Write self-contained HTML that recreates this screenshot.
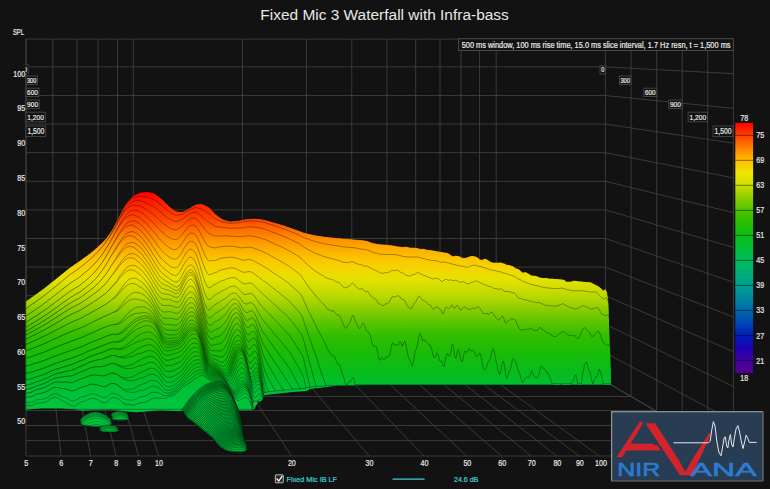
<!DOCTYPE html><html><head><meta charset="utf-8"><title>Fixed Mic 3 Waterfall with Infra-bass</title><style>html,body{margin:0;padding:0;background:#121212;overflow:hidden}body{width:770px;height:489px;position:relative}</style></head><body><svg width="770" height="489" viewBox="0 0 770 489" style="position:absolute;left:0;top:0;font-family:'Liberation Sans',sans-serif">
<defs><linearGradient id="wg" gradientUnits="userSpaceOnUse" x1="0" y1="192" x2="0" y2="460"><stop offset="0.0000" stop-color="#ff0000"/><stop offset="0.0261" stop-color="#ff1600"/><stop offset="0.0709" stop-color="#ff3200"/><stop offset="0.1142" stop-color="#ff5200"/><stop offset="0.1493" stop-color="#ff7600"/><stop offset="0.1843" stop-color="#ff9600"/><stop offset="0.2201" stop-color="#fdb200"/><stop offset="0.2549" stop-color="#fac800"/><stop offset="0.2910" stop-color="#f2d700"/><stop offset="0.3246" stop-color="#e6e100"/><stop offset="0.3582" stop-color="#d0dd00"/><stop offset="0.3951" stop-color="#b4d700"/><stop offset="0.4291" stop-color="#92cf00"/><stop offset="0.4653" stop-color="#6ec800"/><stop offset="0.5000" stop-color="#4ec300"/><stop offset="0.5354" stop-color="#32be00"/><stop offset="0.5896" stop-color="#1cbc05"/><stop offset="0.6754" stop-color="#06bc1c"/><stop offset="0.7164" stop-color="#00bf2e"/><stop offset="0.7799" stop-color="#00c43c"/><stop offset="1.0000" stop-color="#00c43e"/></linearGradient><linearGradient id="cb" gradientUnits="userSpaceOnUse" x1="0" y1="122.8" x2="0" y2="373"><stop offset="0.000" stop-color="#ff0000"/><stop offset="0.050" stop-color="#ff4000"/><stop offset="0.100" stop-color="#ff8000"/><stop offset="0.150" stop-color="#ffbe00"/><stop offset="0.200" stop-color="#f0e400"/><stop offset="0.250" stop-color="#cdde00"/><stop offset="0.300" stop-color="#8ccd00"/><stop offset="0.350" stop-color="#50c300"/><stop offset="0.400" stop-color="#28be00"/><stop offset="0.450" stop-color="#0abe14"/><stop offset="0.500" stop-color="#00be37"/><stop offset="0.550" stop-color="#00bc5a"/><stop offset="0.600" stop-color="#00af78"/><stop offset="0.650" stop-color="#00a091"/><stop offset="0.700" stop-color="#0087a0"/><stop offset="0.750" stop-color="#0069aa"/><stop offset="0.800" stop-color="#0046b4"/><stop offset="0.850" stop-color="#001eb9"/><stop offset="0.900" stop-color="#1e00af"/><stop offset="0.950" stop-color="#4100a0"/><stop offset="1.000" stop-color="#55008c"/></linearGradient></defs>
<rect width="770" height="489" fill="#121212"/>
<g id="grid" shape-rendering="auto">
<line x1="26.0" y1="39.1" x2="26.0" y2="381.5" stroke="#474747" stroke-width="0.75" />
<line x1="52.8" y1="39.1" x2="52.8" y2="381.5" stroke="#474747" stroke-width="0.75" />
<line x1="77.1" y1="39.1" x2="77.1" y2="381.5" stroke="#474747" stroke-width="0.75" />
<line x1="98.1" y1="39.1" x2="98.1" y2="381.5" stroke="#474747" stroke-width="0.75" />
<line x1="117.5" y1="39.1" x2="117.5" y2="381.5" stroke="#474747" stroke-width="0.75" />
<line x1="133.3" y1="39.1" x2="133.3" y2="381.5" stroke="#474747" stroke-width="0.75" />
<line x1="242.5" y1="39.1" x2="242.5" y2="381.5" stroke="#474747" stroke-width="0.75" />
<line x1="306.4" y1="39.1" x2="306.4" y2="381.5" stroke="#474747" stroke-width="0.75" />
<line x1="351.8" y1="39.1" x2="351.8" y2="381.5" stroke="#474747" stroke-width="0.75" />
<line x1="386.9" y1="39.1" x2="386.9" y2="381.5" stroke="#474747" stroke-width="0.75" />
<line x1="415.7" y1="39.1" x2="415.7" y2="381.5" stroke="#474747" stroke-width="0.75" />
<line x1="440.0" y1="39.1" x2="440.0" y2="381.5" stroke="#474747" stroke-width="0.75" />
<line x1="461.0" y1="39.1" x2="461.0" y2="381.5" stroke="#474747" stroke-width="0.75" />
<line x1="479.6" y1="39.1" x2="479.6" y2="381.5" stroke="#474747" stroke-width="0.75" />
<line x1="496.2" y1="39.1" x2="496.2" y2="381.5" stroke="#474747" stroke-width="0.75" />
<line x1="605.4" y1="39.1" x2="605.4" y2="381.5" stroke="#474747" stroke-width="0.75" />
<line x1="26.0" y1="39.1" x2="605.5" y2="39.1" stroke="#474747" stroke-width="0.75" />
<line x1="605.5" y1="39.1" x2="733.4" y2="39.3" stroke="#474747" stroke-width="0.75" />
<line x1="26.0" y1="66.9" x2="605.5" y2="66.9" stroke="#474747" stroke-width="0.75" />
<line x1="605.5" y1="66.9" x2="733.4" y2="73.7" stroke="#474747" stroke-width="0.75" />
<line x1="26.0" y1="95.5" x2="605.5" y2="95.5" stroke="#474747" stroke-width="0.75" />
<line x1="605.5" y1="95.5" x2="733.4" y2="108.4" stroke="#474747" stroke-width="0.75" />
<line x1="26.0" y1="124.1" x2="605.5" y2="124.1" stroke="#474747" stroke-width="0.75" />
<line x1="605.5" y1="124.1" x2="733.4" y2="143.2" stroke="#474747" stroke-width="0.75" />
<line x1="26.0" y1="152.7" x2="605.5" y2="152.7" stroke="#474747" stroke-width="0.75" />
<line x1="605.5" y1="152.7" x2="733.4" y2="177.9" stroke="#474747" stroke-width="0.75" />
<line x1="26.0" y1="181.3" x2="605.5" y2="181.3" stroke="#474747" stroke-width="0.75" />
<line x1="605.5" y1="181.3" x2="733.4" y2="212.7" stroke="#474747" stroke-width="0.75" />
<line x1="26.0" y1="209.9" x2="605.5" y2="209.9" stroke="#474747" stroke-width="0.75" />
<line x1="605.5" y1="209.9" x2="733.4" y2="247.5" stroke="#474747" stroke-width="0.75" />
<line x1="26.0" y1="238.5" x2="605.5" y2="238.5" stroke="#474747" stroke-width="0.75" />
<line x1="605.5" y1="238.5" x2="733.4" y2="282.2" stroke="#474747" stroke-width="0.75" />
<line x1="26.0" y1="267.1" x2="605.5" y2="267.1" stroke="#474747" stroke-width="0.75" />
<line x1="605.5" y1="267.1" x2="733.4" y2="317.0" stroke="#474747" stroke-width="0.75" />
<line x1="26.0" y1="295.7" x2="605.5" y2="295.7" stroke="#474747" stroke-width="0.75" />
<line x1="605.5" y1="295.7" x2="733.4" y2="351.7" stroke="#474747" stroke-width="0.75" />
<line x1="26.0" y1="324.3" x2="605.5" y2="324.3" stroke="#474747" stroke-width="0.75" />
<line x1="605.5" y1="324.3" x2="733.4" y2="386.5" stroke="#474747" stroke-width="0.75" />
<line x1="26.0" y1="352.9" x2="605.5" y2="352.9" stroke="#474747" stroke-width="0.75" />
<line x1="605.5" y1="352.9" x2="733.4" y2="421.2" stroke="#474747" stroke-width="0.75" />
<line x1="26.0" y1="381.5" x2="605.5" y2="381.5" stroke="#474747" stroke-width="0.75" />
<line x1="605.5" y1="381.5" x2="733.4" y2="456.0" stroke="#474747" stroke-width="0.75" />
<line x1="631.1" y1="39.1" x2="631.1" y2="396.4" stroke="#474747" stroke-width="0.75" />
<line x1="656.7" y1="39.2" x2="656.7" y2="411.3" stroke="#474747" stroke-width="0.75" />
<line x1="682.2" y1="39.2" x2="682.2" y2="426.2" stroke="#474747" stroke-width="0.75" />
<line x1="707.8" y1="39.3" x2="707.8" y2="441.1" stroke="#474747" stroke-width="0.75" />
<line x1="733.4" y1="39.3" x2="733.4" y2="456.0" stroke="#474747" stroke-width="0.75" />
<line x1="26.0" y1="396.4" x2="631.1" y2="396.4" stroke="#474747" stroke-width="0.75" />
<line x1="26.0" y1="410.5" x2="656.7" y2="410.5" stroke="#474747" stroke-width="0.75" />
<line x1="26.0" y1="425.5" x2="682.2" y2="425.5" stroke="#474747" stroke-width="0.75" />
<line x1="26.0" y1="440.6" x2="707.8" y2="440.6" stroke="#474747" stroke-width="0.75" />
<line x1="26.0" y1="456.0" x2="733.4" y2="456.0" stroke="#474747" stroke-width="0.75" />
<line x1="52.8" y1="381.5" x2="61.1" y2="456.0" stroke="#474747" stroke-width="0.75" />
<line x1="77.1" y1="381.5" x2="90.6" y2="456.0" stroke="#474747" stroke-width="0.75" />
<line x1="98.1" y1="381.5" x2="116.1" y2="456.0" stroke="#474747" stroke-width="0.75" />
<line x1="117.5" y1="381.5" x2="138.7" y2="456.0" stroke="#474747" stroke-width="0.75" />
<line x1="133.3" y1="381.5" x2="158.8" y2="456.0" stroke="#474747" stroke-width="0.75" />
<line x1="242.5" y1="381.5" x2="291.5" y2="456.0" stroke="#474747" stroke-width="0.75" />
<line x1="306.4" y1="381.5" x2="369.1" y2="456.0" stroke="#474747" stroke-width="0.75" />
<line x1="351.8" y1="381.5" x2="424.1" y2="456.0" stroke="#474747" stroke-width="0.75" />
<line x1="386.9" y1="381.5" x2="466.8" y2="456.0" stroke="#474747" stroke-width="0.75" />
<line x1="415.7" y1="381.5" x2="501.7" y2="456.0" stroke="#474747" stroke-width="0.75" />
<line x1="440.0" y1="381.5" x2="531.2" y2="456.0" stroke="#474747" stroke-width="0.75" />
<line x1="461.0" y1="381.5" x2="556.7" y2="456.0" stroke="#474747" stroke-width="0.75" />
<line x1="479.6" y1="381.5" x2="579.3" y2="456.0" stroke="#474747" stroke-width="0.75" />
<line x1="496.2" y1="381.5" x2="599.4" y2="456.0" stroke="#474747" stroke-width="0.75" />
<line x1="605.4" y1="381.5" x2="732.1" y2="456.0" stroke="#474747" stroke-width="0.75" />
<line x1="26.0" y1="39.1" x2="26.0" y2="456.0" stroke="#474747" stroke-width="0.75" />
</g>
<clipPath id="sil"><polygon points="25.6,301.5 27.4,300.3 44.5,288.0 56.8,278.2 69.1,268.3 81.3,259.8 93.6,250.5 105.9,238.6 112.0,229.8 118.2,217.9 125.5,204.5 132.9,196.0 140.2,192.5 147.0,191.8 153.0,192.8 159.6,197.0 165.0,202.0 170.0,206.8 176.8,211.2 181.7,211.7 189.0,208.2 196.4,204.2 201.3,203.8 208.7,207.0 216.0,214.4 223.4,219.3 230.8,221.2 238.2,220.5 248.0,218.8 255.3,218.5 262.7,219.3 272.5,222.0 282.3,224.8 292.3,228.2 304.5,232.6 316.8,235.4 329.0,237.0 341.3,238.2 353.6,239.2 365.9,240.4 372.0,242.6 378.2,243.8 390.4,245.0 402.7,246.4 415.0,247.4 427.2,249.4 438.4,251.4 447.3,252.9 453.5,255.3 460.0,256.6 466.0,257.4 472.2,255.8 478.0,256.9 493.7,260.5 512.1,266.0 530.5,274.5 548.9,278.2 567.3,280.0 585.7,281.9 595.0,282.6 600.0,287.6 603.4,290.0 605.3,288.0 607.2,292.5 608.4,300.0 609.4,340.0 611.0,384.0 611.0,385.0 530.0,385.0 400.0,385.0 373.0,385.0 337.8,385.4 325.3,387.2 309.7,388.9 306.6,391.0 293.0,392.0 276.4,393.7 263.9,395.3 261.8,400.5 257.7,402.6 254.5,408.8 251.4,410.3 243.0,410.2 176.6,410.9 160.0,410.2 148.8,411.2 136.4,412.2 124.0,411.2 111.4,409.4 92.7,410.0 82.3,410.8 74.0,409.2 61.6,408.3 40.8,408.3 25.6,409.8"/></clipPath>
<polygon points="609.4,340.0 611.0,384.0 611.0,385.0 530.0,385.0 400.0,385.0 373.0,385.0 337.8,385.4 325.3,387.2 309.7,388.9 306.6,391.0 293.0,392.0 276.4,393.7 263.9,395.3 261.8,400.5 257.7,402.6 254.5,408.8 251.4,410.3 243.0,410.2 176.6,410.9 160.0,410.2 148.8,411.2 136.4,412.2 124.0,411.2 111.4,409.4 92.7,410.0 82.3,410.8 74.0,409.2 61.6,408.3 40.8,408.3 25.6,409.8 25.6,399.8 40.8,398.3 61.6,398.3 74.0,399.2 82.3,400.8 92.7,400.0 111.4,399.4 124.0,401.2 136.4,402.2 148.8,401.2 160.0,400.2 176.6,400.9 243.0,400.2 251.4,400.3 254.5,398.8 257.7,392.6 261.8,390.5 263.9,385.3 276.4,383.7 293.0,382.0 306.6,381.0 309.7,378.9 325.3,377.2 337.8,375.4 373.0,375.0 400.0,375.0 530.0,375.0 611.0,375.0 611.0,374.0 609.4,330.0" fill="#00c23c"/>
<g clip-path="url(#sil)"><g fill="url(#wg)" stroke="#000" stroke-opacity="0.62" stroke-width="0.55" stroke-linejoin="round">
<path d="M25.8,381.7 25.8,301.5 27.1,300.5 28.3,299.6 29.6,298.7 30.9,297.8 32.1,296.9 33.4,296.0 34.7,295.1 36.0,294.2 37.2,293.3 38.5,292.4 39.8,291.5 41.0,290.6 42.3,289.6 43.6,288.7 44.8,287.7 46.1,286.8 47.4,285.8 48.6,284.8 49.9,283.8 51.2,282.7 52.5,281.7 53.7,280.7 55.0,279.7 56.3,278.6 57.5,277.6 58.8,276.6 60.1,275.5 61.3,274.5 62.6,273.4 63.9,272.4 65.1,271.4 66.4,270.4 67.7,269.4 69.0,268.4 70.2,267.5 71.5,266.6 72.8,265.7 74.0,264.8 75.3,263.9 76.6,263.1 77.8,262.2 79.1,261.4 80.4,260.5 81.6,259.5 82.9,258.6 84.2,257.7 85.5,256.8 86.7,255.9 88.0,254.9 89.3,254.0 90.5,253.0 91.8,252.0 93.1,250.9 94.3,249.9 95.6,248.8 96.9,247.7 98.1,246.5 99.4,245.4 100.7,244.2 102.0,242.9 103.2,241.6 104.5,240.2 105.8,238.8 107.0,237.2 108.3,235.5 109.6,233.6 110.8,231.7 112.1,229.6 113.4,227.4 114.6,224.9 115.9,222.4 117.2,219.9 118.5,217.4 119.7,215.0 121.0,212.4 122.3,210.0 123.5,207.6 124.8,205.5 126.1,203.7 127.3,201.9 128.6,200.3 129.9,198.8 131.2,197.4 132.4,196.3 133.7,195.5 135.0,194.7 136.2,194.0 137.5,193.3 138.8,192.9 140.0,192.5 141.3,192.3 142.6,192.1 143.8,192.0 145.1,191.9 146.4,191.8 147.7,191.8 148.9,191.9 150.2,192.1 151.5,192.4 152.7,192.7 154.0,193.1 155.3,193.8 156.5,194.7 157.8,195.6 159.1,196.6 160.3,197.6 161.6,198.7 162.9,199.9 164.2,201.2 165.4,202.4 166.7,203.7 168.0,205.0 169.2,206.2 170.5,207.2 171.8,208.2 173.0,209.2 174.3,210.1 175.6,210.8 176.8,211.2 178.1,211.4 179.4,211.6 180.7,211.7 181.9,211.7 183.2,211.4 184.5,210.9 185.7,210.2 187.0,209.4 188.3,208.6 189.5,207.9 190.8,207.1 192.1,206.3 193.3,205.4 194.6,204.8 195.9,204.3 197.2,204.1 198.4,204.0 199.7,203.9 201.0,203.8 202.2,203.9 203.5,204.2 204.8,204.7 206.0,205.4 207.3,206.1 208.6,206.9 209.8,207.9 211.1,209.1 212.4,210.6 213.7,212.0 214.9,213.4 216.2,214.6 217.5,215.6 218.7,216.5 220.0,217.5 221.3,218.3 222.5,218.9 223.8,219.5 225.1,219.9 226.3,220.4 227.6,220.7 228.9,221.0 230.2,221.2 231.4,221.2 232.7,221.1 234.0,221.0 235.2,220.9 236.5,220.7 237.8,220.6 239.0,220.4 240.3,220.2 241.6,219.9 242.8,219.6 244.1,219.4 245.4,219.1 246.7,218.9 247.9,218.8 249.2,218.7 250.5,218.7 251.7,218.6 253.0,218.5 254.3,218.5 255.5,218.5 256.8,218.5 258.1,218.7 259.3,218.8 260.6,219.0 261.9,219.2 263.2,219.4 264.4,219.6 265.7,219.9 267.0,220.3 268.2,220.7 269.5,221.1 270.8,221.5 272.0,221.9 273.3,222.2 274.6,222.6 275.8,222.9 277.1,223.3 278.4,223.6 279.7,224.0 280.9,224.4 282.2,224.8 283.5,225.2 284.7,225.6 286.0,226.0 287.3,226.4 288.5,226.9 289.8,227.3 291.1,227.8 292.3,228.2 293.6,228.7 294.9,229.2 296.2,229.6 297.4,230.1 298.7,230.6 300.0,231.1 301.2,231.6 302.5,232.0 303.8,232.4 305.0,232.8 306.3,233.1 307.6,233.4 308.8,233.7 310.1,234.1 311.4,234.3 312.7,234.6 313.9,234.9 315.2,235.1 316.5,235.3 317.7,235.6 319.0,235.7 320.3,235.9 321.5,236.1 322.8,236.3 324.1,236.4 325.4,236.6 326.6,236.7 327.9,236.9 329.2,237.0 330.4,237.2 331.7,237.3 333.0,237.4 334.2,237.5 335.5,237.7 336.8,237.8 338.0,237.9 339.3,238.0 340.6,238.1 341.9,238.2 343.1,238.4 344.4,238.5 345.7,238.6 346.9,238.7 348.2,238.8 349.5,238.9 350.7,239.0 352.0,239.1 353.3,239.2 354.5,239.3 355.8,239.4 357.1,239.5 358.4,239.6 359.6,239.7 360.9,239.8 362.2,239.9 363.4,240.1 364.7,240.2 366.0,240.4 367.2,240.7 368.5,241.2 369.8,241.8 371.0,242.3 372.3,242.7 373.6,243.0 374.9,243.2 376.1,243.5 377.4,243.7 378.7,243.9 379.9,244.0 381.2,244.2 382.5,244.3 383.7,244.3 385.0,244.3 386.3,244.3 387.5,244.5 388.8,244.7 390.1,245.0 391.4,245.1 392.6,245.3 393.9,245.4 395.2,245.7 396.4,246.0 397.7,246.2 399.0,246.4 400.2,246.5 401.5,246.7 402.8,246.7 404.0,246.6 405.3,246.3 406.6,246.4 407.9,246.7 409.1,247.3 410.4,247.6 411.7,247.6 412.9,247.5 414.2,247.4 415.5,247.4 416.7,247.7 418.0,248.1 419.3,248.6 420.5,248.7 421.8,248.5 423.1,248.2 424.4,248.3 425.6,248.9 426.9,249.4 428.2,249.6 429.4,249.6 430.7,249.4 432.0,249.5 433.2,249.6 434.5,249.7 435.8,249.8 437.0,250.0 438.3,250.5 439.6,251.2 440.9,251.7 442.1,251.6 443.4,251.0 444.7,250.5 445.9,250.7 447.2,251.8 448.5,253.1 449.7,254.1 451.0,255.1 452.3,255.9 453.5,256.1 454.8,255.7 456.1,254.8 457.4,254.4 458.6,254.8 459.9,255.9 461.2,257.2 462.4,257.8 463.7,257.8 465.0,257.7 466.2,257.6 467.5,257.1 468.8,256.3 470.0,255.5 471.3,255.2 472.6,255.6 473.9,255.8 475.1,256.0 476.4,256.6 477.7,257.4 478.9,258.5 480.2,259.4 481.5,259.8 482.7,259.4 484.0,258.8 485.3,258.5 486.5,258.9 487.8,259.9 489.1,260.7 490.4,261.4 491.6,262.1 492.9,262.4 494.2,262.4 495.4,262.5 496.7,262.5 498.0,262.5 499.2,262.4 500.5,262.1 501.8,262.0 503.0,262.2 504.3,262.9 505.6,264.1 506.9,264.7 508.1,264.5 509.4,264.0 510.7,263.9 511.9,264.8 513.2,266.1 514.5,267.3 515.7,268.1 517.0,268.4 518.3,268.8 519.6,269.7 520.8,271.1 522.1,272.1 523.4,272.4 524.6,272.0 525.9,271.7 527.2,272.0 528.4,273.1 529.7,274.2 531.0,275.0 532.2,275.4 533.5,275.5 534.8,275.5 536.1,275.8 537.3,276.2 538.6,276.8 539.9,277.4 541.1,277.6 542.4,277.7 543.7,277.9 544.9,277.7 546.2,277.8 547.5,278.1 548.7,278.3 550.0,278.4 551.3,278.2 552.6,278.1 553.8,278.4 555.1,278.7 556.4,278.5 557.6,278.2 558.9,278.0 560.2,278.2 561.4,278.5 562.7,278.9 564.0,279.6 565.2,280.6 566.5,281.4 567.8,281.6 569.1,281.5 570.3,281.6 571.6,281.3 572.9,280.7 574.1,279.9 575.4,279.4 576.7,280.0 577.9,280.8 579.2,281.0 580.5,280.6 581.7,280.2 583.0,280.4 584.3,281.2 585.6,281.6 586.8,281.4 588.1,281.3 589.4,281.5 590.6,282.1 591.9,282.8 593.2,283.5 594.4,284.1 595.7,284.8 597.0,285.4 598.2,286.0 599.5,286.6 600.8,287.7 602.1,289.3 603.3,290.6 604.6,289.4 605.9,289.0 607.1,292.1 608.4,299.0 608.4,381.7Z"/>
<path d="M25.8,382.4 25.8,301.4 27.1,300.4 28.3,299.5 29.6,298.6 30.9,297.7 32.2,296.8 33.4,295.9 34.7,295.0 36.0,294.1 37.2,293.2 38.5,292.3 39.8,291.3 41.1,290.4 42.3,289.5 43.6,288.6 44.9,287.6 46.2,286.6 47.4,285.6 48.7,284.6 50.0,283.6 51.2,282.6 52.5,281.5 53.8,280.5 55.1,279.5 56.3,278.5 57.6,277.4 58.9,276.4 60.1,275.4 61.4,274.3 62.7,273.3 64.0,272.2 65.2,271.2 66.5,270.2 67.8,269.2 69.0,268.2 70.3,267.3 71.6,266.4 72.9,265.5 74.1,264.6 75.4,263.8 76.7,262.9 78.0,262.0 79.2,261.2 80.5,260.3 81.8,259.3 83.0,258.4 84.3,257.5 85.6,256.6 86.9,255.7 88.1,254.7 89.4,253.8 90.7,252.8 91.9,251.8 93.2,250.7 94.5,249.6 95.8,248.6 97.0,247.4 98.3,246.3 99.6,245.1 100.8,243.9 102.1,242.7 103.4,241.4 104.7,240.0 105.9,238.5 107.2,236.9 108.5,235.2 109.8,233.4 111.0,231.5 112.3,229.4 113.6,227.2 114.8,224.8 116.1,222.3 117.4,219.8 118.7,217.4 119.9,215.0 121.2,212.5 122.5,210.2 123.7,207.9 125.0,206.0 126.3,204.3 127.6,202.7 128.8,201.3 130.1,200.0 131.4,198.9 132.6,198.1 133.9,197.6 135.2,197.2 136.5,196.8 137.7,196.4 139.0,196.3 140.3,196.2 141.6,196.4 142.8,196.5 144.1,196.7 145.4,196.9 146.6,197.1 147.9,197.4 149.2,197.8 150.5,198.2 151.7,198.7 153.0,199.2 154.3,199.7 155.5,200.5 156.8,201.5 158.1,202.5 159.4,203.5 160.6,204.5 161.9,205.6 163.2,206.7 164.4,207.9 165.7,208.9 167.0,210.0 168.3,211.1 169.5,212.0 170.8,212.8 172.1,213.5 173.4,214.2 174.6,214.8 175.9,215.2 177.2,215.2 178.4,215.0 179.7,214.8 181.0,214.6 182.3,214.3 183.5,213.8 184.8,213.0 186.1,212.1 187.3,211.2 188.6,210.4 189.9,209.8 191.2,209.1 192.4,208.5 193.7,208.0 195.0,207.6 196.2,207.6 197.5,207.9 198.8,208.3 200.1,208.7 201.3,209.1 202.6,209.6 203.9,210.4 205.2,211.2 206.4,212.1 207.7,213.0 209.0,213.7 210.2,214.6 211.5,215.7 212.8,216.9 214.1,218.0 215.3,219.0 216.6,219.7 217.9,220.2 219.1,220.7 220.4,221.2 221.7,221.6 223.0,222.0 224.2,222.2 225.5,222.4 226.8,222.7 228.0,222.9 229.3,223.1 230.6,223.2 231.9,223.2 233.1,223.1 234.4,223.0 235.7,222.9 237.0,222.8 238.2,222.7 239.5,222.6 240.8,222.4 242.0,222.1 243.3,221.9 244.6,221.6 245.9,221.4 247.1,221.2 248.4,221.2 249.7,221.1 250.9,221.1 252.2,221.1 253.5,221.1 254.8,221.1 256.0,221.1 257.3,221.2 258.6,221.4 259.8,221.6 261.1,221.8 262.4,222.1 263.7,222.3 264.9,222.6 266.2,223.0 267.5,223.4 268.8,223.9 270.0,224.3 271.3,224.8 272.6,225.2 273.8,225.6 275.1,226.0 276.4,226.4 277.7,226.8 278.9,227.2 280.2,227.7 281.5,228.1 282.7,228.5 284.0,229.0 285.3,229.4 286.6,229.9 287.8,230.4 289.1,230.9 290.4,231.5 291.7,232.0 292.9,232.5 294.2,233.0 295.5,233.6 296.7,234.1 298.0,234.7 299.3,235.3 300.6,235.9 301.8,236.5 303.1,237.1 304.4,237.7 305.6,238.2 306.9,238.7 308.2,239.2 309.5,239.7 310.7,240.1 312.0,240.5 313.3,240.9 314.5,241.3 315.8,241.6 317.1,242.0 318.4,242.3 319.6,242.6 320.9,242.9 322.2,243.2 323.5,243.5 324.7,243.7 326.0,244.0 327.3,244.2 328.5,244.4 329.8,244.7 331.1,244.9 332.4,245.1 333.6,245.3 334.9,245.5 336.2,245.7 337.4,245.9 338.7,246.0 340.0,246.3 341.3,246.5 342.5,246.7 343.8,246.9 345.1,247.0 346.3,247.2 347.6,247.3 348.9,247.3 350.2,247.4 351.4,247.4 352.7,247.5 354.0,247.8 355.3,248.0 356.5,248.2 357.8,248.4 359.1,248.7 360.3,248.8 361.6,249.1 362.9,249.4 364.2,249.5 365.4,249.5 366.7,249.7 368.0,250.2 369.2,250.8 370.5,251.2 371.8,251.8 373.1,252.4 374.3,252.7 375.6,252.9 376.9,253.2 378.1,253.6 379.4,254.0 380.7,254.3 382.0,254.4 383.2,254.3 384.5,254.4 385.8,254.5 387.1,254.5 388.3,254.5 389.6,254.5 390.9,254.3 392.1,254.4 393.4,254.6 394.7,254.6 396.0,254.6 397.2,254.9 398.5,255.2 399.8,255.6 401.0,255.9 402.3,256.2 403.6,256.5 404.9,256.7 406.1,256.9 407.4,257.0 408.7,257.1 409.9,257.1 411.2,256.9 412.5,257.0 413.8,257.1 415.0,257.0 416.3,256.9 417.6,257.0 418.9,257.4 420.1,257.7 421.4,258.0 422.7,258.4 423.9,258.6 425.2,258.9 426.5,259.4 427.8,259.6 429.0,259.8 430.3,260.1 431.6,260.4 432.8,260.5 434.1,260.6 435.4,260.7 436.7,260.8 437.9,261.0 439.2,261.6 440.5,262.1 441.7,262.2 443.0,262.1 444.3,262.1 445.6,262.2 446.8,262.5 448.1,262.9 449.4,263.2 450.7,263.5 451.9,264.0 453.2,264.3 454.5,264.6 455.7,264.9 457.0,265.3 458.3,265.6 459.6,265.8 460.8,265.9 462.1,266.1 463.4,266.4 464.6,266.8 465.9,267.1 467.2,267.2 468.5,267.0 469.7,266.4 471.0,265.9 472.3,265.5 473.5,265.3 474.8,265.2 476.1,265.4 477.4,265.9 478.6,266.2 479.9,266.4 481.2,266.8 482.5,267.2 483.7,267.5 485.0,268.0 486.3,268.4 487.5,268.8 488.8,269.1 490.1,269.5 491.4,270.0 492.6,270.3 493.9,270.4 495.2,270.6 496.4,271.0 497.7,271.3 499.0,271.6 500.3,271.8 501.5,272.2 502.8,272.8 504.1,273.2 505.3,273.4 506.6,273.7 507.9,274.2 509.2,274.7 510.4,275.2 511.7,275.5 513.0,275.9 514.3,276.4 515.5,277.3 516.8,278.2 518.1,278.9 519.3,279.3 520.6,279.8 521.9,280.6 523.2,281.3 524.4,281.7 525.7,282.2 527.0,282.9 528.2,283.4 529.5,283.8 530.8,284.3 532.1,284.6 533.3,284.8 534.6,285.2 535.9,285.6 537.1,285.8 538.4,286.1 539.7,286.5 541.0,286.8 542.2,287.1 543.5,287.4 544.8,287.7 546.1,287.7 547.3,287.8 548.6,288.0 549.9,288.2 551.1,288.3 552.4,288.4 553.7,288.5 555.0,288.5 556.2,288.5 557.5,288.6 558.8,288.6 560.0,288.3 561.3,288.2 562.6,288.4 563.9,288.7 565.1,289.0 566.4,289.5 567.7,289.8 568.9,290.0 570.2,290.3 571.5,290.6 572.8,290.8 574.0,290.8 575.3,290.7 576.6,290.7 577.9,290.8 579.1,290.7 580.4,290.7 581.7,290.8 582.9,290.9 584.2,291.1 585.5,291.3 586.8,291.5 588.0,291.7 589.3,291.8 590.6,292.0 591.8,292.1 593.1,291.9 594.4,291.9 595.7,292.0 596.9,292.4 598.2,293.7 599.5,295.5 600.7,297.0 602.0,297.8 603.3,298.7 604.6,299.2 605.8,298.0 607.1,298.2 608.4,302.1 609.7,309.9 609.7,382.4Z"/>
<path d="M25.8,383.2 25.8,309.0 27.1,308.1 28.3,307.2 29.6,306.2 30.9,305.3 32.2,304.4 33.4,303.5 34.7,302.6 36.0,301.7 37.3,300.8 38.5,299.9 39.8,299.0 41.1,298.0 42.4,297.1 43.6,296.1 44.9,295.2 46.2,294.2 47.5,293.2 48.7,292.1 50.0,291.1 51.3,290.1 52.6,289.1 53.8,288.0 55.1,287.0 56.4,285.9 57.7,284.9 58.9,283.8 60.2,282.8 61.5,281.7 62.8,280.6 64.0,279.6 65.3,278.5 66.6,277.5 67.9,276.5 69.1,275.5 70.4,274.6 71.7,273.7 73.0,272.8 74.2,271.9 75.5,271.0 76.8,270.1 78.1,269.3 79.3,268.3 80.6,267.3 81.9,266.2 83.2,265.2 84.4,264.1 85.7,263.1 87.0,262.0 88.3,261.0 89.5,259.9 90.8,258.7 92.1,257.6 93.4,256.4 94.6,255.1 95.9,253.9 97.2,252.6 98.5,251.2 99.7,249.8 101.0,248.4 102.3,246.9 103.6,245.3 104.8,243.6 106.1,241.9 107.4,240.0 108.7,238.1 109.9,236.0 111.2,233.9 112.5,231.7 113.8,229.3 115.0,226.8 116.3,224.3 117.6,221.8 118.9,219.5 120.1,217.1 121.4,214.8 122.7,212.6 124.0,210.5 125.2,208.6 126.5,207.0 127.8,205.6 129.1,204.3 130.3,203.1 131.6,202.2 132.9,201.5 134.2,201.1 135.4,200.8 136.7,200.6 138.0,200.5 139.3,200.6 140.5,200.9 141.8,201.3 143.1,201.7 144.4,202.2 145.6,202.7 146.9,203.2 148.2,203.8 149.4,204.4 150.7,205.1 152.0,205.8 153.3,206.5 154.5,207.2 155.8,208.2 157.1,209.3 158.4,210.4 159.6,211.5 160.9,212.5 162.2,213.5 163.5,214.6 164.7,215.7 166.0,216.6 167.3,217.6 168.6,218.5 169.8,219.3 171.1,219.9 172.4,220.4 173.7,220.9 174.9,221.3 176.2,221.4 177.5,221.1 178.8,220.6 180.0,220.1 181.3,219.6 182.6,218.9 183.9,218.1 185.1,217.0 186.4,215.9 187.7,214.9 189.0,214.0 190.2,213.4 191.5,212.8 192.8,212.4 194.1,212.2 195.3,212.2 196.6,212.6 197.9,213.4 199.2,214.4 200.4,215.3 201.7,216.3 203.0,217.4 204.3,218.6 205.5,219.8 206.8,221.0 208.1,221.9 209.4,222.6 210.6,223.3 211.9,224.2 213.2,225.1 214.5,225.9 215.7,226.5 217.0,226.7 218.3,226.8 219.6,227.0 220.8,227.2 222.1,227.4 223.4,227.5 224.7,227.6 225.9,227.7 227.2,227.8 228.5,228.0 229.8,228.1 231.0,228.2 232.3,228.2 233.6,228.2 234.9,228.1 236.1,228.1 237.4,228.1 238.7,228.0 240.0,228.0 241.2,227.9 242.5,227.7 243.8,227.5 245.1,227.2 246.3,227.0 247.6,226.9 248.9,226.8 250.2,226.8 251.4,226.9 252.7,227.0 254.0,227.1 255.3,227.2 256.5,227.3 257.8,227.5 259.1,227.7 260.4,228.0 261.6,228.3 262.9,228.6 264.2,229.0 265.5,229.3 266.7,229.8 268.0,230.3 269.3,230.8 270.6,231.3 271.8,231.8 273.1,232.3 274.4,232.8 275.6,233.3 276.9,233.8 278.2,234.2 279.5,234.7 280.7,235.2 282.0,235.7 283.3,236.2 284.6,236.7 285.8,237.3 287.1,237.9 288.4,238.5 289.7,239.1 290.9,239.7 292.2,240.3 293.5,240.9 294.8,241.5 296.0,242.1 297.3,242.8 298.6,243.4 299.9,244.2 301.1,245.1 302.4,246.0 303.7,246.9 305.0,247.7 306.2,248.5 307.5,249.2 308.8,249.9 310.1,250.6 311.3,251.2 312.6,251.9 313.9,252.5 315.2,253.1 316.4,253.6 317.7,254.2 319.0,254.6 320.3,255.1 321.5,255.6 322.8,256.1 324.1,256.6 325.4,257.0 326.6,257.4 327.9,257.6 329.2,258.0 330.5,258.4 331.7,258.6 333.0,258.9 334.3,259.3 335.6,259.7 336.8,260.0 338.1,260.2 339.4,260.6 340.7,261.1 341.9,261.8 343.2,262.2 344.5,262.4 345.8,262.5 347.0,262.6 348.3,262.5 349.6,262.2 350.9,261.8 352.1,261.6 353.4,262.0 354.7,262.7 356.0,263.2 357.2,263.6 358.5,264.2 359.8,264.6 361.1,264.6 362.3,265.2 363.6,266.0 364.9,266.1 366.2,265.9 367.4,266.1 368.7,267.0 370.0,267.9 371.3,268.3 372.5,269.1 373.8,269.9 375.1,270.2 376.4,270.7 377.6,271.5 378.9,272.1 380.2,272.7 381.5,273.3 382.7,273.4 384.0,272.8 385.3,272.7 386.6,272.9 387.8,272.5 389.1,272.0 390.4,271.3 391.7,270.4 392.9,270.4 394.2,270.7 395.5,270.3 396.7,270.0 398.0,270.5 399.3,271.2 400.6,272.2 401.8,272.8 403.1,273.1 404.4,274.0 405.7,275.0 406.9,275.6 408.2,275.8 409.5,276.0 410.8,275.9 412.0,275.0 413.3,274.5 414.6,274.3 415.9,273.7 417.1,272.7 418.4,272.5 419.7,273.3 421.0,274.2 422.2,274.7 423.5,275.2 424.8,275.6 426.1,276.1 427.3,277.1 428.6,277.3 429.9,277.6 431.2,278.5 432.4,279.1 433.7,278.7 435.0,278.3 436.3,278.4 437.5,278.6 438.8,278.8 440.1,280.0 441.4,281.5 442.6,281.3 443.9,280.1 445.2,279.4 446.5,279.5 447.7,280.0 449.0,280.3 450.3,279.9 451.6,280.0 452.8,280.7 454.1,280.7 455.4,280.3 456.7,280.6 457.9,281.4 459.2,282.1 460.5,282.2 461.8,281.9 463.0,281.7 464.3,282.2 465.6,283.0 466.9,283.6 468.1,283.9 469.4,283.6 470.7,282.7 472.0,282.3 473.2,282.1 474.5,281.6 475.8,281.0 477.1,281.1 478.3,281.8 479.6,282.3 480.9,283.0 482.2,283.7 483.4,284.2 484.7,284.7 486.0,285.2 487.3,285.9 488.5,286.4 489.8,286.3 491.1,286.7 492.4,287.7 493.6,288.3 494.9,288.4 496.2,288.6 497.5,289.2 498.7,289.4 500.0,289.0 501.3,288.7 502.6,289.6 503.8,291.2 505.1,291.7 506.4,291.3 507.7,291.4 508.9,291.7 510.2,291.9 511.5,292.4 512.8,292.8 514.0,292.9 515.3,293.9 516.6,295.8 517.8,297.4 519.1,298.2 520.4,298.5 521.7,298.5 522.9,299.3 524.2,299.9 525.5,299.8 526.8,300.0 528.0,300.7 529.3,300.9 530.6,301.2 531.9,301.9 533.1,302.1 534.4,302.0 535.7,302.5 537.0,302.8 538.2,302.4 539.5,302.6 540.8,303.5 542.1,303.9 543.3,304.2 544.6,305.1 545.9,305.6 547.2,305.3 548.4,305.3 549.7,305.7 551.0,306.1 552.3,306.0 553.5,306.1 554.8,306.3 556.1,305.9 557.4,305.6 558.6,305.4 559.9,305.0 561.2,304.2 562.5,303.7 563.7,304.1 565.0,304.8 566.3,305.6 567.6,306.6 568.8,307.0 570.1,307.3 571.4,307.9 572.7,308.4 573.9,308.6 575.2,308.8 576.5,308.7 577.8,308.3 579.0,307.8 580.3,306.8 581.6,306.1 582.9,305.8 584.1,305.9 585.4,306.5 586.7,306.9 588.0,307.5 589.2,308.4 590.5,308.9 591.8,309.1 593.1,308.9 594.3,308.3 595.6,307.8 596.9,307.6 598.2,308.2 599.4,310.1 600.7,312.5 602.0,314.4 603.3,314.8 604.5,315.1 605.8,315.8 607.1,315.0 608.4,315.4 609.6,319.6 610.9,327.7 610.9,383.2Z"/>
<path d="M25.8,383.9 25.8,308.9 27.1,308.0 28.4,307.0 29.6,306.1 30.9,305.2 32.2,304.3 33.5,303.4 34.7,302.5 36.0,301.6 37.3,300.7 38.6,299.8 39.9,298.8 41.1,297.9 42.4,297.0 43.7,296.0 45.0,295.0 46.2,294.0 47.5,293.0 48.8,292.0 50.1,291.0 51.3,289.9 52.6,288.9 53.9,287.9 55.2,286.8 56.5,285.8 57.7,284.7 59.0,283.7 60.3,282.6 61.6,281.5 62.8,280.5 64.1,279.4 65.4,278.4 66.7,277.3 68.0,276.3 69.2,275.3 70.5,274.4 71.8,273.5 73.1,272.6 74.3,271.7 75.6,270.8 76.9,270.0 78.2,269.1 79.5,268.1 80.7,267.1 82.0,266.0 83.3,265.0 84.6,263.9 85.8,262.9 87.1,261.8 88.4,260.7 89.7,259.6 91.0,258.5 92.2,257.4 93.5,256.2 94.8,254.9 96.1,253.6 97.3,252.3 98.6,251.0 99.9,249.6 101.2,248.1 102.4,246.6 103.7,245.0 105.0,243.4 106.3,241.6 107.6,239.8 108.8,237.8 110.1,235.8 111.4,233.8 112.7,231.7 113.9,229.5 115.2,227.1 116.5,224.7 117.8,222.4 119.1,220.1 120.3,218.0 121.6,215.8 122.9,213.8 124.2,211.9 125.4,210.3 126.7,209.0 128.0,207.8 129.3,206.8 130.6,206.0 131.8,205.5 133.1,205.2 134.4,205.2 135.7,205.3 136.9,205.3 138.2,205.5 139.5,205.8 140.8,206.3 142.0,207.0 143.3,207.7 144.6,208.5 145.9,209.2 147.2,210.0 148.4,210.9 149.7,211.8 151.0,212.8 152.3,213.8 153.5,214.7 154.8,215.6 156.1,216.8 157.4,218.1 158.7,219.3 159.9,220.5 161.2,221.5 162.5,222.7 163.8,223.8 165.0,224.8 166.3,225.7 167.6,226.7 168.9,227.5 170.2,228.2 171.4,228.7 172.7,229.1 174.0,229.5 175.3,229.7 176.5,229.6 177.8,229.1 179.1,228.3 180.4,227.4 181.7,226.4 182.9,225.4 184.2,224.2 185.5,222.8 186.8,221.4 188.0,220.2 189.3,219.3 190.6,218.6 191.9,218.2 193.1,218.0 194.4,218.0 195.7,218.5 197.0,219.4 198.3,220.8 199.5,222.3 200.8,224.0 202.1,225.6 203.4,227.3 204.6,229.0 205.9,230.7 207.2,232.1 208.5,233.2 209.8,233.8 211.0,234.3 212.3,234.9 213.6,235.5 214.9,236.0 216.1,236.2 217.4,236.1 218.7,235.9 220.0,235.9 221.3,235.9 222.5,235.9 223.8,235.9 225.1,235.8 226.4,235.8 227.6,235.9 228.9,236.0 230.2,236.1 231.5,236.2 232.8,236.2 234.0,236.3 235.3,236.3 236.6,236.4 237.9,236.5 239.1,236.6 240.4,236.7 241.7,236.6 243.0,236.5 244.2,236.3 245.5,236.1 246.8,235.9 248.1,235.8 249.4,235.8 250.6,235.9 251.9,236.1 253.2,236.3 254.5,236.5 255.7,236.8 257.0,237.0 258.3,237.3 259.6,237.7 260.9,238.1 262.1,238.5 263.4,238.9 264.7,239.3 266.0,239.8 267.2,240.4 268.5,241.0 269.8,241.6 271.1,242.2 272.4,242.8 273.6,243.4 274.9,244.0 276.2,244.5 277.5,245.1 278.7,245.7 280.0,246.3 281.3,246.8 282.6,247.4 283.8,248.0 285.1,248.6 286.4,249.3 287.7,250.0 289.0,250.7 290.2,251.4 291.5,252.2 292.8,252.9 294.1,253.7 295.3,254.4 296.6,255.2 297.9,256.0 299.2,256.7 300.5,257.7 301.7,259.1 303.0,260.4 304.3,261.7 305.6,262.9 306.8,264.1 308.1,265.2 309.4,266.3 310.7,267.4 312.0,268.4 313.2,269.3 314.5,270.3 315.8,271.2 317.1,272.2 318.3,273.0 319.6,273.7 320.9,274.4 322.2,275.2 323.5,276.1 324.7,276.9 326.0,277.8 327.3,278.3 328.6,278.6 329.8,279.1 331.1,279.6 332.4,279.7 333.7,280.2 334.9,281.1 336.2,281.8 337.5,282.1 338.8,282.4 340.1,283.3 341.3,284.7 342.6,286.3 343.9,287.5 345.2,287.8 346.4,287.5 347.7,287.0 349.0,286.3 350.3,284.9 351.6,283.5 352.8,283.0 354.1,284.2 355.4,286.0 356.7,287.1 357.9,288.1 359.2,289.2 360.5,289.2 361.8,288.5 363.1,289.3 364.3,291.0 365.6,291.8 366.9,291.5 368.2,291.8 369.4,293.6 370.7,295.7 372.0,296.8 373.3,297.9 374.5,298.7 375.8,299.1 377.1,301.1 378.4,303.4 379.7,304.1 380.9,304.4 382.2,305.6 383.5,305.6 384.8,304.0 386.0,303.7 387.3,303.9 388.6,302.9 389.9,300.9 391.2,298.3 392.4,296.5 393.7,297.0 395.0,297.2 396.3,296.3 397.5,295.9 398.8,295.8 400.1,296.9 401.4,299.2 402.7,299.6 403.9,299.4 405.2,301.5 406.5,304.5 407.8,306.7 409.0,307.2 410.3,308.2 411.6,308.5 412.9,305.8 414.2,303.2 415.4,302.2 416.7,300.3 418.0,297.0 419.3,295.9 420.5,297.7 421.8,299.8 423.1,300.3 424.4,300.9 425.6,301.6 426.9,302.6 428.2,304.3 429.5,304.6 430.8,305.5 432.0,308.0 433.3,309.4 434.6,308.4 435.9,306.8 437.1,307.0 438.4,308.3 439.7,308.7 441.0,310.5 442.3,313.6 443.5,313.3 444.8,309.4 446.1,307.3 447.4,307.6 448.6,308.5 449.9,307.9 451.2,305.3 452.5,305.3 453.8,308.2 455.0,308.0 456.3,305.7 457.6,305.6 458.9,307.7 460.1,310.0 461.4,309.9 462.7,308.1 464.0,306.7 465.2,307.5 466.5,308.6 467.8,308.9 469.1,309.4 470.4,309.5 471.6,308.2 472.9,308.1 474.2,308.7 475.5,308.4 476.7,307.2 478.0,306.7 479.3,307.6 480.6,309.2 481.9,311.7 483.1,313.3 484.4,313.7 485.7,313.6 487.0,313.5 488.2,314.0 489.5,314.2 490.8,312.3 492.1,312.2 493.4,314.3 494.6,316.2 495.9,317.3 497.2,318.8 498.5,320.2 499.7,319.7 501.0,317.3 502.3,315.8 503.6,318.0 504.9,322.3 506.1,323.3 507.4,321.3 508.7,320.5 510.0,320.1 511.2,318.6 512.5,318.8 513.8,319.4 515.1,319.7 516.3,321.9 517.6,325.4 518.9,328.0 520.2,329.8 521.5,330.3 522.7,329.5 524.0,329.7 525.3,329.9 526.6,329.2 527.8,329.1 529.1,329.2 530.4,328.2 531.7,328.6 533.0,330.2 534.2,330.5 535.5,330.2 536.8,330.5 538.1,329.8 539.3,327.7 540.6,327.6 541.9,329.3 543.2,329.7 544.5,330.5 545.7,332.2 547.0,332.9 548.3,332.7 549.6,333.3 550.8,334.6 552.1,335.8 553.4,336.1 554.7,336.5 556.0,336.7 557.2,335.6 558.5,334.4 559.8,333.4 561.1,332.8 562.3,331.9 563.6,331.4 564.9,332.2 566.2,333.4 567.4,334.5 568.7,335.3 570.0,335.0 571.3,335.2 572.6,335.8 573.8,335.4 575.1,335.8 576.4,337.5 577.7,338.6 578.9,338.0 580.2,335.5 581.5,331.9 582.8,329.3 584.1,327.8 585.3,327.8 586.6,329.7 587.9,330.9 589.2,332.2 590.4,334.9 591.7,336.5 593.0,336.2 594.3,335.0 595.6,334.0 596.8,332.5 598.1,331.0 599.4,332.4 600.7,335.6 601.9,339.5 603.2,343.0 604.5,343.9 605.8,344.3 607.0,345.4 608.3,344.8 609.6,345.1 610.9,349.6 612.2,358.1 612.2,383.9Z"/>
<path d="M25.8,384.7 25.8,316.3 27.1,315.4 28.4,314.5 29.6,313.7 30.9,312.8 32.2,311.9 33.5,311.1 34.8,310.2 36.0,309.3 37.3,308.4 38.6,307.6 39.9,306.7 41.2,305.8 42.4,304.9 43.7,304.0 45.0,303.0 46.3,302.1 47.6,301.1 48.8,300.1 50.1,299.1 51.4,298.2 52.7,297.2 54.0,296.2 55.2,295.1 56.5,294.1 57.8,293.1 59.1,292.1 60.4,291.1 61.6,290.1 62.9,289.0 64.2,288.0 65.5,287.0 66.8,286.0 68.0,285.1 69.3,284.1 70.6,283.2 71.9,282.3 73.2,281.5 74.4,280.6 75.7,279.8 77.0,279.0 78.3,278.1 79.6,277.2 80.8,276.2 82.1,275.1 83.4,274.1 84.7,273.0 86.0,271.9 87.2,270.8 88.5,269.7 89.8,268.6 91.1,267.4 92.4,266.1 93.7,264.8 94.9,263.4 96.2,262.0 97.5,260.6 98.8,259.0 100.1,257.4 101.3,255.7 102.6,254.0 103.9,252.1 105.2,250.2 106.5,248.2 107.7,246.0 109.0,243.8 110.3,241.6 111.6,239.3 112.9,237.0 114.1,234.6 115.4,232.2 116.7,229.7 118.0,227.3 119.3,225.1 120.5,222.9 121.8,220.8 123.1,218.8 124.4,217.0 125.7,215.4 126.9,214.1 128.2,213.0 129.5,212.0 130.8,211.2 132.1,210.7 133.3,210.4 134.6,210.4 135.9,210.5 137.2,210.7 138.5,211.0 139.7,211.6 141.0,212.4 142.3,213.3 143.6,214.2 144.9,215.2 146.1,216.3 147.4,217.4 148.7,218.5 150.0,219.7 151.3,221.0 152.5,222.2 153.8,223.4 155.1,224.6 156.4,226.0 157.7,227.5 158.9,228.9 160.2,230.2 161.5,231.4 162.8,232.6 164.1,233.7 165.3,234.8 166.6,235.8 167.9,236.7 169.2,237.6 170.5,238.3 171.7,238.7 173.0,239.1 174.3,239.4 175.6,239.5 176.9,239.2 178.1,238.4 179.4,237.2 180.7,236.0 182.0,234.6 183.3,233.1 184.5,231.5 185.8,229.8 187.1,228.2 188.4,226.9 189.7,225.9 190.9,225.3 192.2,225.0 193.5,225.1 194.8,225.6 196.1,226.6 197.3,228.1 198.6,230.1 199.9,232.3 201.2,234.7 202.5,237.1 203.7,239.4 205.0,241.7 206.3,243.8 207.6,245.4 208.9,246.5 210.1,247.0 211.4,247.2 212.7,247.5 214.0,247.7 215.3,247.9 216.5,247.8 217.8,247.4 219.1,247.0 220.4,246.7 221.7,246.6 223.0,246.5 224.2,246.4 225.5,246.3 226.8,246.2 228.1,246.2 229.4,246.2 230.6,246.3 231.9,246.4 233.2,246.4 234.5,246.6 235.8,246.8 237.0,247.0 238.3,247.3 239.6,247.5 240.9,247.7 242.2,247.8 243.4,247.8 244.7,247.6 246.0,247.4 247.3,247.2 248.6,247.2 249.8,247.2 251.1,247.5 252.4,247.8 253.7,248.2 255.0,248.6 256.2,249.1 257.5,249.5 258.8,250.0 260.1,250.5 261.4,251.0 262.6,251.6 263.9,252.2 265.2,252.7 266.5,253.4 267.8,254.0 269.0,254.8 270.3,255.5 271.6,256.3 272.9,257.0 274.2,257.7 275.4,258.4 276.7,259.1 278.0,259.8 279.3,260.5 280.6,261.2 281.8,261.9 283.1,262.6 284.4,263.3 285.7,264.1 287.0,264.8 288.2,265.7 289.5,266.6 290.8,267.5 292.1,268.5 293.4,269.4 294.6,270.3 295.9,271.3 297.2,272.2 298.5,273.2 299.8,274.2 301.0,275.4 302.3,277.5 303.6,279.5 304.9,281.5 306.2,283.4 307.4,285.2 308.7,287.0 310.0,288.7 311.3,290.3 312.6,291.9 313.8,293.5 315.1,295.0 316.4,296.6 317.7,298.2 319.0,299.6 320.2,300.7 321.5,301.9 322.8,303.3 324.1,304.8 325.4,306.5 326.6,308.2 327.9,309.1 329.2,309.7 330.5,310.5 331.8,311.0 333.0,310.8 334.3,311.5 335.6,313.5 336.9,314.9 338.2,314.9 339.4,315.7 340.7,318.2 342.0,321.2 343.3,324.3 344.6,327.4 345.9,328.4 347.1,326.6 348.4,324.6 349.7,323.0 351.0,319.6 352.3,315.9 353.5,315.6 354.8,319.4 356.1,323.3 357.4,325.4 358.7,327.7 359.9,328.7 361.2,326.7 362.5,323.6 363.8,323.4 365.1,326.6 366.3,330.3 367.6,331.6 368.9,332.4 370.2,335.6 371.5,340.8 372.7,345.4 374.0,346.7 375.3,346.0 376.6,346.9 377.9,353.9 379.1,360.2 380.4,359.8 381.7,357.5 383.0,359.2 384.3,359.7 385.5,357.3 386.8,356.9 388.1,357.1 389.4,355.9 390.7,350.9 391.9,344.2 393.2,342.8 394.5,345.3 395.8,345.2 397.1,344.8 398.3,344.9 399.6,341.5 400.9,341.9 402.2,346.1 403.5,344.0 404.7,340.9 406.0,344.9 407.3,352.3 408.6,358.1 409.9,360.0 411.1,363.2 412.4,366.0 413.7,360.2 415.0,352.1 416.3,348.9 417.5,344.9 418.8,337.1 420.1,333.4 421.4,337.0 422.7,341.1 423.9,340.3 425.2,340.2 426.5,342.1 427.8,343.3 429.1,345.0 430.3,345.1 431.6,348.3 432.9,354.5 434.2,358.0 435.5,356.4 436.7,353.2 438.0,354.3 439.3,360.3 440.6,361.3 441.9,361.4 443.1,365.9 444.4,366.3 445.7,357.7 447.0,353.4 448.3,355.2 449.5,356.3 450.8,352.2 452.1,344.2 453.4,345.9 454.7,356.7 455.9,358.4 457.2,351.5 458.5,349.7 459.8,355.0 461.1,361.1 462.3,361.2 463.6,355.6 464.9,351.1 466.2,352.4 467.5,351.9 468.7,349.0 470.0,349.3 471.3,351.1 472.6,350.2 473.9,350.9 475.2,354.1 476.4,356.6 477.7,355.8 479.0,353.6 480.3,353.6 481.6,358.4 482.8,366.6 484.1,370.1 485.4,369.0 486.7,366.3 488.0,362.5 489.2,360.8 490.5,358.6 491.8,351.6 493.1,348.9 494.4,352.2 495.6,358.2 496.9,364.4 498.2,371.1 499.5,374.7 500.8,371.6 502.0,364.5 503.3,361.0 504.6,365.9 505.9,376.7 507.2,378.7 508.4,373.3 509.7,370.9 511.0,367.7 512.3,360.2 513.6,358.7 514.8,360.5 516.1,363.0 517.4,368.2 518.7,371.9 520.0,374.6 521.2,379.2 522.5,382.4 523.8,380.8 525.1,378.5 526.4,377.1 527.6,377.2 528.9,377.7 530.2,375.2 531.5,370.8 532.8,372.7 534.0,377.0 535.3,378.1 536.6,378.2 537.9,377.4 539.2,373.4 540.4,367.4 541.7,366.1 543.0,368.4 544.3,368.5 545.6,370.3 546.8,373.0 548.1,373.6 549.4,376.0 550.7,379.7 552.0,383.4 552.4,384.7ZM560.7,384.7 562.0,384.7ZM570.7,384.7 571.2,383.1 572.4,381.9 573.7,380.2 575.0,375.1 576.3,375.5 577.6,383.0 577.9,384.7ZM581.2,384.7 581.4,383.4 582.7,373.5 584.0,367.5 585.2,362.8 586.5,362.1 587.8,367.2 589.1,370.6 590.4,372.7 591.6,379.8 592.9,383.9 594.2,380.7 595.5,376.8 596.8,376.9 598.0,373.7 599.3,369.1 600.6,372.1 601.9,377.9 603.2,384.3 603.2,384.7Z"/>
<path d="M25.8,385.4 25.8,316.2 27.1,315.3 28.4,314.4 29.6,313.6 30.9,312.7 32.2,311.8 33.5,311.0 34.8,310.1 36.1,309.2 37.3,308.3 38.6,307.5 39.9,306.6 41.2,305.7 42.5,304.8 43.8,303.8 45.0,302.9 46.3,302.0 47.6,301.0 48.9,300.0 50.2,299.0 51.5,298.0 52.7,297.0 54.0,296.0 55.3,295.0 56.6,294.0 57.9,293.0 59.2,292.0 60.4,290.9 61.7,289.9 63.0,288.9 64.3,287.9 65.6,286.9 66.9,285.9 68.1,284.9 69.4,283.9 70.7,283.0 72.0,282.2 73.3,281.3 74.6,280.5 75.8,279.6 77.1,278.8 78.4,278.0 79.7,277.1 81.0,276.0 82.2,274.9 83.5,273.9 84.8,272.8 86.1,271.7 87.4,270.6 88.7,269.5 89.9,268.4 91.2,267.2 92.5,265.9 93.8,264.6 95.1,263.2 96.4,261.8 97.6,260.4 98.9,258.8 100.2,257.2 101.5,255.5 102.8,253.7 104.1,251.9 105.3,249.9 106.6,247.9 107.9,245.8 109.2,243.6 110.5,241.3 111.8,239.2 113.0,237.1 114.3,234.9 115.6,232.6 116.9,230.3 118.2,228.1 119.5,226.1 120.7,224.1 122.0,222.3 123.3,220.5 124.6,219.0 125.9,217.7 127.2,216.8 128.4,216.0 129.7,215.4 131.0,215.0 132.3,214.8 133.6,215.0 134.8,215.4 136.1,216.0 137.4,216.4 138.7,217.0 140.0,217.7 141.3,218.7 142.5,219.9 143.8,221.0 145.1,222.3 146.4,223.6 147.7,224.9 149.0,226.3 150.2,227.8 151.5,229.3 152.8,230.8 154.1,232.3 155.4,233.7 156.7,235.4 157.9,237.0 159.2,238.6 160.5,240.1 161.8,241.3 163.1,242.6 164.4,243.8 165.6,244.9 166.9,245.9 168.2,247.0 169.5,247.9 170.8,248.5 172.1,249.0 173.3,249.4 174.6,249.6 175.9,249.5 177.2,249.0 178.5,247.9 179.8,246.4 181.0,244.7 182.3,242.9 183.6,241.1 184.9,239.2 186.2,237.3 187.4,235.6 188.7,234.3 190.0,233.4 191.3,233.0 192.6,233.1 193.9,233.6 195.1,234.6 196.4,236.1 197.7,238.3 199.0,241.0 200.3,244.0 201.6,247.2 202.8,250.3 204.1,253.2 205.4,256.0 206.7,258.3 208.0,260.0 209.3,260.9 210.5,261.0 211.8,260.7 213.1,260.6 214.4,260.5 215.7,260.3 217.0,260.0 218.2,259.4 219.5,258.8 220.8,258.4 222.1,258.2 223.4,258.0 224.7,257.8 225.9,257.6 227.2,257.4 228.5,257.2 229.8,257.2 231.1,257.2 232.4,257.3 233.6,257.4 234.9,257.7 236.2,258.0 237.5,258.5 238.8,258.9 240.0,259.4 241.3,259.8 242.6,260.1 243.9,260.1 245.2,260.0 246.5,259.7 247.7,259.6 249.0,259.5 250.3,259.7 251.6,260.0 252.9,260.6 254.2,261.2 255.4,261.9 256.7,262.6 258.0,263.2 259.3,264.0 260.6,264.7 261.9,265.4 263.1,266.2 264.4,266.9 265.7,267.6 267.0,268.4 268.3,269.2 269.6,270.1 270.8,271.0 272.1,271.9 273.4,272.8 274.7,273.7 276.0,274.5 277.3,275.3 278.5,276.2 279.8,277.0 281.1,277.9 282.4,278.7 283.7,279.6 285.0,280.5 286.2,281.4 287.5,282.3 288.8,283.4 290.1,284.5 291.4,285.7 292.6,286.8 293.9,288.0 295.2,289.2 296.5,290.4 297.8,291.6 299.1,292.8 300.3,294.0 301.6,295.6 302.9,298.6 304.2,301.5 305.5,304.4 306.8,307.2 308.0,310.0 309.3,312.7 310.6,315.3 311.9,317.9 313.2,320.4 314.5,323.0 315.7,325.4 317.0,328.1 318.3,330.7 319.6,333.1 320.9,335.3 322.2,337.7 323.4,339.9 324.7,342.5 326.0,345.7 327.3,348.9 328.6,350.9 329.9,352.8 331.1,354.6 332.4,355.3 333.7,355.6 335.0,357.5 336.3,361.0 337.6,363.5 338.8,363.8 340.1,366.1 341.4,370.8 342.7,374.6 344.0,378.2 345.2,383.0 346.5,385.4ZM346.6,385.4 347.8,383.4 349.1,381.7 350.4,381.5 351.7,379.4 352.9,377.2 354.2,379.7 355.5,385.4Z"/>
<path d="M25.8,386.2 25.8,322.7 27.1,321.8 28.4,321.0 29.7,320.1 30.9,319.3 32.2,318.5 33.5,317.6 34.8,316.8 36.1,316.0 37.4,315.1 38.7,314.3 39.9,313.5 41.2,312.6 42.5,311.7 43.8,310.9 45.1,310.0 46.4,309.1 47.7,308.1 48.9,307.2 50.2,306.3 51.5,305.3 52.8,304.4 54.1,303.4 55.4,302.4 56.7,301.5 57.9,300.5 59.2,299.5 60.5,298.5 61.8,297.6 63.1,296.6 64.4,295.6 65.7,294.7 66.9,293.7 68.2,292.8 69.5,291.9 70.8,291.0 72.1,290.2 73.4,289.4 74.7,288.6 75.9,287.8 77.2,287.0 78.5,286.3 79.8,285.4 81.1,284.4 82.4,283.3 83.7,282.3 84.9,281.2 86.2,280.2 87.5,279.1 88.8,278.0 90.1,276.8 91.4,275.6 92.7,274.3 93.9,273.0 95.2,271.6 96.5,270.1 97.8,268.5 99.1,266.9 100.4,265.1 101.7,263.3 102.9,261.4 104.2,259.4 105.5,257.3 106.8,255.1 108.1,252.9 109.4,250.5 110.7,248.2 111.9,246.0 113.2,243.7 114.5,241.3 115.8,239.0 117.1,236.6 118.4,234.4 119.7,232.4 120.9,230.4 122.2,228.5 123.5,226.8 124.8,225.2 126.1,224.0 127.4,223.0 128.7,222.1 129.9,221.5 131.2,221.0 132.5,220.8 133.8,220.9 135.1,221.2 136.4,221.7 137.7,222.3 138.9,223.1 140.2,224.1 141.5,225.2 142.8,226.6 144.1,228.0 145.4,229.4 146.7,230.9 147.9,232.5 149.2,234.1 150.5,235.8 151.8,237.6 153.1,239.3 154.4,241.0 155.7,242.6 156.9,244.5 158.2,246.3 159.5,248.0 160.8,249.5 162.1,250.8 163.4,252.1 164.7,253.4 165.9,254.5 167.2,255.5 168.5,256.6 169.8,257.5 171.1,258.2 172.4,258.7 173.7,259.0 174.9,259.2 176.2,258.9 177.5,258.2 178.8,256.9 180.1,255.0 181.4,253.0 182.7,250.9 183.9,248.7 185.2,246.7 186.5,244.7 187.8,243.1 189.1,241.9 190.4,241.2 191.7,241.2 192.9,241.6 194.2,242.6 195.5,244.2 196.8,246.4 198.1,249.3 199.4,252.7 200.6,256.5 201.9,260.4 203.2,264.2 204.5,267.6 205.8,270.6 207.1,273.0 208.4,274.4 209.6,274.9 210.9,274.5 212.2,273.7 213.5,273.2 214.8,272.8 216.1,272.4 217.4,271.8 218.6,271.1 219.9,270.4 221.2,269.9 222.5,269.6 223.8,269.4 225.1,269.0 226.4,268.7 227.6,268.3 228.9,268.1 230.2,267.9 231.5,267.9 232.8,267.9 234.1,268.1 235.4,268.5 236.6,269.0 237.9,269.6 239.2,270.4 240.5,271.1 241.8,271.7 243.1,272.2 244.4,272.3 245.6,272.2 246.9,271.9 248.2,271.7 249.5,271.6 250.8,271.9 252.1,272.4 253.4,273.2 254.6,274.2 255.9,275.2 257.2,276.1 258.5,277.1 259.8,278.1 261.1,279.0 262.4,280.0 263.6,280.9 264.9,281.7 266.2,282.6 267.5,283.6 268.8,284.6 270.1,285.7 271.4,286.8 272.6,287.8 273.9,288.8 275.2,289.8 276.5,290.8 277.8,291.8 279.1,292.8 280.4,293.8 281.6,294.8 282.9,295.8 284.2,296.9 285.5,297.9 286.8,299.0 288.1,300.0 289.4,301.3 290.6,302.7 291.9,304.1 293.2,305.6 294.5,307.0 295.8,308.4 297.1,309.8 298.4,311.3 299.6,312.8 300.9,314.3 302.2,316.3 303.5,320.3 304.8,324.2 306.1,328.0 307.4,331.8 308.6,335.6 309.9,339.3 311.2,342.9 312.5,346.6 313.8,350.2 315.1,353.7 316.4,357.2 317.6,361.3 318.9,365.3 320.2,369.1 321.5,373.0 322.8,377.1 324.1,380.4 325.4,384.2 325.9,386.2Z"/>
<path d="M25.8,386.9 25.8,322.6 27.1,321.7 28.4,320.9 29.7,320.0 31.0,319.2 32.2,318.4 33.5,317.5 34.8,316.7 36.1,315.9 37.4,315.0 38.7,314.2 40.0,313.4 41.3,312.5 42.5,311.6 43.8,310.7 45.1,309.9 46.4,308.9 47.7,308.0 49.0,307.1 50.3,306.1 51.6,305.2 52.9,304.2 54.1,303.3 55.4,302.3 56.7,301.3 58.0,300.4 59.3,299.4 60.6,298.4 61.9,297.4 63.2,296.4 64.5,295.5 65.7,294.5 67.0,293.6 68.3,292.6 69.6,291.8 70.9,290.9 72.2,290.1 73.5,289.2 74.8,288.4 76.0,287.7 77.3,286.9 78.6,286.1 79.9,285.2 81.2,284.2 82.5,283.2 83.8,282.1 85.1,281.1 86.4,280.0 87.6,278.9 88.9,277.8 90.2,276.6 91.5,275.4 92.8,274.1 94.1,272.8 95.4,271.4 96.7,269.9 97.9,268.3 99.2,266.7 100.5,264.9 101.8,263.1 103.1,261.2 104.4,259.2 105.7,257.1 107.0,254.9 108.3,252.6 109.5,250.3 110.8,248.0 112.1,245.9 113.4,243.9 114.7,241.7 116.0,239.5 117.3,237.4 118.6,235.4 119.9,233.6 121.1,231.9 122.4,230.3 123.7,228.8 125.0,227.6 126.3,226.6 127.6,225.9 128.9,225.5 130.2,225.2 131.4,225.1 132.7,225.3 134.0,225.8 135.3,226.7 136.6,227.6 137.9,228.4 139.2,229.3 140.5,230.4 141.8,231.7 143.0,233.2 144.3,234.8 145.6,236.4 146.9,238.1 148.2,239.8 149.5,241.7 150.8,243.6 152.1,245.5 153.4,247.4 154.6,249.2 155.9,251.1 157.2,253.1 158.5,255.0 159.8,256.7 161.1,258.3 162.4,259.6 163.7,260.8 164.9,262.0 166.2,263.2 167.5,264.2 168.8,265.2 170.1,266.2 171.4,266.9 172.7,267.4 174.0,267.7 175.3,267.8 176.5,267.5 177.8,266.6 179.1,265.0 180.4,262.9 181.7,260.6 183.0,258.3 184.3,256.0 185.6,253.9 186.8,252.0 188.1,250.5 189.4,249.5 190.7,249.2 192.0,249.5 193.3,250.4 194.6,251.9 195.9,254.0 197.2,256.9 198.4,260.5 199.7,264.7 201.0,269.1 202.3,273.7 203.6,278.0 204.9,281.7 206.2,284.7 207.5,286.8 208.8,287.8 210.0,287.8 211.3,286.8 212.6,285.7 213.9,284.9 215.2,284.3 216.5,283.7 217.8,283.0 219.1,282.2 220.3,281.4 221.6,280.8 222.9,280.5 224.2,280.1 225.5,279.6 226.8,279.1 228.1,278.5 229.4,278.1 230.7,277.8 231.9,277.6 233.2,277.6 234.5,277.9 235.8,278.4 237.1,279.1 238.4,280.0 239.7,281.0 241.0,282.1 242.2,283.0 243.5,283.6 244.8,283.9 246.1,283.8 247.4,283.4 248.7,283.1 250.0,283.1 251.3,283.3 252.6,284.0 253.8,285.1 255.1,286.5 256.4,287.9 257.7,289.2 259.0,290.5 260.3,291.8 261.6,293.0 262.9,294.2 264.2,295.3 265.4,296.4 266.7,297.4 268.0,298.6 269.3,299.7 270.6,301.0 271.9,302.2 273.2,303.5 274.5,304.6 275.7,305.8 277.0,307.0 278.3,308.1 279.6,309.3 280.9,310.4 282.2,311.6 283.5,312.8 284.8,314.0 286.1,315.2 287.3,316.4 288.6,317.7 289.9,319.2 291.2,320.9 292.5,322.5 293.8,324.2 295.1,325.9 296.4,327.6 297.7,329.3 298.9,331.0 300.2,332.8 301.5,334.5 302.8,337.0 304.1,341.9 305.4,346.8 306.7,351.7 308.0,356.5 309.2,361.3 310.5,366.0 311.8,370.7 313.1,375.5 314.4,380.1 315.7,384.7 316.3,386.9Z"/>
<path d="M25.8,387.6 25.8,327.6 27.1,326.8 28.4,326.0 29.7,325.2 31.0,324.4 32.3,323.6 33.5,322.8 34.8,322.0 36.1,321.2 37.4,320.4 38.7,319.6 40.0,318.8 41.3,318.0 42.6,317.2 43.9,316.3 45.2,315.5 46.5,314.6 47.7,313.7 49.0,312.8 50.3,311.9 51.6,311.0 52.9,310.1 54.2,309.2 55.5,308.2 56.8,307.3 58.1,306.4 59.4,305.5 60.7,304.5 62.0,303.6 63.2,302.6 64.5,301.7 65.8,300.8 67.1,299.9 68.4,299.0 69.7,298.2 71.0,297.4 72.3,296.6 73.6,295.8 74.9,295.0 76.2,294.3 77.4,293.6 78.7,292.8 80.0,292.0 81.3,291.0 82.6,290.0 83.9,289.0 85.2,288.0 86.5,287.0 87.8,286.0 89.1,284.9 90.4,283.8 91.6,282.6 92.9,281.4 94.2,280.1 95.5,278.8 96.8,277.4 98.1,275.9 99.4,274.3 100.7,272.6 102.0,270.9 103.3,269.0 104.6,267.1 105.8,265.0 107.1,262.9 108.4,260.7 109.7,258.4 111.0,256.1 112.3,254.0 113.6,251.8 114.9,249.6 116.2,247.3 117.5,245.1 118.8,243.0 120.1,241.1 121.3,239.3 122.6,237.5 123.9,236.0 125.2,234.7 126.5,233.6 127.8,232.8 129.1,232.2 130.4,231.8 131.7,231.6 133.0,231.7 134.3,232.0 135.5,232.7 136.8,233.4 138.1,234.3 139.4,235.4 140.7,236.6 142.0,238.0 143.3,239.7 144.6,241.4 145.9,243.1 147.2,244.9 148.5,246.8 149.7,248.7 151.0,250.8 152.3,252.8 153.6,254.9 154.9,256.8 156.2,258.8 157.5,260.9 158.8,262.8 160.1,264.6 161.4,266.1 162.7,267.3 163.9,268.5 165.2,269.6 166.5,270.6 167.8,271.6 169.1,272.6 170.4,273.6 171.7,274.3 173.0,274.9 174.3,275.3 175.6,275.5 176.9,275.1 178.2,274.2 179.4,272.5 180.7,270.3 182.0,267.9 183.3,265.5 184.6,263.2 185.9,261.1 187.2,259.4 188.5,258.1 189.8,257.3 191.1,257.2 192.4,257.9 193.6,259.2 194.9,261.2 196.2,263.9 197.5,267.4 198.8,271.5 200.1,276.3 201.4,281.4 202.7,286.4 204.0,290.9 205.3,294.6 206.6,297.5 207.8,299.2 209.1,299.7 210.4,299.1 211.7,297.8 213.0,296.4 214.3,295.4 215.6,294.7 216.9,294.0 218.2,293.3 219.5,292.4 220.8,291.6 222.1,290.9 223.3,290.5 224.6,289.9 225.9,289.3 227.2,288.4 228.5,287.7 229.8,287.0 231.1,286.4 232.4,286.1 233.7,286.1 235.0,286.4 236.3,287.0 237.5,287.9 238.8,289.2 240.1,290.6 241.4,292.0 242.7,293.3 244.0,294.2 245.3,294.5 246.6,294.4 247.9,294.0 249.2,293.6 250.5,293.4 251.7,293.8 253.0,294.7 254.3,296.1 255.6,297.9 256.9,299.8 258.2,301.6 259.5,303.3 260.8,305.0 262.1,306.6 263.4,307.9 264.7,309.3 265.9,310.5 267.2,311.8 268.5,313.1 269.8,314.5 271.1,315.9 272.4,317.4 273.7,318.8 275.0,320.1 276.3,321.5 277.6,322.8 278.9,324.1 280.2,325.4 281.4,326.8 282.7,328.1 284.0,329.5 285.3,330.9 286.6,332.3 287.9,333.7 289.2,335.1 290.5,336.9 291.8,338.9 293.1,340.8 294.4,342.7 295.6,344.7 296.9,346.7 298.2,348.7 299.5,350.7 300.8,352.7 302.1,354.8 303.4,357.7 304.7,363.6 306.0,369.5 307.3,375.4 308.6,381.2 309.8,387.0 310.0,387.6Z"/>
<path d="M25.8,388.4 25.8,327.5 27.1,326.7 28.4,325.9 29.7,325.1 31.0,324.3 32.3,323.5 33.6,322.7 34.9,321.9 36.2,321.1 37.4,320.3 38.7,319.5 40.0,318.7 41.3,317.9 42.6,317.1 43.9,316.2 45.2,315.4 46.5,314.5 47.8,313.6 49.1,312.7 50.4,311.8 51.7,310.9 53.0,310.0 54.3,309.0 55.6,308.1 56.9,307.2 58.1,306.3 59.4,305.3 60.7,304.4 62.0,303.4 63.3,302.5 64.6,301.6 65.9,300.7 67.2,299.8 68.5,298.9 69.8,298.0 71.1,297.2 72.4,296.4 73.7,295.6 75.0,294.9 76.3,294.1 77.6,293.4 78.8,292.7 80.1,291.9 81.4,290.9 82.7,289.9 84.0,288.9 85.3,287.9 86.6,286.8 87.9,285.8 89.2,284.7 90.5,283.6 91.8,282.5 93.1,281.3 94.4,280.0 95.7,278.6 97.0,277.2 98.3,275.7 99.5,274.1 100.8,272.4 102.1,270.7 103.4,268.8 104.7,266.9 106.0,264.8 107.3,262.7 108.6,260.5 109.9,258.1 111.2,256.0 112.5,254.0 113.8,252.1 115.1,250.1 116.4,248.1 117.7,246.1 119.0,244.3 120.3,242.6 121.5,241.0 122.8,239.6 124.1,238.3 125.4,237.3 126.7,236.5 128.0,236.1 129.3,235.8 130.6,235.7 131.9,235.9 133.2,236.3 134.5,237.0 135.8,238.0 137.1,239.2 138.4,240.1 139.7,241.2 141.0,242.5 142.2,244.0 143.5,245.7 144.8,247.5 146.1,249.3 147.4,251.1 148.7,253.1 150.0,255.2 151.3,257.3 152.6,259.4 153.9,261.5 155.2,263.6 156.5,265.6 157.8,267.7 159.1,269.6 160.4,271.3 161.7,272.7 162.9,273.8 164.2,274.8 165.5,275.8 166.8,276.7 168.1,277.6 169.4,278.7 170.7,279.6 172.0,280.5 173.3,281.2 174.6,281.7 175.9,282.1 177.2,281.9 178.5,281.1 179.8,279.5 181.1,277.3 182.4,274.9 183.6,272.6 184.9,270.3 186.2,268.3 187.5,266.7 188.8,265.5 190.1,265.0 191.4,265.1 192.7,266.1 194.0,267.7 195.3,270.1 196.6,273.2 197.9,277.1 199.2,281.7 200.5,286.9 201.8,292.3 203.1,297.5 204.4,302.2 205.6,305.8 206.9,308.4 208.2,309.7 209.5,309.8 210.8,308.9 212.1,307.4 213.4,305.9 214.7,304.9 216.0,304.1 217.3,303.5 218.6,302.7 219.9,301.8 221.2,300.9 222.5,300.1 223.8,299.5 225.1,298.7 226.3,297.8 227.6,296.6 228.9,295.5 230.2,294.5 231.5,293.7 232.8,293.2 234.1,293.1 235.4,293.4 236.7,294.2 238.0,295.4 239.3,296.9 240.6,298.7 241.9,300.6 243.2,302.3 244.5,303.5 245.8,304.1 247.0,304.0 248.3,303.4 249.6,302.9 250.9,302.6 252.2,303.0 253.5,304.1 254.8,305.9 256.1,308.2 257.4,310.8 258.7,313.2 260.0,315.4 261.3,317.6 262.6,319.5 263.9,321.2 265.2,322.8 266.5,324.2 267.7,325.7 269.0,327.2 270.3,328.8 271.6,330.4 272.9,332.1 274.2,333.7 275.5,335.2 276.8,336.8 278.1,338.3 279.4,339.8 280.7,341.3 282.0,342.9 283.3,344.4 284.6,346.0 285.9,347.5 287.2,349.1 288.5,350.8 289.7,352.4 291.0,354.5 292.3,356.7 293.6,358.9 294.9,361.1 296.2,363.4 297.5,365.7 298.8,367.9 300.1,370.3 301.4,372.6 302.7,374.9 304.0,378.3 305.3,385.3 305.8,388.4Z"/>
<path d="M25.8,389.1 25.8,331.6 27.1,330.8 28.4,330.0 29.7,329.3 31.0,328.5 32.3,327.8 33.6,327.0 34.9,326.3 36.2,325.5 37.5,324.7 38.8,324.0 40.1,323.2 41.4,322.4 42.7,321.6 44.0,320.8 45.2,320.0 46.5,319.2 47.8,318.3 49.1,317.5 50.4,316.6 51.7,315.7 53.0,314.8 54.3,314.0 55.6,313.1 56.9,312.2 58.2,311.3 59.5,310.4 60.8,309.5 62.1,308.6 63.4,307.7 64.7,306.8 66.0,306.0 67.3,305.1 68.6,304.3 69.9,303.5 71.2,302.7 72.5,301.9 73.8,301.2 75.1,300.5 76.4,299.8 77.7,299.1 79.0,298.4 80.3,297.6 81.6,296.7 82.8,295.8 84.1,294.8 85.4,293.9 86.7,292.9 88.0,292.0 89.3,291.0 90.6,290.0 91.9,288.9 93.2,287.9 94.5,286.7 95.8,285.5 97.1,284.3 98.4,283.0 99.7,281.6 101.0,280.2 102.3,278.7 103.6,277.1 104.9,275.4 106.2,273.7 107.5,271.8 108.8,269.7 110.1,267.6 111.4,265.6 112.7,263.6 114.0,261.6 115.3,259.5 116.6,257.3 117.9,255.2 119.2,253.1 120.5,251.3 121.7,249.5 123.0,247.8 124.3,246.3 125.6,245.1 126.9,244.1 128.2,243.4 129.5,242.9 130.8,242.6 132.1,242.5 133.4,242.7 134.7,243.1 136.0,243.9 137.3,244.8 138.6,245.8 139.9,246.9 141.2,248.2 142.5,249.8 143.8,251.5 145.1,253.3 146.4,255.1 147.7,256.9 149.0,259.0 150.3,261.1 151.6,263.2 152.9,265.4 154.2,267.6 155.5,269.6 156.8,271.7 158.1,273.8 159.3,275.6 160.6,277.2 161.9,278.4 163.2,279.3 164.5,280.2 165.8,281.0 167.1,281.7 168.4,282.5 169.7,283.4 171.0,284.4 172.3,285.2 173.6,286.0 174.9,286.6 176.2,287.0 177.5,286.8 178.8,286.0 180.1,284.3 181.4,282.1 182.7,279.6 184.0,277.1 185.3,274.8 186.6,272.8 187.9,271.3 189.2,270.2 190.5,269.8 191.8,270.1 193.1,271.2 194.4,273.1 195.7,275.7 196.9,279.2 198.2,283.4 199.5,288.4 200.8,294.0 202.1,299.6 203.4,305.2 204.7,310.1 206.0,313.9 207.3,316.6 208.6,317.9 209.9,318.1 211.2,317.3 212.5,315.8 213.8,314.4 215.1,313.4 216.4,312.8 217.7,312.1 219.0,311.4 220.3,310.5 221.6,309.4 222.9,308.5 224.2,307.7 225.5,306.6 226.8,305.3 228.1,303.7 229.4,302.2 230.7,300.8 232.0,299.7 233.3,299.1 234.5,298.8 235.8,299.1 237.1,300.0 238.4,301.4 239.7,303.3 241.0,305.6 242.3,308.0 243.6,310.2 244.9,311.8 246.2,312.6 247.5,312.5 248.8,311.9 250.1,311.1 251.4,310.7 252.7,311.1 254.0,312.4 255.3,314.6 256.6,317.5 257.9,320.8 259.2,324.0 260.5,326.9 261.8,329.7 263.1,332.1 264.4,334.1 265.7,335.9 267.0,337.7 268.3,339.3 269.6,341.1 270.9,342.9 272.2,344.7 273.4,346.6 274.7,348.4 276.0,350.1 277.3,351.8 278.6,353.6 279.9,355.3 281.2,357.0 282.5,358.7 283.8,360.5 285.1,362.3 286.4,364.1 287.7,365.9 289.0,367.7 290.3,369.6 291.6,371.9 292.9,374.4 294.2,376.9 295.5,379.5 296.8,382.0 298.1,384.6 299.4,387.2 300.3,389.1Z"/>
<path d="M25.8,389.9 25.8,331.5 27.1,330.7 28.4,330.0 29.7,329.2 31.0,328.5 32.3,327.7 33.6,326.9 34.9,326.2 36.2,325.4 37.5,324.7 38.8,323.9 40.1,323.1 41.4,322.3 42.7,321.5 44.0,320.7 45.3,319.9 46.6,319.1 47.9,318.2 49.2,317.3 50.5,316.5 51.8,315.6 53.1,314.7 54.4,313.9 55.7,313.0 57.0,312.1 58.3,311.2 59.6,310.3 60.9,309.4 62.2,308.5 63.5,307.6 64.8,306.7 66.1,305.8 67.4,305.0 68.7,304.1 70.0,303.3 71.3,302.6 72.6,301.8 73.9,301.1 75.2,300.3 76.5,299.6 77.8,299.0 79.1,298.3 80.4,297.5 81.7,296.6 83.0,295.6 84.3,294.7 85.6,293.7 86.9,292.8 88.2,291.8 89.5,290.8 90.8,289.8 92.1,288.8 93.4,287.7 94.7,286.6 96.0,285.4 97.3,284.1 98.6,282.8 99.9,281.5 101.2,280.0 102.5,278.5 103.8,276.9 105.1,275.2 106.4,273.5 107.7,271.6 109.0,269.5 110.3,267.4 111.6,265.4 112.9,263.7 114.2,261.9 115.5,260.1 116.8,258.2 118.1,256.3 119.4,254.5 120.6,252.9 121.9,251.4 123.2,250.0 124.5,248.8 125.8,247.8 127.1,247.1 128.4,246.8 129.7,246.6 131.0,246.6 132.3,246.8 133.6,247.3 134.9,248.1 136.2,249.2 137.5,250.4 138.8,251.4 140.1,252.5 141.4,253.9 142.7,255.4 144.0,257.1 145.3,258.9 146.6,260.7 147.9,262.6 149.2,264.6 150.5,266.7 151.8,268.9 153.1,271.1 154.4,273.3 155.7,275.4 157.0,277.4 158.3,279.5 159.6,281.2 160.9,282.6 162.2,283.6 163.5,284.3 164.8,284.9 166.1,285.4 167.4,286.0 168.7,286.6 170.0,287.4 171.3,288.2 172.6,289.0 173.9,289.7 175.2,290.3 176.5,290.5 177.8,290.2 179.1,289.1 180.4,287.2 181.7,284.8 183.0,282.2 184.3,279.6 185.6,277.2 186.9,275.2 188.2,273.7 189.5,272.7 190.8,272.4 192.1,272.9 193.4,274.2 194.7,276.3 196.0,279.2 197.3,283.0 198.6,287.6 199.9,293.0 201.2,298.9 202.5,304.9 203.8,310.8 205.1,316.1 206.4,320.3 207.7,323.3 209.0,325.0 210.3,325.4 211.6,324.8 212.9,323.6 214.2,322.3 215.5,321.5 216.8,320.9 218.1,320.4 219.4,319.7 220.7,318.7 222.0,317.5 223.3,316.4 224.6,315.3 225.9,313.8 227.2,312.0 228.5,310.0 229.8,308.0 231.1,306.2 232.4,304.8 233.7,303.9 235.0,303.6 236.3,303.9 237.6,304.9 238.9,306.5 240.2,308.8 241.5,311.5 242.8,314.4 244.1,317.1 245.4,319.2 246.7,320.3 248.0,320.3 249.3,319.4 250.6,318.5 251.9,317.9 253.2,318.3 254.5,319.8 255.8,322.4 257.1,326.0 258.4,330.1 259.7,334.2 261.0,338.0 262.3,341.5 263.6,344.4 264.9,346.9 266.2,349.0 267.5,351.0 268.8,352.9 270.1,354.9 271.4,356.9 272.7,359.0 274.0,361.1 275.3,363.0 276.6,365.0 277.9,366.9 279.2,368.8 280.5,370.7 281.8,372.7 283.1,374.6 284.4,376.6 285.7,378.6 287.0,380.6 288.3,382.6 289.6,384.6 290.9,386.7 292.2,389.3 292.4,389.9Z"/>
<path d="M25.8,390.6 25.8,335.3 27.1,334.6 28.4,333.8 29.7,333.1 31.0,332.4 32.3,331.7 33.6,331.0 34.9,330.3 36.2,329.6 37.5,328.9 38.8,328.1 40.1,327.4 41.4,326.7 42.7,325.9 44.0,325.1 45.3,324.4 46.6,323.6 47.9,322.8 49.2,322.0 50.5,321.2 51.8,320.3 53.1,319.5 54.4,318.7 55.7,317.8 57.0,317.0 58.4,316.2 59.7,315.3 61.0,314.5 62.3,313.6 63.6,312.8 64.9,312.0 66.2,311.1 67.5,310.3 68.8,309.5 70.1,308.8 71.4,308.0 72.7,307.3 74.0,306.7 75.3,306.0 76.6,305.3 77.9,304.7 79.2,304.0 80.5,303.3 81.8,302.4 83.1,301.6 84.4,300.7 85.7,299.8 87.0,298.9 88.3,298.0 89.6,297.1 90.9,296.2 92.2,295.3 93.5,294.4 94.8,293.4 96.1,292.3 97.4,291.3 98.7,290.2 100.0,289.1 101.3,287.9 102.6,286.6 103.9,285.4 105.2,284.0 106.5,282.5 107.8,280.9 109.1,279.2 110.4,277.3 111.7,275.6 113.0,273.8 114.3,272.0 115.6,270.1 116.9,268.0 118.2,265.9 119.5,264.0 120.8,262.1 122.2,260.4 123.5,258.7 124.8,257.2 126.1,256.0 127.4,255.0 128.7,254.3 130.0,253.9 131.3,253.6 132.6,253.6 133.9,253.8 135.2,254.3 136.5,255.1 137.8,256.0 139.1,257.0 140.4,258.2 141.7,259.5 143.0,261.0 144.3,262.7 145.6,264.5 146.9,266.3 148.2,268.1 149.5,270.1 150.8,272.3 152.1,274.5 153.4,276.7 154.7,278.9 156.0,281.0 157.3,283.0 158.6,284.9 159.9,286.5 161.2,287.7 162.5,288.5 163.8,289.0 165.1,289.3 166.4,289.7 167.7,290.0 169.0,290.4 170.3,291.1 171.6,291.8 172.9,292.5 174.2,293.1 175.5,293.6 176.8,293.6 178.1,293.0 179.4,291.7 180.7,289.6 182.0,287.0 183.3,284.3 184.6,281.6 186.0,279.3 187.3,277.3 188.6,275.9 189.9,275.1 191.2,274.9 192.5,275.6 193.8,277.1 195.1,279.4 196.4,282.6 197.7,286.7 199.0,291.6 200.3,297.4 201.6,303.6 202.9,310.0 204.2,316.2 205.5,321.8 206.8,326.3 208.1,329.6 209.4,331.6 210.7,332.2 212.0,331.9 213.3,331.0 214.6,330.0 215.9,329.3 217.2,328.8 218.5,328.4 219.8,327.7 221.1,326.7 222.4,325.4 223.7,324.1 225.0,322.6 226.3,320.7 227.6,318.4 228.9,315.9 230.2,313.4 231.5,311.3 232.8,309.6 234.1,308.5 235.4,308.0 236.7,308.3 238.0,309.4 239.3,311.2 240.6,313.8 241.9,316.8 243.2,320.2 244.5,323.5 245.8,326.1 247.1,327.5 248.4,327.5 249.8,326.5 251.1,325.3 252.4,324.6 253.7,325.0 255.0,326.7 256.3,329.7 257.6,333.9 258.9,338.8 260.2,344.0 261.5,348.8 262.8,353.2 264.1,356.9 265.4,359.8 266.7,362.3 268.0,364.6 269.3,366.8 270.6,368.9 271.9,371.2 273.2,373.4 274.5,375.7 275.8,377.9 277.1,380.0 278.4,382.2 279.7,384.3 281.0,386.4 282.3,388.6 283.6,390.6Z"/>
<path d="M25.8,391.4 25.8,335.2 27.1,334.5 28.4,333.8 29.7,333.1 31.0,332.3 32.3,331.6 33.6,330.9 34.9,330.2 36.2,329.5 37.5,328.8 38.8,328.0 40.2,327.3 41.5,326.6 42.8,325.8 44.1,325.0 45.4,324.3 46.7,323.5 48.0,322.7 49.3,321.9 50.6,321.0 51.9,320.2 53.2,319.4 54.5,318.6 55.8,317.7 57.1,316.9 58.4,316.1 59.7,315.2 61.0,314.4 62.3,313.5 63.6,312.7 64.9,311.8 66.2,311.0 67.6,310.2 68.9,309.4 70.2,308.7 71.5,307.9 72.8,307.2 74.1,306.5 75.4,305.8 76.7,305.2 78.0,304.5 79.3,303.9 80.6,303.2 81.9,302.3 83.2,301.4 84.5,300.5 85.8,299.6 87.1,298.8 88.4,297.9 89.7,297.0 91.0,296.1 92.3,295.1 93.6,294.2 95.0,293.2 96.3,292.2 97.6,291.1 98.9,290.0 100.2,288.9 101.5,287.7 102.8,286.5 104.1,285.2 105.4,283.8 106.7,282.3 108.0,280.7 109.3,279.0 110.6,277.2 111.9,275.4 113.2,274.0 114.5,272.4 115.8,270.8 117.1,269.0 118.4,267.2 119.7,265.5 121.0,263.9 122.4,262.5 123.7,261.1 125.0,259.9 126.3,259.0 127.6,258.3 128.9,257.9 130.2,257.8 131.5,257.8 132.8,258.1 134.1,258.6 135.4,259.4 136.7,260.6 138.0,261.8 139.3,262.7 140.6,263.9 141.9,265.1 143.2,266.6 144.5,268.3 145.8,270.0 147.1,271.8 148.4,273.6 149.8,275.7 151.1,277.8 152.4,280.1 153.7,282.3 155.0,284.5 156.3,286.6 157.6,288.6 158.9,290.5 160.2,292.0 161.5,293.0 162.8,293.6 164.1,293.9 165.4,294.0 166.7,294.2 168.0,294.3 169.3,294.6 170.6,295.1 171.9,295.8 173.2,296.4 174.5,297.0 175.8,297.4 177.2,297.4 178.5,296.7 179.8,295.4 181.1,293.3 182.4,290.7 183.7,288.0 185.0,285.5 186.3,283.2 187.6,281.4 188.9,280.1 190.2,279.4 191.5,279.4 192.8,280.3 194.1,282.0 195.4,284.6 196.7,288.0 198.0,292.4 199.3,297.6 200.6,303.6 201.9,310.1 203.2,316.6 204.6,322.8 205.9,328.5 207.2,333.0 208.5,336.3 209.8,338.2 211.1,339.0 212.4,338.9 213.7,338.2 215.0,337.4 216.3,336.9 217.6,336.6 218.9,336.3 220.2,335.7 221.5,334.7 222.8,333.3 224.1,331.7 225.4,329.9 226.7,327.5 228.0,324.7 229.3,321.7 230.6,318.9 232.0,316.4 233.3,314.5 234.6,313.2 235.9,312.7 237.2,312.9 238.5,314.1 239.8,316.1 241.1,318.8 242.4,322.3 243.7,326.1 245.0,329.8 246.3,332.9 247.6,334.6 248.9,334.6 250.2,333.4 251.5,332.0 252.8,331.2 254.1,331.5 255.4,333.3 256.7,336.7 258.0,341.5 259.4,347.3 260.7,353.5 262.0,359.5 263.3,365.0 264.6,369.6 265.9,373.1 267.2,376.1 268.5,378.6 269.8,381.0 271.1,383.4 272.4,385.9 273.7,388.3 275.0,390.9 275.3,391.4Z"/>
<path d="M25.8,392.1 25.8,339.4 27.1,338.8 28.4,338.1 29.7,337.5 31.0,336.8 32.3,336.2 33.6,335.5 35.0,334.9 36.3,334.2 37.6,333.5 38.9,332.9 40.2,332.2 41.5,331.5 42.8,330.8 44.1,330.1 45.4,329.4 46.7,328.7 48.0,328.0 49.3,327.2 50.6,326.4 51.9,325.7 53.3,324.9 54.6,324.2 55.9,323.4 57.2,322.6 58.5,321.9 59.8,321.1 61.1,320.3 62.4,319.5 63.7,318.7 65.0,318.0 66.3,317.2 67.6,316.5 68.9,315.8 70.3,315.1 71.6,314.4 72.9,313.7 74.2,313.1 75.5,312.5 76.8,311.9 78.1,311.3 79.4,310.7 80.7,310.1 82.0,309.2 83.3,308.4 84.6,307.6 85.9,306.8 87.3,306.0 88.6,305.2 89.9,304.4 91.2,303.6 92.5,302.8 93.8,301.9 95.1,301.1 96.4,300.2 97.7,299.3 99.0,298.4 100.3,297.5 101.6,296.5 102.9,295.5 104.2,294.5 105.6,293.5 106.9,292.3 108.2,291.0 109.5,289.6 110.8,288.1 112.1,286.6 113.4,285.2 114.7,283.6 116.0,281.8 117.3,279.9 118.6,277.9 119.9,275.9 121.2,274.1 122.6,272.3 123.9,270.6 125.2,269.1 126.5,267.8 127.8,266.8 129.1,266.1 130.4,265.7 131.7,265.4 133.0,265.3 134.3,265.5 135.6,266.0 136.9,266.8 138.2,267.6 139.6,268.6 140.9,269.7 142.2,270.9 143.5,272.4 144.8,274.0 146.1,275.7 147.4,277.5 148.7,279.3 150.0,281.4 151.3,283.5 152.6,285.8 153.9,288.1 155.2,290.3 156.5,292.5 157.9,294.5 159.2,296.4 160.5,297.8 161.8,298.8 163.1,299.2 164.4,299.3 165.7,299.3 167.0,299.3 168.3,299.4 169.6,299.6 170.9,300.0 172.2,300.6 173.5,301.2 174.9,301.8 176.2,302.2 177.5,302.2 178.8,301.7 180.1,300.4 181.4,298.5 182.7,296.1 184.0,293.6 185.3,291.2 186.6,289.2 187.9,287.5 189.2,286.4 190.5,285.9 191.9,286.1 193.2,287.1 194.5,289.0 195.8,291.8 197.1,295.4 198.4,300.0 199.7,305.4 201.0,311.6 202.3,318.2 203.6,324.5 204.9,330.6 206.2,335.9 207.5,340.0 208.8,343.0 210.2,344.6 211.5,345.4 212.8,345.4 214.1,344.9 215.4,344.4 216.7,344.2 218.0,344.1 219.3,343.9 220.6,343.5 221.9,342.6 223.2,341.2 224.5,339.4 225.8,337.2 227.2,334.5 228.5,331.3 229.8,327.9 231.1,324.8 232.4,322.0 233.7,319.9 235.0,318.4 236.3,317.8 237.6,318.1 238.9,319.3 240.2,321.4 241.5,324.4 242.8,328.1 244.2,332.2 245.5,336.4 246.8,339.8 248.1,341.7 249.4,341.8 250.7,340.5 252.0,338.8 253.3,337.8 254.6,338.1 255.9,340.0 257.2,343.7 258.5,349.0 259.8,355.6 261.1,362.9 262.5,370.1 263.8,376.9 265.1,382.5 266.4,386.9 267.7,390.3 268.5,392.1Z"/>
<path d="M25.8,392.9 25.8,339.4 27.1,338.7 28.4,338.1 29.7,337.4 31.0,336.8 32.4,336.1 33.7,335.4 35.0,334.8 36.3,334.1 37.6,333.5 38.9,332.8 40.2,332.1 41.5,331.4 42.8,330.7 44.1,330.0 45.5,329.3 46.8,328.6 48.1,327.9 49.4,327.1 50.7,326.3 52.0,325.6 53.3,324.8 54.6,324.1 55.9,323.3 57.2,322.5 58.6,321.7 59.9,321.0 61.2,320.2 62.5,319.4 63.8,318.6 65.1,317.9 66.4,317.1 67.7,316.4 69.0,315.6 70.3,314.9 71.7,314.3 73.0,313.6 74.3,313.0 75.6,312.4 76.9,311.8 78.2,311.2 79.5,310.6 80.8,309.9 82.1,309.1 83.5,308.3 84.8,307.5 86.1,306.7 87.4,305.9 88.7,305.1 90.0,304.3 91.3,303.5 92.6,302.6 93.9,301.8 95.2,300.9 96.6,300.0 97.9,299.2 99.2,298.2 100.5,297.3 101.8,296.3 103.1,295.4 104.4,294.4 105.7,293.3 107.0,292.1 108.3,290.9 109.7,289.5 111.0,287.9 112.3,286.5 113.6,285.4 114.9,284.1 116.2,282.6 117.5,281.0 118.8,279.3 120.1,277.7 121.4,276.2 122.8,274.7 124.1,273.3 125.4,272.1 126.7,271.2 128.0,270.5 129.3,270.1 130.6,269.9 131.9,270.0 133.2,270.2 134.5,270.7 135.9,271.5 137.2,272.5 138.5,273.7 139.8,274.6 141.1,275.6 142.4,276.9 143.7,278.3 145.0,279.9 146.3,281.6 147.7,283.3 149.0,285.1 150.3,287.2 151.6,289.4 152.9,291.7 154.2,294.1 155.5,296.4 156.8,298.7 158.1,300.8 159.4,302.7 160.8,304.1 162.1,305.0 163.4,305.5 164.7,305.5 166.0,305.4 167.3,305.3 168.6,305.3 169.9,305.4 171.2,305.7 172.5,306.2 173.9,306.7 175.2,307.2 176.5,307.6 177.8,307.5 179.1,306.9 180.4,305.6 181.7,303.6 183.0,301.3 184.3,298.9 185.6,296.6 187.0,294.6 188.3,293.1 189.6,292.2 190.9,291.8 192.2,292.1 193.5,293.3 194.8,295.4 196.1,298.3 197.4,302.1 198.8,306.9 200.1,312.5 201.4,318.8 202.7,325.3 204.0,331.5 205.3,337.3 206.6,342.2 207.9,345.9 209.2,348.6 210.5,350.1 211.9,350.8 213.2,351.0 214.5,350.8 215.8,350.6 217.1,350.7 218.4,350.9 219.7,351.0 221.0,350.8 222.3,350.0 223.6,348.7 225.0,346.8 226.3,344.5 227.6,341.5 228.9,338.0 230.2,334.4 231.5,331.0 232.8,328.0 234.1,325.7 235.4,324.2 236.7,323.6 238.1,323.9 239.4,325.1 240.7,327.3 242.0,330.4 243.3,334.3 244.6,338.7 245.9,343.2 247.2,347.0 248.5,349.0 249.8,349.1 251.2,347.6 252.5,345.7 253.8,344.6 255.1,344.8 256.4,346.8 257.7,350.7 259.0,356.5 260.3,363.8 261.6,372.0 263.0,380.6 264.3,388.7 265.1,392.9Z"/>
<path d="M25.8,393.6 25.8,344.6 27.1,344.0 28.4,343.5 29.7,342.9 31.1,342.3 32.4,341.7 33.7,341.2 35.0,340.6 36.3,340.0 37.6,339.4 38.9,338.8 40.2,338.2 41.6,337.6 42.9,337.0 44.2,336.3 45.5,335.7 46.8,335.0 48.1,334.4 49.4,333.7 50.7,333.0 52.1,332.3 53.4,331.6 54.7,330.9 56.0,330.3 57.3,329.6 58.6,328.9 59.9,328.2 61.2,327.5 62.6,326.8 63.9,326.1 65.2,325.4 66.5,324.8 67.8,324.1 69.1,323.5 70.4,322.8 71.8,322.2 73.1,321.6 74.4,321.1 75.7,320.5 77.0,320.0 78.3,319.5 79.6,318.9 80.9,318.4 82.3,317.6 83.6,316.9 84.9,316.1 86.2,315.4 87.5,314.7 88.8,314.0 90.1,313.3 91.4,312.6 92.8,311.8 94.1,311.1 95.4,310.4 96.7,309.6 98.0,308.9 99.3,308.1 100.6,307.3 102.0,306.5 103.3,305.8 104.6,305.1 105.9,304.3 107.2,303.4 108.5,302.5 109.8,301.4 111.1,300.2 112.5,299.1 113.8,298.0 115.1,296.7 116.4,295.2 117.7,293.4 119.0,291.5 120.3,289.6 121.6,287.8 123.0,286.0 124.3,284.2 125.6,282.6 126.9,281.2 128.2,280.1 129.5,279.3 130.8,278.7 132.1,278.3 133.5,278.1 134.8,278.1 136.1,278.5 137.4,279.1 138.7,279.9 140.0,280.7 141.3,281.7 142.7,282.8 144.0,284.1 145.3,285.6 146.6,287.2 147.9,289.0 149.2,290.7 150.5,292.8 151.8,295.0 153.2,297.4 154.5,299.8 155.8,302.2 157.1,304.6 158.4,306.9 159.7,309.0 161.0,310.5 162.3,311.5 163.7,311.9 165.0,312.0 166.3,311.9 167.6,311.8 168.9,311.7 170.2,311.7 171.5,312.0 172.9,312.4 174.2,312.8 175.5,313.2 176.8,313.4 178.1,313.1 179.4,312.3 180.7,310.8 182.0,308.8 183.4,306.4 184.7,304.0 186.0,301.8 187.3,299.9 188.6,298.5 189.9,297.7 191.2,297.4 192.5,297.9 193.9,299.2 195.2,301.4 196.5,304.4 197.8,308.4 199.1,313.3 200.4,319.0 201.7,325.4 203.0,331.8 204.4,337.7 205.7,343.1 207.0,347.5 208.3,350.9 209.6,353.1 210.9,354.5 212.2,355.2 213.6,355.5 214.9,355.7 216.2,355.8 217.5,356.2 218.8,356.7 220.1,357.0 221.4,357.1 222.7,356.6 224.1,355.5 225.4,353.7 226.7,351.3 228.0,348.2 229.3,344.6 230.6,340.8 231.9,337.2 233.2,334.2 234.6,331.8 235.9,330.2 237.2,329.5 238.5,329.8 239.8,331.1 241.1,333.4 242.4,336.6 243.8,340.7 245.1,345.4 246.4,350.1 247.7,354.1 249.0,356.3 250.3,356.2 251.6,354.6 252.9,352.5 254.3,351.2 255.6,351.4 256.9,353.5 258.2,357.6 259.5,363.7 260.8,371.6 262.1,380.8 263.4,390.5 263.9,393.6Z"/>
<path d="M25.8,394.4 25.8,344.6 27.1,344.0 28.4,343.4 29.7,342.8 31.1,342.3 32.4,341.7 33.7,341.1 35.0,340.5 36.3,339.9 37.6,339.3 39.0,338.7 40.3,338.1 41.6,337.5 42.9,336.9 44.2,336.3 45.5,335.6 46.9,335.0 48.2,334.3 49.5,333.6 50.8,332.9 52.1,332.2 53.4,331.5 54.7,330.8 56.1,330.2 57.4,329.5 58.7,328.8 60.0,328.1 61.3,327.4 62.6,326.7 64.0,326.0 65.3,325.3 66.6,324.6 67.9,324.0 69.2,323.3 70.5,322.7 71.8,322.1 73.2,321.5 74.5,321.0 75.8,320.4 77.1,319.9 78.4,319.3 79.7,318.8 81.1,318.2 82.4,317.5 83.7,316.8 85.0,316.0 86.3,315.3 87.6,314.6 89.0,313.9 90.3,313.1 91.6,312.4 92.9,311.7 94.2,311.0 95.5,310.2 96.8,309.5 98.2,308.7 99.5,308.0 100.8,307.2 102.1,306.4 103.4,305.7 104.7,304.9 106.1,304.1 107.4,303.2 108.7,302.3 110.0,301.3 111.3,300.1 112.6,299.0 114.0,298.3 115.3,297.3 116.6,296.2 117.9,294.8 119.2,293.3 120.5,291.8 121.8,290.4 123.2,288.9 124.5,287.5 125.8,286.3 127.1,285.2 128.4,284.5 129.7,284.0 131.1,283.7 132.4,283.6 133.7,283.7 135.0,283.9 136.3,284.5 137.6,285.4 138.9,286.3 140.3,286.9 141.6,287.7 142.9,288.6 144.2,289.8 145.5,291.1 146.8,292.6 148.2,294.2 149.5,295.9 150.8,297.8 152.1,300.0 153.4,302.3 154.7,304.8 156.1,307.3 157.4,309.9 158.7,312.3 160.0,314.6 161.3,316.3 162.6,317.5 163.9,318.2 165.3,318.3 166.6,318.4 167.9,318.3 169.2,318.2 170.5,318.3 171.8,318.5 173.2,318.8 174.5,319.1 175.8,319.4 177.1,319.3 178.4,318.8 179.7,317.7 181.1,316.0 182.4,313.8 183.7,311.3 185.0,308.9 186.3,306.7 187.6,304.9 188.9,303.6 190.3,302.8 191.6,302.7 192.9,303.2 194.2,304.6 195.5,306.9 196.8,310.1 198.2,314.2 199.5,319.2 200.8,325.0 202.1,331.3 203.4,337.5 204.7,343.0 206.0,348.0 207.4,351.9 208.7,354.8 210.0,356.7 211.3,357.9 212.6,358.6 213.9,359.0 215.3,359.4 216.6,359.9 217.9,360.5 219.2,361.2 220.5,361.9 221.8,362.3 223.2,362.1 224.5,361.3 225.8,359.7 227.1,357.4 228.4,354.2 229.7,350.5 231.0,346.7 232.4,343.1 233.7,340.0 235.0,337.5 236.3,335.9 237.6,335.3 238.9,335.6 240.3,336.9 241.6,339.2 242.9,342.5 244.2,346.7 245.5,351.6 246.8,356.5 248.2,360.7 249.5,363.0 250.8,362.9 252.1,361.1 253.4,359.0 254.7,357.5 256.0,357.7 257.4,359.8 258.7,364.1 260.0,370.5 261.3,378.8 262.6,388.7 263.3,394.4Z"/>
<path d="M25.8,395.1 25.8,351.0 27.1,350.5 28.4,350.0 29.8,349.6 31.1,349.1 32.4,348.6 33.7,348.0 35.0,347.5 36.3,347.0 37.7,346.5 39.0,346.0 40.3,345.5 41.6,344.9 42.9,344.4 44.3,343.8 45.6,343.3 46.9,342.7 48.2,342.1 49.5,341.4 50.8,340.8 52.2,340.2 53.5,339.6 54.8,339.0 56.1,338.4 57.4,337.8 58.8,337.2 60.1,336.6 61.4,336.0 62.7,335.4 64.0,334.8 65.4,334.2 66.7,333.6 68.0,333.0 69.3,332.4 70.6,331.9 71.9,331.4 73.3,330.8 74.6,330.3 75.9,329.8 77.2,329.4 78.5,328.9 79.9,328.4 81.2,327.9 82.5,327.2 83.8,326.6 85.1,325.9 86.4,325.3 87.8,324.6 89.1,324.0 90.4,323.3 91.7,322.7 93.0,322.0 94.4,321.4 95.7,320.8 97.0,320.1 98.3,319.5 99.6,318.8 100.9,318.2 102.3,317.5 103.6,316.9 104.9,316.4 106.2,315.8 107.5,315.2 108.9,314.6 110.2,314.0 111.5,313.2 112.8,312.6 114.1,312.0 115.5,311.2 116.8,310.2 118.1,308.8 119.4,307.2 120.7,305.6 122.0,303.9 123.4,302.1 124.7,300.4 126.0,298.6 127.3,297.1 128.6,295.8 130.0,294.8 131.3,293.9 132.6,293.2 133.9,292.7 135.2,292.3 136.5,292.3 137.9,292.6 139.2,292.9 140.5,293.3 141.8,293.8 143.1,294.5 144.5,295.4 145.8,296.5 147.1,297.8 148.4,299.2 149.7,300.7 151.0,302.5 152.4,304.6 153.7,306.9 155.0,309.3 156.3,311.9 157.6,314.5 159.0,317.2 160.3,319.7 161.6,321.7 162.9,323.1 164.2,323.9 165.6,324.3 166.9,324.5 168.2,324.5 169.5,324.5 170.8,324.6 172.1,324.7 173.5,325.0 174.8,325.1 176.1,325.2 177.4,324.9 178.7,324.1 180.1,322.7 181.4,320.8 182.7,318.4 184.0,315.8 185.3,313.4 186.6,311.2 188.0,309.5 189.3,308.3 190.6,307.6 191.9,307.6 193.2,308.2 194.6,309.7 195.9,312.0 197.2,315.3 198.5,319.5 199.8,324.5 201.1,330.3 202.5,336.5 203.8,342.4 205.1,347.6 206.4,352.0 207.7,355.4 209.1,357.9 210.4,359.5 211.7,360.5 213.0,361.1 214.3,361.7 215.7,362.2 217.0,362.9 218.3,363.7 219.6,364.7 220.9,365.6 222.2,366.3 223.6,366.4 224.9,365.9 226.2,364.5 227.5,362.3 228.8,359.2 230.2,355.6 231.5,351.7 232.8,348.1 234.1,344.9 235.4,342.5 236.7,340.8 238.1,340.2 239.4,340.5 240.7,341.8 242.0,344.2 243.3,347.6 244.7,352.0 246.0,356.9 247.3,362.1 248.6,366.4 249.9,368.9 251.2,368.8 252.6,366.9 253.9,364.6 255.2,363.1 256.5,363.3 257.8,365.4 259.2,369.8 260.5,376.4 261.8,385.2 263.0,395.1Z"/>
<path d="M25.8,395.9 25.8,351.0 27.1,350.5 28.4,350.0 29.8,349.5 31.1,349.0 32.4,348.5 33.7,348.0 35.0,347.5 36.4,346.9 37.7,346.4 39.0,345.9 40.3,345.4 41.7,344.8 43.0,344.3 44.3,343.7 45.6,343.2 46.9,342.6 48.3,342.0 49.6,341.4 50.9,340.7 52.2,340.1 53.5,339.5 54.9,338.9 56.2,338.3 57.5,337.7 58.8,337.1 60.1,336.5 61.5,335.9 62.8,335.3 64.1,334.7 65.4,334.1 66.8,333.5 68.1,332.9 69.4,332.3 70.7,331.8 72.0,331.3 73.4,330.7 74.7,330.2 76.0,329.7 77.3,329.2 78.6,328.8 80.0,328.3 81.3,327.8 82.6,327.1 83.9,326.5 85.3,325.8 86.6,325.1 87.9,324.5 89.2,323.8 90.5,323.2 91.9,322.6 93.2,321.9 94.5,321.3 95.8,320.6 97.1,320.0 98.5,319.3 99.8,318.7 101.1,318.0 102.4,317.4 103.7,316.8 105.1,316.2 106.4,315.7 107.7,315.1 109.0,314.5 110.4,313.8 111.7,313.1 113.0,312.5 114.3,312.2 115.6,311.8 117.0,311.1 118.3,310.2 119.6,309.0 120.9,307.8 122.2,306.6 123.6,305.3 124.9,304.0 126.2,302.7 127.5,301.6 128.8,300.7 130.2,300.1 131.5,299.6 132.8,299.2 134.1,298.9 135.5,298.9 136.8,299.1 138.1,299.5 139.4,299.9 140.7,300.1 142.1,300.3 143.4,300.7 144.7,301.4 146.0,302.2 147.3,303.2 148.7,304.3 150.0,305.6 151.3,307.3 152.6,309.2 154.0,311.3 155.3,313.6 156.6,316.2 157.9,318.9 159.2,321.7 160.6,324.3 161.9,326.5 163.2,328.2 164.5,329.2 165.8,329.7 167.2,330.0 168.5,330.1 169.8,330.1 171.1,330.1 172.4,330.3 173.8,330.4 175.1,330.4 176.4,330.3 177.7,329.8 179.1,328.7 180.4,327.1 181.7,324.9 183.0,322.4 184.3,319.8 185.7,317.4 187.0,315.2 188.3,313.6 189.6,312.4 190.9,311.9 192.3,311.9 193.6,312.6 194.9,314.1 196.2,316.5 197.5,319.9 198.9,324.1 200.2,329.1 201.5,334.9 202.8,341.0 204.2,346.6 205.5,351.3 206.8,355.2 208.1,358.2 209.4,360.3 210.8,361.6 212.1,362.4 213.4,363.1 214.7,363.7 216.0,364.3 217.4,365.1 218.7,366.2 220.0,367.3 221.3,368.4 222.7,369.3 224.0,369.7 225.3,369.4 226.6,368.2 227.9,366.1 229.3,363.1 230.6,359.4 231.9,355.6 233.2,351.9 234.5,348.7 235.9,346.3 237.2,344.6 238.5,344.0 239.8,344.3 241.1,345.7 242.5,348.1 243.8,351.6 245.1,356.0 246.4,361.1 247.8,366.4 249.1,371.0 250.4,373.6 251.7,373.6 253.0,371.7 254.4,369.4 255.7,367.8 257.0,367.9 258.3,370.1 259.6,374.6 261.0,381.4 262.3,390.4 262.9,395.9Z"/>
<path d="M25.8,396.6 25.8,358.4 27.1,358.0 28.4,357.6 29.8,357.2 31.1,356.8 32.4,356.3 33.7,355.8 35.1,355.4 36.4,354.9 37.7,354.5 39.0,354.0 40.4,353.6 41.7,353.1 43.0,352.6 44.3,352.1 45.7,351.6 47.0,351.1 48.3,350.5 49.6,350.0 51.0,349.4 52.3,348.8 53.6,348.3 54.9,347.7 56.2,347.2 57.6,346.7 58.9,346.1 60.2,345.6 61.5,345.1 62.9,344.5 64.2,344.0 65.5,343.5 66.8,342.9 68.2,342.5 69.5,342.0 70.8,341.5 72.1,341.0 73.5,340.5 74.8,340.0 76.1,339.6 77.4,339.1 78.8,338.7 80.1,338.2 81.4,337.8 82.7,337.2 84.1,336.5 85.4,335.9 86.7,335.3 88.0,334.7 89.3,334.1 90.7,333.5 92.0,332.9 93.3,332.3 94.6,331.8 96.0,331.2 97.3,330.6 98.6,330.0 99.9,329.4 101.3,328.8 102.6,328.2 103.9,327.7 105.2,327.2 106.6,326.7 107.9,326.3 109.2,325.8 110.5,325.4 111.9,324.9 113.2,324.7 114.5,324.5 115.8,324.3 117.1,323.7 118.5,322.9 119.8,321.9 121.1,320.8 122.4,319.6 123.8,318.2 125.1,316.6 126.4,315.1 127.7,313.6 129.1,312.3 130.4,311.3 131.7,310.2 133.0,309.2 134.4,308.4 135.7,307.7 137.0,307.2 138.3,307.0 139.7,306.9 141.0,306.8 142.3,306.7 143.6,306.9 144.9,307.2 146.3,307.8 147.6,308.5 148.9,309.4 150.2,310.5 151.6,312.0 152.9,313.7 154.2,315.6 155.5,317.9 156.9,320.3 158.2,323.0 159.5,325.9 160.8,328.6 162.2,330.9 163.5,332.6 164.8,333.7 166.1,334.3 167.5,334.7 168.8,334.8 170.1,334.8 171.4,334.7 172.8,334.8 174.1,334.8 175.4,334.7 176.7,334.4 178.0,333.8 179.4,332.6 180.7,330.8 182.0,328.5 183.3,326.0 184.7,323.4 186.0,321.0 187.3,319.0 188.6,317.4 190.0,316.4 191.3,315.9 192.6,315.9 193.9,316.6 195.3,318.2 196.6,320.7 197.9,324.0 199.2,328.3 200.6,333.3 201.9,339.0 203.2,344.9 204.5,350.2 205.8,354.5 207.2,357.9 208.5,360.5 209.8,362.2 211.1,363.3 212.5,364.0 213.8,364.6 215.1,365.3 216.4,366.0 217.8,366.9 219.1,368.0 220.4,369.3 221.7,370.5 223.1,371.5 224.4,372.1 225.7,372.0 227.0,370.9 228.4,368.9 229.7,365.9 231.0,362.2 232.3,358.3 233.6,354.6 235.0,351.4 236.3,348.9 237.6,347.3 238.9,346.6 240.3,347.0 241.6,348.4 242.9,350.8 244.2,354.4 245.6,358.8 246.9,364.1 248.2,369.5 249.5,374.3 250.9,377.1 252.2,377.3 253.5,375.5 254.8,373.1 256.2,371.6 257.5,371.7 258.8,374.0 260.1,378.5 261.5,385.4 262.8,394.7 263.0,396.6Z"/>
<path d="M25.8,397.3 25.8,358.4 27.1,357.9 28.5,357.5 29.8,357.1 31.1,356.7 32.4,356.3 33.8,355.8 35.1,355.3 36.4,354.9 37.7,354.4 39.1,354.0 40.4,353.5 41.7,353.0 43.0,352.6 44.4,352.1 45.7,351.5 47.0,351.0 48.4,350.5 49.7,349.9 51.0,349.3 52.3,348.8 53.7,348.2 55.0,347.7 56.3,347.1 57.6,346.6 59.0,346.1 60.3,345.5 61.6,345.0 62.9,344.4 64.3,343.9 65.6,343.4 66.9,342.9 68.3,342.4 69.6,341.9 70.9,341.4 72.2,340.9 73.6,340.4 74.9,340.0 76.2,339.5 77.5,339.0 78.9,338.6 80.2,338.1 81.5,337.7 82.8,337.1 84.2,336.5 85.5,335.8 86.8,335.2 88.2,334.6 89.5,334.0 90.8,333.4 92.1,332.8 93.5,332.2 94.8,331.7 96.1,331.1 97.4,330.5 98.8,329.9 100.1,329.3 101.4,328.7 102.7,328.1 104.1,327.6 105.4,327.1 106.7,326.6 108.0,326.2 109.4,325.7 110.7,325.3 112.0,324.8 113.4,324.6 114.7,324.7 116.0,324.7 117.3,324.5 118.7,324.0 120.0,323.3 121.3,322.5 122.6,321.7 124.0,320.7 125.3,319.6 126.6,318.4 127.9,317.4 129.3,316.5 130.6,315.7 131.9,315.1 133.3,314.4 134.6,313.8 135.9,313.4 137.2,313.2 138.6,313.2 139.9,313.2 141.2,312.8 142.5,312.6 143.9,312.5 145.2,312.6 146.5,312.9 147.8,313.4 149.2,314.1 150.5,315.0 151.8,316.3 153.2,317.8 154.5,319.6 155.8,321.7 157.1,324.2 158.5,326.8 159.8,329.6 161.1,332.4 162.4,334.7 163.8,336.4 165.1,337.5 166.4,338.1 167.7,338.4 169.1,338.4 170.4,338.4 171.7,338.3 173.1,338.2 174.4,338.2 175.7,338.1 177.0,337.7 178.4,337.0 179.7,335.8 181.0,334.1 182.3,332.0 183.7,329.5 185.0,327.1 186.3,324.8 187.6,322.9 189.0,321.4 190.3,320.5 191.6,320.1 193.0,320.2 194.3,320.9 195.6,322.5 196.9,325.0 198.3,328.3 199.6,332.5 200.9,337.5 202.2,343.0 203.6,348.6 204.9,353.5 206.2,357.3 207.5,360.3 208.9,362.5 210.2,363.9 211.5,364.8 212.9,365.4 214.2,365.9 215.5,366.6 216.8,367.4 218.2,368.3 219.5,369.5 220.8,370.9 222.1,372.2 223.5,373.3 224.8,374.0 226.1,374.0 227.4,372.9 228.8,370.9 230.1,367.9 231.4,364.2 232.8,360.3 234.1,356.5 235.4,353.3 236.7,350.8 238.1,349.1 239.4,348.4 240.7,348.8 242.0,350.2 243.4,352.7 244.7,356.2 246.0,360.8 247.3,366.1 248.7,371.7 250.0,376.7 251.3,379.7 252.6,380.2 254.0,378.5 255.3,376.2 256.6,374.7 258.0,374.9 259.3,377.1 260.6,381.7 261.9,388.8 263.1,397.3Z"/>
<path d="M25.8,398.1 25.8,366.2 27.1,365.8 28.5,365.5 29.8,365.1 31.1,364.7 32.4,364.3 33.8,363.9 35.1,363.5 36.4,363.0 37.8,362.6 39.1,362.2 40.4,361.8 41.8,361.4 43.1,360.9 44.4,360.5 45.7,360.0 47.1,359.4 48.4,358.9 49.7,358.3 51.1,357.8 52.4,357.3 53.7,356.7 55.0,356.2 56.4,355.7 57.7,355.3 59.0,354.8 60.4,354.3 61.7,353.8 63.0,353.3 64.4,352.8 65.7,352.4 67.0,351.9 68.3,351.5 69.7,351.0 71.0,350.6 72.3,350.1 73.7,349.6 75.0,349.1 76.3,348.7 77.6,348.2 79.0,347.7 80.3,347.3 81.6,346.8 83.0,346.3 84.3,345.7 85.6,345.0 86.9,344.4 88.3,343.8 89.6,343.2 90.9,342.7 92.3,342.1 93.6,341.6 94.9,341.0 96.3,340.5 97.6,339.9 98.9,339.4 100.2,338.8 101.6,338.3 102.9,337.7 104.2,337.2 105.6,336.7 106.9,336.2 108.2,335.7 109.5,335.3 110.9,334.9 112.2,334.5 113.5,334.4 114.9,334.4 116.2,334.3 117.5,334.0 118.9,333.5 120.2,332.7 121.5,331.9 122.8,330.9 124.2,329.8 125.5,328.4 126.8,327.0 128.2,325.6 129.5,324.3 130.8,323.2 132.1,322.0 133.5,320.9 134.8,319.8 136.1,318.8 137.5,318.1 138.8,317.5 140.1,317.0 141.5,316.5 142.8,316.2 144.1,315.9 145.4,315.9 146.8,316.1 148.1,316.4 149.4,317.0 150.8,317.8 152.1,319.0 153.4,320.4 154.7,322.2 156.1,324.2 157.4,326.6 158.7,329.4 160.1,332.2 161.4,335.0 162.7,337.4 164.1,339.1 165.4,340.2 166.7,340.8 168.0,341.1 169.4,341.1 170.7,341.0 172.0,340.8 173.4,340.7 174.7,340.6 176.0,340.5 177.3,340.1 178.7,339.5 180.0,338.4 181.3,336.8 182.7,334.8 184.0,332.6 185.3,330.3 186.6,328.2 188.0,326.4 189.3,325.1 190.6,324.2 192.0,323.8 193.3,324.0 194.6,324.7 196.0,326.3 197.3,328.7 198.6,332.1 199.9,336.2 201.3,341.1 202.6,346.4 203.9,351.8 205.3,356.3 206.6,359.7 207.9,362.3 209.2,364.1 210.6,365.3 211.9,366.1 213.2,366.6 214.6,367.1 215.9,367.7 217.2,368.6 218.6,369.6 219.9,370.8 221.2,372.2 222.5,373.6 223.9,374.8 225.2,375.6 226.5,375.6 227.9,374.6 229.2,372.6 230.5,369.5 231.8,365.8 233.2,361.9 234.5,358.1 235.8,354.8 237.2,352.3 238.5,350.6 239.8,349.9 241.2,350.3 242.5,351.7 243.8,354.2 245.1,357.8 246.5,362.4 247.8,367.8 249.1,373.5 250.5,378.7 251.8,382.0 253.1,382.7 254.4,381.2 255.8,379.0 257.1,377.6 258.4,377.7 259.8,380.0 261.1,384.7 262.4,391.8 263.3,398.1Z"/>
<path d="M25.8,398.8 25.8,366.1 27.1,365.8 28.5,365.4 29.8,365.1 31.1,364.7 32.5,364.3 33.8,363.9 35.1,363.4 36.5,363.0 37.8,362.6 39.1,362.2 40.5,361.7 41.8,361.3 43.1,360.9 44.4,360.4 45.8,359.9 47.1,359.4 48.4,358.9 49.8,358.3 51.1,357.7 52.4,357.2 53.8,356.7 55.1,356.2 56.4,355.7 57.8,355.2 59.1,354.7 60.4,354.3 61.8,353.8 63.1,353.3 64.4,352.8 65.8,352.3 67.1,351.8 68.4,351.4 69.8,350.9 71.1,350.5 72.4,350.0 73.8,349.6 75.1,349.1 76.4,348.6 77.8,348.1 79.1,347.7 80.4,347.2 81.7,346.8 83.1,346.2 84.4,345.6 85.7,344.9 87.1,344.3 88.4,343.7 89.7,343.1 91.1,342.6 92.4,342.0 93.7,341.5 95.1,340.9 96.4,340.4 97.7,339.8 99.1,339.3 100.4,338.7 101.7,338.2 103.1,337.6 104.4,337.1 105.7,336.6 107.1,336.1 108.4,335.6 109.7,335.2 111.1,334.8 112.4,334.4 113.7,334.3 115.0,334.5 116.4,334.6 117.7,334.5 119.0,334.2 120.4,333.7 121.7,333.0 123.0,332.2 124.4,331.2 125.7,330.0 127.0,328.8 128.4,327.5 129.7,326.4 131.0,325.3 132.4,324.2 133.7,323.2 135.0,322.1 136.4,321.2 137.7,320.5 139.0,320.0 140.4,319.5 141.7,319.0 143.0,318.5 144.4,318.2 145.7,318.1 147.0,318.1 148.4,318.4 149.7,319.0 151.0,319.8 152.3,320.9 153.7,322.3 155.0,324.0 156.3,326.1 157.7,328.5 159.0,331.3 160.3,334.2 161.7,337.1 163.0,339.5 164.3,341.3 165.7,342.4 167.0,342.9 168.3,343.1 169.7,343.1 171.0,342.9 172.3,342.7 173.7,342.5 175.0,342.4 176.3,342.2 177.7,341.9 179.0,341.3 180.3,340.3 181.7,338.8 183.0,337.0 184.3,334.9 185.6,332.8 187.0,330.8 188.3,329.1 189.6,327.9 191.0,327.1 192.3,326.7 193.6,326.9 195.0,327.6 196.3,329.2 197.6,331.6 199.0,334.9 200.3,339.0 201.6,343.8 203.0,349.1 204.3,354.3 205.6,358.5 207.0,361.6 208.3,363.9 209.6,365.5 211.0,366.5 212.3,367.2 213.6,367.6 215.0,368.1 216.3,368.8 217.6,369.6 218.9,370.7 220.3,372.0 221.6,373.4 222.9,374.9 224.3,376.2 225.6,377.0 226.9,377.1 228.3,376.3 229.6,374.3 230.9,371.3 232.3,367.6 233.6,363.7 234.9,359.9 236.3,356.6 237.6,354.1 238.9,352.4 240.3,351.7 241.6,352.1 242.9,353.5 244.3,356.0 245.6,359.7 246.9,364.3 248.3,369.7 249.6,375.6 250.9,380.9 252.3,384.4 253.6,385.4 254.9,384.1 256.2,382.0 257.6,380.6 258.9,380.8 260.2,383.1 261.6,387.8 262.9,395.0 263.4,398.8Z"/>
<path d="M25.8,399.6 25.8,373.6 27.1,373.3 28.5,372.9 29.8,372.6 31.1,372.3 32.5,371.9 33.8,371.4 35.1,371.0 36.5,370.5 37.8,370.2 39.1,369.8 40.5,369.3 41.8,368.9 43.2,368.5 44.5,368.0 45.8,367.5 47.2,367.0 48.5,366.4 49.8,365.8 51.2,365.2 52.5,364.7 53.8,364.1 55.2,363.6 56.5,363.2 57.8,362.8 59.2,362.3 60.5,361.9 61.8,361.4 63.2,361.0 64.5,360.5 65.8,360.0 67.2,359.6 68.5,359.2 69.8,358.8 71.2,358.4 72.5,357.9 73.9,357.4 75.2,356.9 76.5,356.4 77.9,355.8 79.2,355.3 80.5,354.9 81.9,354.4 83.2,353.8 84.5,353.2 85.9,352.5 87.2,351.9 88.5,351.3 89.9,350.7 91.2,350.1 92.5,349.6 93.9,349.1 95.2,348.6 96.5,348.0 97.9,347.6 99.2,347.1 100.5,346.5 101.9,346.0 103.2,345.4 104.6,344.9 105.9,344.4 107.2,343.8 108.6,343.3 109.9,342.9 111.2,342.5 112.6,342.1 113.9,342.0 115.2,342.0 116.6,342.0 117.9,341.7 119.2,341.3 120.6,340.6 121.9,339.7 123.2,338.7 124.6,337.5 125.9,336.0 127.2,334.5 128.6,333.0 129.9,331.5 131.2,330.1 132.6,328.8 133.9,327.4 135.3,326.0 136.6,324.9 137.9,323.9 139.3,323.2 140.6,322.5 141.9,321.8 143.3,321.3 144.6,320.9 145.9,320.7 147.3,320.7 148.6,321.0 149.9,321.5 151.3,322.2 152.6,323.2 153.9,324.6 155.3,326.3 156.6,328.3 157.9,330.8 159.3,333.6 160.6,336.5 161.9,339.4 163.3,341.7 164.6,343.4 166.0,344.4 167.3,344.9 168.6,345.0 170.0,344.9 171.3,344.7 172.6,344.4 174.0,344.2 175.3,344.0 176.6,343.8 178.0,343.4 179.3,342.8 180.6,341.7 182.0,340.3 183.3,338.5 184.6,336.5 186.0,334.4 187.3,332.5 188.6,330.9 190.0,329.7 191.3,328.9 192.6,328.6 194.0,328.8 195.3,329.5 196.7,331.0 198.0,333.4 199.3,336.7 200.7,340.8 202.0,345.6 203.3,350.8 204.7,356.0 206.0,360.1 207.3,363.0 208.7,365.2 210.0,366.6 211.3,367.6 212.7,368.2 214.0,368.6 215.3,369.1 216.7,369.7 218.0,370.6 219.3,371.7 220.7,373.1 222.0,374.6 223.3,376.1 224.7,377.5 226.0,378.5 227.4,378.7 228.7,378.1 230.0,376.3 231.4,373.4 232.7,369.9 234.0,366.1 235.4,362.4 236.7,359.2 238.0,356.6 239.4,355.0 240.7,354.3 242.0,354.7 243.4,356.2 244.7,358.7 246.0,362.3 247.4,367.0 248.7,372.5 250.0,378.4 251.4,383.9 252.7,387.6 254.1,388.7 255.4,387.5 256.7,385.6 258.1,384.2 259.4,384.4 260.7,386.8 262.1,391.5 263.4,398.7 263.5,399.6Z"/>
<path d="M25.8,400.3 25.8,373.6 27.1,373.2 28.5,372.9 29.8,372.6 31.2,372.3 32.5,371.9 33.8,371.4 35.2,370.9 36.5,370.5 37.8,370.1 39.2,369.7 40.5,369.3 41.9,368.9 43.2,368.4 44.5,368.0 45.9,367.5 47.2,366.9 48.5,366.4 49.9,365.8 51.2,365.2 52.6,364.6 53.9,364.1 55.2,363.6 56.6,363.1 57.9,362.7 59.2,362.3 60.6,361.8 61.9,361.4 63.3,360.9 64.6,360.4 65.9,360.0 67.3,359.6 68.6,359.2 69.9,358.8 71.3,358.3 72.6,357.8 74.0,357.4 75.3,356.8 76.6,356.3 78.0,355.8 79.3,355.3 80.6,354.8 82.0,354.3 83.3,353.7 84.7,353.1 86.0,352.5 87.3,351.8 88.7,351.2 90.0,350.6 91.3,350.1 92.7,349.5 94.0,349.0 95.4,348.5 96.7,348.0 98.0,347.5 99.4,347.0 100.7,346.5 102.0,345.9 103.4,345.3 104.7,344.8 106.1,344.3 107.4,343.7 108.7,343.2 110.1,342.8 111.4,342.4 112.7,342.0 114.1,342.0 115.4,342.1 116.8,342.3 118.1,342.2 119.4,341.9 120.8,341.4 122.1,340.8 123.4,340.1 124.8,339.1 126.1,337.9 127.5,336.6 128.8,335.4 130.1,334.3 131.5,333.2 132.8,332.1 134.1,331.0 135.5,330.0 136.8,329.1 138.2,328.4 139.5,328.0 140.8,327.5 142.2,326.9 143.5,326.3 144.8,325.9 146.2,325.6 147.5,325.6 148.9,325.8 150.2,326.2 151.5,326.9 152.9,327.8 154.2,329.1 155.5,330.7 156.9,332.7 158.2,335.0 159.6,337.7 160.9,340.5 162.2,343.1 163.6,345.2 164.9,346.6 166.2,347.3 167.6,347.6 168.9,347.5 170.3,347.3 171.6,347.0 172.9,346.6 174.3,346.3 175.6,346.1 176.9,345.8 178.3,345.3 179.6,344.6 181.0,343.5 182.3,342.0 183.6,340.2 185.0,338.2 186.3,336.2 187.6,334.4 189.0,332.8 190.3,331.6 191.7,330.8 193.0,330.5 194.3,330.7 195.7,331.3 197.0,332.8 198.3,335.1 199.7,338.4 201.0,342.5 202.4,347.3 203.7,352.5 205.0,357.6 206.4,361.6 207.7,364.3 209.0,366.4 210.4,367.7 211.7,368.6 213.1,369.1 214.4,369.5 215.7,370.0 217.1,370.7 218.4,371.6 219.7,372.7 221.1,374.1 222.4,375.6 223.8,377.2 225.1,378.7 226.4,379.9 227.8,380.4 229.1,380.1 230.4,378.6 231.8,376.1 233.1,372.9 234.5,369.3 235.8,365.7 237.1,362.6 238.5,360.2 239.8,358.6 241.1,358.0 242.5,358.4 243.8,359.9 245.2,362.4 246.5,366.1 247.8,370.8 249.2,376.3 250.5,382.3 251.8,387.8 253.2,391.7 254.5,392.9 255.9,391.8 257.2,389.9 258.5,388.6 259.9,388.8 261.2,391.2 262.5,395.9 263.4,400.3Z"/>
<path d="M25.8,401.1 25.8,380.1 27.1,379.8 28.5,379.5 29.8,379.2 31.2,378.8 32.5,378.4 33.8,377.9 35.2,377.4 36.5,376.9 37.9,376.5 39.2,376.1 40.5,375.7 41.9,375.2 43.2,374.7 44.6,374.2 45.9,373.7 47.2,373.1 48.6,372.5 49.9,371.9 51.3,371.2 52.6,370.6 53.9,370.1 55.3,369.6 56.6,369.1 58.0,368.7 59.3,368.4 60.6,368.0 62.0,367.6 63.3,367.1 64.7,366.6 66.0,366.2 67.3,365.9 68.7,365.5 70.0,365.2 71.4,364.8 72.7,364.3 74.0,363.8 75.4,363.2 76.7,362.6 78.1,362.0 79.4,361.4 80.8,360.9 82.1,360.4 83.4,359.8 84.8,359.2 86.1,358.5 87.5,357.9 88.8,357.2 90.1,356.6 91.5,356.1 92.8,355.6 94.2,355.1 95.5,354.7 96.8,354.2 98.2,353.8 99.5,353.4 100.9,353.0 102.2,352.5 103.5,352.0 104.9,351.5 106.2,350.9 107.6,350.3 108.9,349.8 110.2,349.4 111.6,349.0 112.9,348.8 114.3,348.7 115.6,348.9 116.9,349.0 118.3,348.9 119.6,348.8 121.0,348.4 122.3,347.9 123.6,347.2 125.0,346.4 126.3,345.3 127.7,344.1 129.0,343.0 130.3,341.9 131.7,340.8 133.0,339.6 134.4,338.4 135.7,337.3 137.0,336.2 138.4,335.3 139.7,334.6 141.1,334.0 142.4,333.4 143.7,332.8 145.1,332.4 146.4,332.1 147.8,332.0 149.1,332.1 150.4,332.5 151.8,333.1 153.1,334.0 154.5,335.2 155.8,336.6 157.1,338.5 158.5,340.7 159.8,343.1 161.2,345.6 162.5,347.8 163.8,349.5 165.2,350.6 166.5,351.0 167.9,351.0 169.2,350.8 170.5,350.5 171.9,350.1 173.2,349.7 174.6,349.3 175.9,349.0 177.2,348.7 178.6,348.3 179.9,347.6 181.3,346.5 182.6,345.0 184.0,343.3 185.3,341.4 186.6,339.5 188.0,337.7 189.3,336.1 190.7,335.0 192.0,334.2 193.3,333.9 194.7,334.0 196.0,334.6 197.4,336.0 198.7,338.3 200.0,341.4 201.4,345.4 202.7,350.0 204.1,355.1 205.4,359.9 206.7,363.5 208.1,366.0 209.4,367.7 210.8,368.9 212.1,369.6 213.4,370.1 214.8,370.4 216.1,370.9 217.5,371.6 218.8,372.5 220.1,373.6 221.5,375.0 222.8,376.6 224.2,378.3 225.5,380.0 226.8,381.3 228.2,382.2 229.5,382.2 230.9,381.2 232.2,379.2 233.5,376.4 234.9,373.1 236.2,369.8 237.6,366.9 238.9,364.6 240.2,363.1 241.6,362.6 242.9,363.0 244.3,364.5 245.6,367.1 246.9,370.8 248.3,375.6 249.6,381.1 251.0,387.1 252.3,392.7 253.6,396.6 255.0,397.9 256.3,396.8 257.7,394.9 259.0,393.6 260.3,393.9 261.7,396.3 263.0,401.0 263.0,401.1Z"/>
<path d="M25.8,401.8 25.8,380.1 27.1,379.7 28.5,379.4 29.8,379.1 31.2,378.8 32.5,378.3 33.9,377.8 35.2,377.3 36.5,376.9 37.9,376.5 39.2,376.0 40.6,375.6 41.9,375.2 43.3,374.7 44.6,374.2 45.9,373.7 47.3,373.1 48.6,372.5 50.0,371.8 51.3,371.2 52.7,370.6 54.0,370.0 55.3,369.5 56.7,369.1 58.0,368.7 59.4,368.3 60.7,367.9 62.1,367.5 63.4,367.0 64.7,366.6 66.1,366.2 67.4,365.8 68.8,365.5 70.1,365.1 71.5,364.7 72.8,364.2 74.1,363.7 75.5,363.1 76.8,362.5 78.2,361.9 79.5,361.4 80.9,360.9 82.2,360.3 83.5,359.8 84.9,359.1 86.2,358.5 87.6,357.8 88.9,357.2 90.3,356.6 91.6,356.0 92.9,355.5 94.3,355.1 95.6,354.6 97.0,354.2 98.3,353.8 99.7,353.4 101.0,352.9 102.4,352.4 103.7,351.9 105.0,351.4 106.4,350.8 107.7,350.2 109.1,349.7 110.4,349.3 111.8,348.9 113.1,348.7 114.4,348.7 115.8,349.0 117.1,349.2 118.5,349.4 119.8,349.5 121.2,349.3 122.5,349.1 123.8,348.7 125.2,348.2 126.5,347.4 127.9,346.7 129.2,345.9 130.6,345.2 131.9,344.6 133.2,343.9 134.6,343.2 135.9,342.4 137.3,341.8 138.6,341.4 140.0,341.1 141.3,340.9 142.6,340.2 144.0,339.7 145.3,339.2 146.7,338.9 148.0,338.7 149.4,338.8 150.7,339.1 152.0,339.6 153.4,340.5 154.7,341.6 156.1,342.9 157.4,344.6 158.8,346.6 160.1,348.8 161.4,351.1 162.8,353.0 164.1,354.4 165.5,355.1 166.8,355.3 168.2,355.2 169.5,355.0 170.8,354.6 172.2,354.2 173.5,353.8 174.9,353.4 176.2,353.0 177.6,352.7 178.9,352.2 180.2,351.5 181.6,350.5 182.9,349.1 184.3,347.4 185.6,345.6 187.0,343.7 188.3,342.0 189.6,340.5 191.0,339.4 192.3,338.6 193.7,338.3 195.0,338.4 196.4,338.8 197.7,340.1 199.0,342.2 200.4,345.1 201.7,348.9 203.1,353.3 204.4,358.0 205.8,362.4 207.1,365.6 208.4,367.7 209.8,369.1 211.1,370.1 212.5,370.7 213.8,371.0 215.2,371.3 216.5,371.7 217.8,372.4 219.2,373.3 220.5,374.5 221.9,376.0 223.2,377.6 224.6,379.4 225.9,381.1 227.2,382.7 228.6,383.9 229.9,384.3 231.3,383.8 232.6,382.4 234.0,380.0 235.3,377.2 236.6,374.3 238.0,371.6 239.3,369.5 240.7,368.1 242.0,367.6 243.4,368.2 244.7,369.7 246.0,372.4 247.4,376.1 248.7,380.9 250.1,386.5 251.4,392.5 252.8,398.1 254.0,401.8ZM257.1,401.8 258.1,400.4 259.5,399.1 260.8,399.3 262.2,401.7 262.2,401.8Z"/>
<path d="M25.8,402.6 25.8,385.4 27.1,385.0 28.5,384.7 29.8,384.5 31.2,384.1 32.5,383.6 33.9,383.0 35.2,382.4 36.6,381.9 37.9,381.5 39.3,381.1 40.6,380.7 41.9,380.2 43.3,379.7 44.6,379.2 46.0,378.6 47.3,378.0 48.7,377.3 50.0,376.5 51.4,375.9 52.7,375.2 54.1,374.7 55.4,374.2 56.8,373.8 58.1,373.5 59.4,373.2 60.8,372.9 62.1,372.5 63.5,372.1 64.8,371.7 66.2,371.4 67.5,371.1 68.9,370.9 70.2,370.6 71.6,370.2 72.9,369.8 74.2,369.3 75.6,368.7 76.9,368.0 78.3,367.3 79.6,366.7 81.0,366.2 82.3,365.7 83.7,365.1 85.0,364.5 86.4,363.9 87.7,363.2 89.0,362.6 90.4,362.0 91.7,361.6 93.1,361.1 94.4,360.8 95.8,360.4 97.1,360.1 98.5,359.9 99.8,359.6 101.2,359.3 102.5,359.0 103.9,358.5 105.2,358.0 106.5,357.5 107.9,356.9 109.2,356.4 110.6,356.0 111.9,355.7 113.3,355.6 114.6,355.7 116.0,356.0 117.3,356.3 118.7,356.5 120.0,356.7 121.3,356.7 122.7,356.5 124.0,356.3 125.4,355.9 126.7,355.3 128.1,354.6 129.4,353.9 130.8,353.3 132.1,352.6 133.5,351.8 134.8,350.8 136.1,349.8 137.5,348.9 138.8,348.2 140.2,347.6 141.5,347.0 142.9,346.4 144.2,345.9 145.6,345.4 146.9,345.0 148.3,344.7 149.6,344.7 151.0,345.0 152.3,345.5 153.6,346.2 155.0,347.2 156.3,348.5 157.7,350.1 159.0,352.0 160.4,354.2 161.7,356.3 163.1,358.1 164.4,359.4 165.8,360.1 167.1,360.3 168.4,360.2 169.8,360.0 171.1,359.6 172.5,359.2 173.8,358.8 175.2,358.3 176.5,357.9 177.9,357.5 179.2,357.0 180.6,356.2 181.9,355.1 183.2,353.7 184.6,352.0 185.9,350.2 187.3,348.4 188.6,346.7 190.0,345.3 191.3,344.1 192.7,343.4 194.0,343.0 195.4,343.0 196.7,343.4 198.1,344.5 199.4,346.4 200.7,349.1 202.1,352.6 203.4,356.7 204.8,361.0 206.1,364.9 207.5,367.6 208.8,369.3 210.2,370.5 211.5,371.2 212.9,371.6 214.2,371.9 215.5,372.2 216.9,372.6 218.2,373.3 219.6,374.2 220.9,375.4 222.3,376.8 223.6,378.5 225.0,380.3 226.3,382.2 227.7,384.0 229.0,385.4 230.3,386.2 231.7,386.2 233.0,385.3 234.4,383.5 235.7,381.1 237.1,378.6 238.4,376.2 239.8,374.3 241.1,373.0 242.5,372.7 243.8,373.2 245.2,374.9 246.5,377.6 247.8,381.3 249.2,386.1 250.5,391.8 251.9,397.8 253.0,402.6Z"/>
<path d="M25.8,403.3 25.8,385.4 27.1,385.0 28.5,384.7 29.8,384.4 31.2,384.1 32.5,383.6 33.9,383.0 35.2,382.4 36.6,381.9 37.9,381.5 39.3,381.1 40.6,380.6 42.0,380.2 43.3,379.7 44.7,379.1 46.0,378.6 47.4,377.9 48.7,377.2 50.1,376.5 51.4,375.8 52.8,375.2 54.1,374.6 55.5,374.1 56.8,373.7 58.2,373.4 59.5,373.1 60.9,372.8 62.2,372.5 63.6,372.1 64.9,371.7 66.3,371.3 67.6,371.1 69.0,370.8 70.3,370.6 71.6,370.2 73.0,369.7 74.3,369.2 75.7,368.6 77.0,367.9 78.4,367.3 79.7,366.7 81.1,366.2 82.4,365.6 83.8,365.1 85.1,364.5 86.5,363.8 87.8,363.1 89.2,362.5 90.5,361.9 91.9,361.5 93.2,361.1 94.6,360.7 95.9,360.4 97.3,360.1 98.6,359.8 100.0,359.6 101.3,359.3 102.7,358.9 104.0,358.5 105.4,358.0 106.7,357.4 108.1,356.8 109.4,356.3 110.8,355.9 112.1,355.6 113.4,355.5 114.8,355.7 116.1,356.1 117.5,356.6 118.8,357.1 120.2,357.5 121.5,357.7 122.9,357.9 124.2,358.0 125.6,357.8 126.9,357.5 128.3,357.2 129.6,356.9 131.0,356.6 132.3,356.2 133.7,355.8 135.0,355.2 136.4,354.6 137.7,354.0 139.1,353.6 140.4,353.3 141.8,353.1 143.1,352.5 144.5,351.9 145.8,351.3 147.2,350.8 148.5,350.6 149.9,350.5 151.2,350.7 152.6,351.1 153.9,351.8 155.3,352.7 156.6,353.9 157.9,355.5 159.3,357.4 160.6,359.5 162.0,361.6 163.3,363.5 164.7,364.8 166.0,365.5 167.4,365.7 168.7,365.7 170.1,365.6 171.4,365.3 172.8,364.9 174.1,364.4 175.5,363.9 176.8,363.4 178.2,362.9 179.5,362.2 180.9,361.3 182.2,360.0 183.6,358.5 184.9,356.7 186.3,354.9 187.6,353.0 189.0,351.3 190.3,349.9 191.7,348.7 193.0,347.9 194.4,347.5 195.7,347.4 197.1,347.6 198.4,348.6 199.7,350.3 201.1,352.8 202.4,356.0 203.8,359.8 205.1,363.6 206.5,367.1 207.8,369.4 209.2,370.8 210.5,371.7 211.9,372.3 213.2,372.6 214.6,372.8 215.9,373.0 217.3,373.4 218.6,374.1 220.0,375.0 221.3,376.2 222.7,377.7 224.0,379.4 225.4,381.3 226.7,383.2 228.1,385.1 229.4,386.8 230.8,387.9 232.1,388.3 233.5,387.8 234.8,386.4 236.2,384.5 237.5,382.2 238.9,380.1 240.2,378.4 241.6,377.3 242.9,377.0 244.2,377.7 245.6,379.4 246.9,382.1 248.3,385.9 249.6,390.7 251.0,396.4 252.3,402.5 252.5,403.3Z"/>
<path d="M25.8,404.1 25.8,389.7 27.2,389.3 28.5,389.0 29.9,388.8 31.2,388.4 32.6,387.9 33.9,387.2 35.3,386.6 36.6,386.0 38.0,385.6 39.3,385.2 40.7,384.8 42.0,384.3 43.4,383.8 44.7,383.3 46.1,382.7 47.4,382.0 48.8,381.3 50.1,380.5 51.5,379.7 52.8,379.1 54.2,378.5 55.5,378.1 56.9,377.8 58.2,377.6 59.6,377.5 60.9,377.4 62.3,377.1 63.6,376.8 65.0,376.5 66.3,376.4 67.7,376.3 69.0,376.2 70.4,376.1 71.7,375.8 73.1,375.5 74.4,375.0 75.8,374.3 77.1,373.7 78.5,373.0 79.8,372.4 81.2,371.8 82.5,371.4 83.9,370.9 85.3,370.3 86.6,369.7 88.0,369.1 89.3,368.5 90.7,368.0 92.0,367.7 93.4,367.4 94.7,367.2 96.1,367.0 97.4,366.9 98.8,366.9 100.1,366.9 101.5,366.8 102.8,366.6 104.2,366.3 105.5,365.9 106.9,365.3 108.2,364.7 109.6,364.2 110.9,363.8 112.3,363.7 113.6,363.7 115.0,364.0 116.3,364.4 117.7,364.9 119.0,365.3 120.4,365.8 121.7,366.1 123.1,366.4 124.4,366.4 125.8,366.3 127.1,366.0 128.5,365.6 129.8,365.3 131.2,364.8 132.5,364.3 133.9,363.7 135.2,362.8 136.6,361.9 137.9,361.0 139.3,360.3 140.6,359.7 142.0,359.2 143.4,358.6 144.7,358.0 146.1,357.3 147.4,356.8 148.8,356.5 150.1,356.3 151.5,356.4 152.8,356.8 154.2,357.4 155.5,358.3 156.9,359.4 158.2,361.0 159.6,362.9 160.9,365.0 162.3,367.2 163.6,369.1 165.0,370.4 166.3,371.2 167.7,371.5 169.0,371.6 170.4,371.5 171.7,371.2 173.1,370.8 174.4,370.2 175.8,369.6 177.1,368.9 178.5,368.2 179.8,367.4 181.2,366.3 182.5,364.9 183.9,363.2 185.2,361.3 186.6,359.4 187.9,357.6 189.3,355.9 190.6,354.4 192.0,353.2 193.3,352.3 194.7,351.9 196.0,351.7 197.4,351.8 198.8,352.6 200.1,354.1 201.5,356.3 202.8,359.2 204.2,362.6 205.5,366.1 206.9,369.1 208.2,371.0 209.6,372.1 210.9,372.8 212.3,373.3 213.6,373.5 215.0,373.7 216.3,373.8 217.7,374.2 219.0,374.9 220.4,375.8 221.7,377.0 223.1,378.5 224.4,380.2 225.8,382.1 227.1,384.2 228.5,386.1 229.8,387.9 231.2,389.2 232.5,389.9 233.9,389.7 235.2,388.7 236.6,387.1 237.9,385.1 239.3,383.2 240.6,381.6 242.0,380.6 243.3,380.5 244.7,381.2 246.0,382.9 247.4,385.7 248.7,389.5 250.1,394.4 251.4,400.1 252.3,404.1Z"/>
<path d="M25.8,404.8 25.8,389.7 27.2,389.3 28.5,389.0 29.9,388.7 31.2,388.4 32.6,387.9 33.9,387.2 35.3,386.5 36.6,386.0 38.0,385.6 39.3,385.2 40.7,384.7 42.0,384.3 43.4,383.8 44.8,383.3 46.1,382.7 47.5,382.0 48.8,381.2 50.2,380.4 51.5,379.7 52.9,379.1 54.2,378.5 55.6,378.1 56.9,377.8 58.3,377.6 59.6,377.5 61.0,377.3 62.4,377.1 63.7,376.8 65.1,376.5 66.4,376.3 67.8,376.2 69.1,376.2 70.5,376.0 71.8,375.8 73.2,375.4 74.5,374.9 75.9,374.3 77.2,373.6 78.6,372.9 80.0,372.3 81.3,371.8 82.7,371.3 84.0,370.8 85.4,370.3 86.7,369.6 88.1,369.0 89.4,368.4 90.8,367.9 92.1,367.6 93.5,367.3 94.8,367.1 96.2,367.0 97.6,366.9 98.9,366.9 100.3,366.8 101.6,366.7 103.0,366.5 104.3,366.2 105.7,365.8 107.0,365.2 108.4,364.6 109.7,364.1 111.1,363.8 112.4,363.6 113.8,363.7 115.2,364.0 116.5,364.6 117.9,365.3 119.2,366.0 120.6,366.8 121.9,367.4 123.3,367.9 124.6,368.3 126.0,368.5 127.3,368.5 128.7,368.5 130.1,368.5 131.4,368.4 132.8,368.2 134.1,367.9 135.5,367.4 136.8,366.8 138.2,366.3 139.5,365.9 140.9,365.6 142.2,365.4 143.6,364.8 144.9,364.2 146.3,363.5 147.7,362.9 149.0,362.5 150.4,362.3 151.7,362.4 153.1,362.6 154.4,363.2 155.8,364.0 157.1,365.1 158.5,366.6 159.8,368.5 161.2,370.7 162.5,372.9 163.9,374.8 165.3,376.1 166.6,376.9 168.0,377.2 169.3,377.3 170.7,377.2 172.0,376.9 173.4,376.4 174.7,375.6 176.1,374.9 177.4,374.1 178.8,373.2 180.1,372.1 181.5,370.9 182.9,369.3 184.2,367.5 185.6,365.6 186.9,363.7 188.3,361.9 189.6,360.2 191.0,358.7 192.3,357.5 193.7,356.6 195.0,356.1 196.4,355.8 197.7,355.8 199.1,356.4 200.5,357.7 201.8,359.6 203.2,362.3 204.5,365.3 205.9,368.4 207.2,371.0 208.6,372.5 209.9,373.4 211.3,373.9 212.6,374.2 214.0,374.4 215.3,374.5 216.7,374.7 218.1,375.0 219.4,375.7 220.8,376.6 222.1,377.9 223.5,379.3 224.8,381.1 226.2,383.0 227.5,385.0 228.9,387.1 230.2,388.9 231.6,390.4 232.9,391.2 234.3,391.2 235.7,390.4 237.0,388.9 238.4,387.1 239.7,385.3 241.1,383.9 242.4,383.0 243.8,382.8 245.1,383.6 246.5,385.4 247.8,388.2 249.2,392.0 250.5,396.9 251.9,402.7 252.4,404.8Z"/>
<path d="M25.8,405.6 25.8,393.5 27.2,393.1 28.5,392.9 29.9,392.7 31.2,392.4 32.6,391.9 33.9,391.1 35.3,390.4 36.7,389.9 38.0,389.5 39.4,389.1 40.7,388.8 42.1,388.3 43.4,387.9 44.8,387.4 46.1,386.8 47.5,386.1 48.9,385.3 50.2,384.5 51.6,383.7 52.9,383.1 54.3,382.6 55.6,382.3 57.0,382.2 58.4,382.2 59.7,382.3 61.1,382.4 62.4,382.3 63.8,382.2 65.1,382.1 66.5,382.2 67.9,382.3 69.2,382.5 70.6,382.6 71.9,382.6 73.3,382.3 74.6,381.9 76.0,381.3 77.4,380.6 78.7,379.9 80.1,379.2 81.4,378.8 82.8,378.4 84.1,378.0 85.5,377.5 86.8,376.9 88.2,376.3 89.6,375.8 90.9,375.4 92.3,375.3 93.6,375.2 95.0,375.2 96.3,375.2 97.7,375.4 99.1,375.6 100.4,375.8 101.8,376.0 103.1,376.0 104.5,375.8 105.8,375.4 107.2,374.8 108.6,374.1 109.9,373.6 111.3,373.3 112.6,373.2 114.0,373.4 115.3,373.8 116.7,374.3 118.1,374.9 119.4,375.6 120.8,376.4 122.1,377.0 123.5,377.5 124.8,377.8 126.2,377.9 127.5,377.7 128.9,377.6 130.3,377.4 131.6,377.1 133.0,376.7 134.3,376.1 135.7,375.2 137.0,374.3 138.4,373.4 139.8,372.7 141.1,372.2 142.5,371.6 143.8,371.1 145.2,370.4 146.5,369.7 147.9,369.1 149.3,368.6 150.6,368.3 152.0,368.3 153.3,368.5 154.7,369.0 156.0,369.7 157.4,370.8 158.8,372.2 160.1,374.1 161.5,376.2 162.8,378.3 164.2,380.1 165.5,381.4 166.9,382.1 168.2,382.4 169.6,382.4 171.0,382.2 172.3,381.9 173.7,381.2 175.0,380.4 176.4,379.4 177.7,378.4 179.1,377.4 180.5,376.2 181.8,374.8 183.2,373.2 184.5,371.4 185.9,369.6 187.2,367.7 188.6,366.0 190.0,364.3 191.3,362.9 192.7,361.7 194.0,360.8 195.4,360.1 196.7,359.8 198.1,359.6 199.4,360.0 200.8,361.0 202.2,362.8 203.5,365.1 204.9,367.7 206.2,370.4 207.6,372.6 208.9,373.9 210.3,374.6 211.7,375.0 213.0,375.2 214.4,375.3 215.7,375.3 217.1,375.5 218.4,375.9 219.8,376.5 221.2,377.4 222.5,378.7 223.9,380.2 225.2,381.9 226.6,383.8 227.9,385.9 229.3,388.0 230.7,389.9 232.0,391.4 233.4,392.3 234.7,392.4 236.1,391.6 237.4,390.3 238.8,388.6 240.1,386.9 241.5,385.4 242.9,384.6 244.2,384.5 245.6,385.3 246.9,387.1 248.3,389.9 249.6,393.8 251.0,398.7 252.4,404.4 252.6,405.6Z"/>
<path d="M25.8,406.3 25.8,393.5 27.2,393.1 28.5,392.9 29.9,392.7 31.2,392.4 32.6,391.8 34.0,391.1 35.3,390.4 36.7,389.9 38.0,389.5 39.4,389.1 40.8,388.7 42.1,388.3 43.5,387.9 44.8,387.4 46.2,386.8 47.5,386.1 48.9,385.3 50.3,384.5 51.6,383.7 53.0,383.1 54.3,382.6 55.7,382.3 57.1,382.1 58.4,382.2 59.8,382.3 61.1,382.3 62.5,382.3 63.9,382.2 65.2,382.1 66.6,382.1 67.9,382.3 69.3,382.5 70.7,382.6 72.0,382.5 73.4,382.3 74.7,381.8 76.1,381.2 77.5,380.5 78.8,379.8 80.2,379.2 81.5,378.7 82.9,378.3 84.3,377.9 85.6,377.5 87.0,376.9 88.3,376.3 89.7,375.8 91.0,375.4 92.4,375.2 93.8,375.1 95.1,375.1 96.5,375.2 97.8,375.3 99.2,375.6 100.6,375.8 101.9,375.9 103.3,375.9 104.6,375.8 106.0,375.4 107.4,374.8 108.7,374.1 110.1,373.5 111.4,373.2 112.8,373.2 114.2,373.4 115.5,373.8 116.9,374.6 118.2,375.4 119.6,376.4 121.0,377.4 122.3,378.4 123.7,379.1 125.0,379.7 126.4,380.1 127.8,380.3 129.1,380.5 130.5,380.6 131.8,380.6 133.2,380.6 134.5,380.3 135.9,379.8 137.3,379.2 138.6,378.6 140.0,378.3 141.3,378.1 142.7,377.9 144.1,377.3 145.4,376.7 146.8,376.0 148.1,375.2 149.5,374.7 150.9,374.3 152.2,374.3 153.6,374.4 154.9,374.8 156.3,375.5 157.7,376.4 159.0,377.7 160.4,379.5 161.7,381.5 163.1,383.4 164.5,385.0 165.8,386.1 167.2,386.6 168.5,386.8 169.9,386.7 171.3,386.4 172.6,385.9 174.0,385.1 175.3,384.1 176.7,383.0 178.0,381.9 179.4,380.7 180.8,379.5 182.1,378.1 183.5,376.5 184.8,374.8 186.2,373.0 187.6,371.4 188.9,369.7 190.3,368.2 191.6,366.8 193.0,365.6 194.4,364.7 195.7,364.0 197.1,363.5 198.4,363.2 199.8,363.4 201.2,364.3 202.5,365.7 203.9,367.7 205.2,370.0 206.6,372.3 208.0,374.2 209.3,375.2 210.7,375.7 212.0,376.0 213.4,376.1 214.8,376.1 216.1,376.2 217.5,376.3 218.8,376.7 220.2,377.3 221.5,378.3 222.9,379.5 224.3,381.0 225.6,382.7 227.0,384.7 228.3,386.8 229.7,388.9 231.1,390.8 232.4,392.3 233.8,393.3 235.1,393.4 236.5,392.8 237.9,391.5 239.2,389.8 240.6,388.1 241.9,386.8 243.3,385.9 244.7,385.8 246.0,386.7 247.4,388.5 248.7,391.3 250.1,395.2 251.5,400.1 252.8,405.9 252.9,406.3Z"/>
<path d="M25.8,407.0 25.8,397.6 27.2,397.2 28.5,397.1 29.9,397.1 31.2,396.9 32.6,396.3 34.0,395.6 35.3,394.8 36.7,394.3 38.1,394.0 39.4,393.7 40.8,393.4 42.1,393.1 43.5,392.7 44.9,392.3 46.2,391.8 47.6,391.1 49.0,390.3 50.3,389.4 51.7,388.6 53.0,388.0 54.4,387.6 55.8,387.4 57.1,387.5 58.5,387.9 59.9,388.3 61.2,388.6 62.6,388.8 63.9,388.9 65.3,389.1 66.7,389.4 68.0,389.9 69.4,390.4 70.7,390.8 72.1,390.9 73.5,390.8 74.8,390.5 76.2,389.9 77.6,389.1 78.9,388.4 80.3,387.7 81.6,387.3 83.0,387.0 84.4,386.7 85.7,386.3 87.1,385.7 88.5,385.1 89.8,384.6 91.2,384.3 92.5,384.3 93.9,384.4 95.3,384.5 96.6,384.8 98.0,385.2 99.4,385.7 100.7,386.2 102.1,386.5 103.4,386.7 104.8,386.6 106.2,386.2 107.5,385.5 108.9,384.6 110.2,383.9 111.6,383.5 113.0,383.5 114.3,383.8 115.7,384.3 117.1,384.9 118.4,385.5 119.8,386.4 121.1,387.4 122.5,388.2 123.9,388.9 125.2,389.3 126.6,389.5 128.0,389.4 129.3,389.4 130.7,389.3 132.0,389.1 133.4,388.7 134.8,388.2 136.1,387.4 137.5,386.4 138.9,385.6 140.2,385.0 141.6,384.5 142.9,384.1 144.3,383.6 145.7,383.0 147.0,382.2 148.4,381.4 149.8,380.8 151.1,380.4 152.5,380.3 153.8,380.4 155.2,380.6 156.6,381.2 157.9,382.0 159.3,383.1 160.6,384.7 162.0,386.4 163.4,388.1 164.7,389.3 166.1,390.0 167.5,390.3 168.8,390.2 170.2,390.0 171.5,389.7 172.9,389.1 174.3,388.2 175.6,387.1 177.0,385.8 178.4,384.6 179.7,383.3 181.1,382.1 182.4,380.7 183.8,379.2 185.2,377.7 186.5,376.2 187.9,374.7 189.3,373.2 190.6,371.8 192.0,370.5 193.3,369.4 194.7,368.4 196.1,367.7 197.4,367.1 198.8,366.7 200.1,366.7 201.5,367.3 202.9,368.5 204.2,370.2 205.6,372.2 207.0,374.2 208.3,375.7 209.7,376.5 211.0,376.9 212.4,377.0 213.8,377.1 215.1,377.1 216.5,377.1 217.9,377.2 219.2,377.6 220.6,378.3 221.9,379.2 223.3,380.4 224.7,381.9 226.0,383.7 227.4,385.6 228.8,387.7 230.1,389.8 231.5,391.8 232.8,393.4 234.2,394.4 235.6,394.6 236.9,394.1 238.3,392.9 239.6,391.3 241.0,389.7 242.4,388.3 243.7,387.6 245.1,387.5 246.5,388.3 247.8,390.2 249.2,393.0 250.5,396.9 251.9,401.9 253.1,407.0Z"/>
<path d="M25.8,407.8 25.8,397.6 27.2,397.2 28.5,397.1 29.9,397.1 31.3,396.9 32.6,396.3 34.0,395.5 35.4,394.8 36.7,394.3 38.1,394.0 39.4,393.7 40.8,393.4 42.2,393.1 43.5,392.7 44.9,392.3 46.3,391.8 47.6,391.1 49.0,390.2 50.4,389.3 51.7,388.6 53.1,388.0 54.5,387.6 55.8,387.4 57.2,387.5 58.6,387.8 59.9,388.2 61.3,388.6 62.7,388.8 64.0,388.9 65.4,389.0 66.7,389.4 68.1,389.9 69.5,390.4 70.8,390.8 72.2,390.9 73.6,390.8 74.9,390.5 76.3,389.8 77.7,389.1 79.0,388.3 80.4,387.7 81.8,387.2 83.1,386.9 84.5,386.6 85.9,386.2 87.2,385.6 88.6,385.0 89.9,384.6 91.3,384.3 92.7,384.2 94.0,384.3 95.4,384.5 96.8,384.8 98.1,385.2 99.5,385.7 100.9,386.2 102.2,386.5 103.6,386.7 105.0,386.6 106.3,386.2 107.7,385.4 109.1,384.6 110.4,383.9 111.8,383.5 113.1,383.5 114.5,383.8 115.9,384.3 117.2,385.1 118.6,386.0 120.0,387.2 121.3,388.4 122.7,389.5 124.1,390.4 125.4,391.1 126.8,391.6 128.2,391.8 129.5,392.1 130.9,392.3 132.3,392.4 133.6,392.4 135.0,392.2 136.4,391.7 137.7,391.1 139.1,390.6 140.4,390.4 141.8,390.3 143.2,390.3 144.5,389.8 145.9,389.3 147.3,388.5 148.6,387.6 150.0,386.9 151.4,386.5 152.7,386.3 154.1,386.3 155.5,386.5 156.8,386.9 158.2,387.5 159.6,388.4 160.9,389.6 162.3,390.9 163.6,392.1 165.0,392.8 166.4,393.1 167.7,393.1 169.1,392.8 170.5,392.5 171.8,392.1 173.2,391.5 174.6,390.5 175.9,389.3 177.3,388.0 178.7,386.6 180.0,385.4 181.4,384.1 182.8,382.8 184.1,381.5 185.5,380.2 186.8,379.0 188.2,377.8 189.6,376.5 190.9,375.2 192.3,374.0 193.7,372.9 195.0,371.9 196.4,371.1 197.8,370.5 199.1,370.0 200.5,369.8 201.9,370.2 203.2,371.1 204.6,372.5 206.0,374.2 207.3,375.9 208.7,377.2 210.1,377.8 211.4,378.0 212.8,378.1 214.1,378.1 215.5,378.1 216.9,378.1 218.2,378.2 219.6,378.6 221.0,379.2 222.3,380.2 223.7,381.4 225.1,382.9 226.4,384.7 227.8,386.6 229.2,388.8 230.5,390.9 231.9,393.0 233.3,394.6 234.6,395.8 236.0,396.2 237.3,395.8 238.7,394.8 240.1,393.4 241.4,391.9 242.8,390.6 244.2,389.9 245.5,389.9 246.9,390.8 248.3,392.7 249.6,395.5 251.0,399.5 252.4,404.4 253.1,407.8Z"/>
<path d="M25.8,408.5 25.8,402.6 27.2,402.3 28.5,402.4 29.9,402.6 31.3,402.5 32.6,402.0 34.0,401.2 35.4,400.4 36.7,399.9 38.1,399.7 39.5,399.6 40.8,399.4 42.2,399.2 43.6,398.9 44.9,398.5 46.3,398.1 47.7,397.4 49.0,396.5 50.4,395.5 51.8,394.7 53.2,394.1 54.5,393.8 55.9,393.8 57.3,394.1 58.6,394.8 60.0,395.6 61.4,396.2 62.7,396.7 64.1,397.0 65.5,397.4 66.8,398.1 68.2,398.9 69.6,399.8 70.9,400.5 72.3,400.8 73.7,400.9 75.0,400.5 76.4,399.8 77.8,399.0 79.1,398.1 80.5,397.4 81.9,396.9 83.2,396.6 84.6,396.3 86.0,395.9 87.3,395.2 88.7,394.6 90.1,394.0 91.4,393.7 92.8,393.8 94.2,394.0 95.5,394.3 96.9,394.7 98.3,395.4 99.6,396.1 101.0,396.8 102.4,397.3 103.8,397.6 105.1,397.5 106.5,396.9 107.9,396.0 109.2,394.8 110.6,393.8 112.0,393.3 113.3,393.2 114.7,393.6 116.1,394.0 117.4,394.6 118.8,395.2 120.2,396.2 121.5,397.4 122.9,398.4 124.3,399.2 125.6,399.7 127.0,399.9 128.4,400.0 129.7,400.0 131.1,400.1 132.5,400.1 133.8,399.9 135.2,399.5 136.6,398.8 137.9,398.0 139.3,397.3 140.7,396.9 142.0,396.6 143.4,396.4 144.8,396.1 146.1,395.5 147.5,394.7 148.9,393.8 150.2,393.1 151.6,392.6 153.0,392.3 154.4,392.2 155.7,392.3 157.1,392.5 158.5,392.9 159.8,393.4 161.2,394.2 162.6,395.0 163.9,395.5 165.3,395.7 166.7,395.5 168.0,395.2 169.4,394.8 170.8,394.4 172.1,394.0 173.5,393.4 174.9,392.4 176.2,391.1 177.6,389.7 179.0,388.4 180.3,387.1 181.7,385.9 183.1,384.7 184.4,383.6 185.8,382.6 187.2,381.6 188.5,380.6 189.9,379.6 191.3,378.5 192.6,377.3 194.0,376.2 195.4,375.2 196.7,374.4 198.1,373.7 199.5,373.1 200.8,372.8 202.2,372.9 203.6,373.6 204.9,374.8 206.3,376.2 207.7,377.6 209.1,378.6 210.4,379.1 211.8,379.2 213.2,379.2 214.5,379.2 215.9,379.2 217.3,379.2 218.6,379.2 220.0,379.6 221.4,380.3 222.7,381.2 224.1,382.4 225.5,383.9 226.8,385.7 228.2,387.7 229.6,389.9 230.9,392.1 232.3,394.2 233.7,396.1 235.0,397.4 236.4,398.1 237.8,398.0 239.1,397.3 240.5,396.1 241.9,394.8 243.2,393.8 244.6,393.2 246.0,393.3 247.3,394.3 248.7,396.2 250.1,399.1 251.4,403.1 252.8,408.1 252.9,408.5Z"/>
<path d="M25.8,409.3 25.8,405.7 27.2,405.4 28.5,405.6 29.9,405.9 31.3,405.9 32.7,405.4 34.0,404.5 35.4,403.7 36.8,403.2 38.1,403.1 39.5,403.0 40.9,402.9 42.2,402.7 43.6,402.5 45.0,402.2 46.4,401.7 47.7,401.0 49.1,400.0 50.5,399.0 51.8,398.1 53.2,397.6 54.6,397.3 55.9,397.3 57.3,397.8 58.7,398.6 60.1,399.6 61.4,400.4 62.8,401.0 64.2,401.5 65.5,402.0 66.9,402.8 68.3,403.8 69.6,404.8 71.0,405.7 72.4,406.1 73.8,406.2 75.1,405.9 76.5,405.1 77.9,404.1 79.2,403.1 80.6,402.3 82.0,401.7 83.4,401.4 84.7,401.2 86.1,400.7 87.5,399.9 88.8,399.2 90.2,398.6 91.6,398.3 92.9,398.3 94.3,398.6 95.7,398.9 97.1,399.4 98.4,400.1 99.8,401.0 101.2,401.8 102.5,402.4 103.9,402.7 105.3,402.6 106.6,401.9 108.0,400.7 109.4,399.3 110.8,398.2 112.1,397.5 113.5,397.4 114.9,397.7 116.2,398.2 117.6,398.7 119.0,399.4 120.3,400.4 121.7,401.7 123.1,402.9 124.5,403.7 125.8,404.2 127.2,404.5 128.6,404.6 129.9,404.8 131.3,405.0 132.7,405.1 134.1,405.0 135.4,404.8 136.8,404.2 138.2,403.5 139.5,403.0 140.9,402.7 142.3,402.6 143.6,402.5 145.0,402.3 146.4,401.9 147.8,401.0 149.1,400.1 150.5,399.3 151.9,398.7 153.2,398.3 154.6,398.1 156.0,398.1 157.3,398.1 158.7,398.1 160.1,398.2 161.5,398.4 162.8,398.5 164.2,398.4 165.6,398.0 166.9,397.5 168.3,396.9 169.7,396.4 171.1,396.1 172.4,395.8 173.8,395.2 175.2,394.2 176.5,392.9 177.9,391.5 179.3,390.1 180.6,388.9 182.0,387.7 183.4,386.7 184.8,385.7 186.1,384.9 187.5,384.1 188.9,383.4 190.2,382.5 191.6,381.5 193.0,380.4 194.3,379.4 195.7,378.4 197.1,377.5 198.5,376.7 199.8,375.9 201.2,375.5 202.6,375.5 203.9,376.0 205.3,376.9 206.7,378.0 208.0,379.2 209.4,380.0 210.8,380.3 212.2,380.3 213.5,380.3 214.9,380.2 216.3,380.2 217.6,380.2 219.0,380.2 220.4,380.6 221.8,381.3 223.1,382.2 224.5,383.4 225.9,385.0 227.2,386.7 228.6,388.8 230.0,391.0 231.3,393.3 232.7,395.5 234.1,397.5 235.5,399.2 236.8,400.2 238.2,400.5 239.6,400.2 240.9,399.4 242.3,398.5 243.7,397.7 245.0,397.3 246.4,397.6 247.8,398.6 249.2,400.6 250.5,403.6 251.9,407.6 252.3,409.3Z"/>
</g></g>
<g fill="url(#wg)" stroke="#000" stroke-opacity="0.85" stroke-width="0.55" stroke-linejoin="round">
<path d="M181.8,410.0 182.3,409.2 183.7,407.1 185.1,405.1 186.4,403.2 187.8,401.4 189.2,399.6 190.6,397.9 191.9,396.3 193.3,394.8 194.7,393.3 196.1,392.0 197.4,390.7 198.8,389.5 200.2,388.4 201.5,387.3 202.9,386.4 204.3,385.5 205.7,384.7 207.0,384.0 208.4,383.4 209.8,382.8 211.2,382.3 212.5,381.9 213.9,381.6 215.3,381.4 216.6,381.3 218.0,381.2 219.4,381.2 220.8,381.6 222.1,382.2 223.5,383.2 224.9,384.4 226.3,386.0 227.6,387.9 229.0,390.0 230.4,392.5 231.8,395.3 233.1,398.3 234.5,401.7 235.9,405.4 237.2,409.4 237.5,410.0Z"/>
<path d="M182.3,410.8 182.6,410.2 184.0,408.1 185.4,406.1 186.8,404.1 188.1,402.3 189.5,400.5 190.9,398.8 192.3,397.2 193.6,395.7 195.0,394.3 196.4,392.9 197.8,391.6 199.1,390.4 200.5,389.3 201.9,388.3 203.3,387.3 204.6,386.4 206.0,385.6 207.4,384.9 208.8,384.3 210.1,383.7 211.5,383.2 212.9,382.8 214.3,382.5 215.7,382.3 217.0,382.1 218.4,382.1 219.8,382.1 221.2,382.5 222.5,383.1 223.9,384.1 225.3,385.3 226.7,386.9 228.0,388.8 229.4,390.9 230.8,393.4 232.2,396.2 233.5,399.3 234.9,402.7 236.3,406.3 237.7,410.3 237.8,410.8Z"/>
<path d="M182.7,411.5 184.3,409.0 185.7,407.0 187.1,405.0 188.5,403.2 189.8,401.4 191.2,399.7 192.6,398.1 194.0,396.6 195.4,395.1 196.7,393.8 198.1,392.5 199.5,391.3 200.9,390.2 202.2,389.1 203.6,388.2 205.0,387.3 206.4,386.5 207.8,385.8 209.1,385.1 210.5,384.6 211.9,384.1 213.3,383.7 214.7,383.4 216.0,383.2 217.4,383.0 218.8,382.9 220.2,383.0 221.5,383.3 222.9,384.0 224.3,384.9 225.7,386.2 227.1,387.8 228.4,389.6 229.8,391.8 231.2,394.3 232.6,397.1 233.9,400.2 235.3,403.6 236.7,407.3 238.1,411.3 238.2,411.5Z"/>
<path d="M183.1,412.3 184.6,409.9 186.0,407.9 187.4,405.9 188.8,404.1 190.2,402.3 191.5,400.6 192.9,399.0 194.3,397.5 195.7,396.0 197.1,394.6 198.5,393.3 199.8,392.1 201.2,391.0 202.6,390.0 204.0,389.0 205.4,388.1 206.7,387.3 208.1,386.6 209.5,386.0 210.9,385.4 212.3,384.9 213.6,384.5 215.0,384.2 216.4,384.0 217.8,383.8 219.2,383.8 220.5,383.8 221.9,384.2 223.3,384.8 224.7,385.8 226.1,387.0 227.5,388.6 228.8,390.5 230.2,392.7 231.6,395.1 233.0,397.9 234.4,401.0 235.7,404.4 237.1,408.1 238.5,412.1 238.5,412.3Z"/>
<path d="M183.5,413.0 185.0,410.8 186.3,408.7 187.7,406.8 189.1,404.9 190.5,403.2 191.9,401.5 193.3,399.8 194.6,398.3 196.0,396.9 197.4,395.5 198.8,394.2 200.2,393.0 201.6,391.9 202.9,390.8 204.3,389.8 205.7,389.0 207.1,388.2 208.5,387.4 209.9,386.8 211.2,386.2 212.6,385.8 214.0,385.4 215.4,385.1 216.8,384.8 218.2,384.7 219.6,384.6 220.9,384.7 222.3,385.0 223.7,385.7 225.1,386.6 226.5,387.9 227.9,389.4 229.2,391.3 230.6,393.5 232.0,396.0 233.4,398.8 234.8,401.9 236.2,405.3 237.5,409.0 238.9,413.0Z"/>
<path d="M183.9,413.8 185.3,411.6 186.7,409.6 188.0,407.7 189.4,405.8 190.8,404.0 192.2,402.3 193.6,400.7 195.0,399.2 196.4,397.7 197.7,396.3 199.1,395.0 200.5,393.8 201.9,392.7 203.3,391.7 204.7,390.7 206.1,389.8 207.5,389.0 208.8,388.3 210.2,387.6 211.6,387.1 213.0,386.6 214.4,386.2 215.8,385.9 217.2,385.6 218.5,385.5 219.9,385.4 221.3,385.5 222.7,385.8 224.1,386.5 225.5,387.4 226.9,388.7 228.3,390.3 229.6,392.2 231.0,394.4 232.4,396.8 233.8,399.6 235.2,402.8 236.6,406.2 238.0,409.9 239.3,413.8Z"/>
<path d="M184.3,414.5 185.6,412.5 187.0,410.5 188.4,408.6 189.7,406.7 191.1,404.9 192.5,403.2 193.9,401.6 195.3,400.0 196.7,398.6 198.1,397.2 199.5,395.9 200.9,394.7 202.3,393.6 203.6,392.5 205.0,391.5 206.4,390.7 207.8,389.8 209.2,389.1 210.6,388.5 212.0,387.9 213.4,387.4 214.8,387.0 216.1,386.7 217.5,386.5 218.9,386.3 220.3,386.3 221.7,386.3 223.1,386.7 224.5,387.3 225.9,388.3 227.3,389.6 228.7,391.1 230.0,393.0 231.4,395.2 232.8,397.7 234.2,400.5 235.6,403.6 237.0,407.1 238.4,410.8 239.7,414.5Z"/>
<path d="M184.7,415.3 185.9,413.5 187.3,411.4 188.7,409.5 190.1,407.6 191.5,405.8 192.9,404.1 194.2,402.5 195.6,400.9 197.0,399.5 198.4,398.1 199.8,396.8 201.2,395.6 202.6,394.4 204.0,393.4 205.4,392.4 206.8,391.5 208.2,390.7 209.6,390.0 211.0,389.4 212.3,388.8 213.7,388.3 215.1,387.9 216.5,387.6 217.9,387.4 219.3,387.2 220.7,387.1 222.1,387.2 223.5,387.6 224.9,388.2 226.3,389.2 227.7,390.4 229.0,392.0 230.4,393.9 231.8,396.1 233.2,398.6 234.6,401.4 236.0,404.5 237.4,408.0 238.8,411.7 240.0,415.3Z"/>
<path d="M185.2,416.0 186.2,414.4 187.6,412.4 189.0,410.4 190.4,408.6 191.8,406.8 193.2,405.1 194.6,403.4 196.0,401.9 197.4,400.4 198.8,399.0 200.2,397.7 201.6,396.5 202.9,395.4 204.3,394.3 205.7,393.4 207.1,392.5 208.5,391.7 209.9,390.9 211.3,390.3 212.7,389.7 214.1,389.2 215.5,388.8 216.9,388.5 218.3,388.3 219.7,388.1 221.1,388.1 222.5,388.1 223.9,388.5 225.3,389.1 226.7,390.1 228.1,391.4 229.4,393.0 230.8,394.8 232.2,397.0 233.6,399.6 235.0,402.4 236.4,405.5 237.8,408.9 239.2,412.7 240.4,416.0Z"/>
<path d="M185.7,416.7 186.5,415.5 187.9,413.4 189.3,411.5 190.7,409.6 192.1,407.8 193.5,406.1 194.9,404.4 196.3,402.9 197.7,401.4 199.1,400.0 200.5,398.7 201.9,397.5 203.3,396.4 204.7,395.3 206.1,394.3 207.5,393.4 208.9,392.6 210.3,391.9 211.7,391.3 213.1,390.7 214.5,390.2 215.9,389.8 217.3,389.5 218.7,389.3 220.1,389.1 221.5,389.0 222.9,389.1 224.3,389.4 225.7,390.1 227.1,391.1 228.4,392.3 229.8,393.9 231.2,395.8 232.6,398.0 234.0,400.5 235.4,403.4 236.8,406.5 238.2,409.9 239.6,413.7 240.7,416.7Z"/>
<path d="M186.3,417.5 186.8,416.7 188.2,414.6 189.6,412.7 191.0,410.8 192.4,409.0 193.8,407.3 195.2,405.6 196.6,404.1 198.0,402.6 199.4,401.2 200.8,399.9 202.2,398.7 203.6,397.6 205.0,396.5 206.4,395.5 207.8,394.6 209.2,393.8 210.6,393.1 212.0,392.4 213.4,391.9 214.8,391.4 216.2,391.0 217.6,390.7 219.0,390.4 220.4,390.3 221.8,390.2 223.2,390.3 224.6,390.6 226.0,391.3 227.4,392.3 228.8,393.5 230.2,395.1 231.6,397.0 233.0,399.2 234.4,401.7 235.8,404.6 237.2,407.7 238.6,411.2 240.0,414.9 240.9,417.5Z"/>
<path d="M187.1,418.2 188.6,416.1 190.0,414.1 191.4,412.3 192.8,410.5 194.2,408.7 195.6,407.1 197.0,405.5 198.4,404.1 199.8,402.7 201.2,401.4 202.6,400.1 204.0,399.0 205.4,397.9 206.8,397.0 208.2,396.1 209.6,395.2 211.0,394.5 212.4,393.9 213.8,393.3 215.2,392.8 216.6,392.4 218.0,392.1 219.4,391.9 220.8,391.7 222.2,391.6 223.6,391.7 225.0,392.0 226.4,392.7 227.8,393.7 229.2,395.0 230.6,396.6 232.0,398.5 233.5,400.7 234.9,403.2 236.3,406.0 237.7,409.2 239.1,412.6 240.5,416.4 241.1,418.2Z"/>
<path d="M188.0,419.0 188.9,417.8 190.3,415.8 191.7,413.9 193.1,412.1 194.5,410.4 195.9,408.7 197.3,407.2 198.7,405.7 200.1,404.3 201.5,403.0 202.9,401.8 204.3,400.6 205.7,399.5 207.1,398.6 208.6,397.7 210.0,396.9 211.4,396.1 212.8,395.5 214.2,394.9 215.6,394.4 217.0,394.0 218.4,393.7 219.8,393.5 221.2,393.3 222.6,393.2 224.0,393.3 225.4,393.6 226.8,394.3 228.2,395.3 229.6,396.6 231.0,398.2 232.4,400.1 233.9,402.3 235.3,404.8 236.7,407.7 238.1,410.8 239.5,414.3 240.9,418.0 241.2,419.0Z"/>
<path d="M189.0,419.7 190.6,417.5 192.0,415.6 193.4,413.8 194.8,412.1 196.2,410.4 197.6,408.9 199.0,407.4 200.5,406.0 201.9,404.7 203.3,403.5 204.7,402.3 206.1,401.3 207.5,400.3 208.9,399.4 210.3,398.6 211.7,397.8 213.1,397.2 214.5,396.6 215.9,396.1 217.4,395.7 218.8,395.4 220.2,395.2 221.6,395.0 223.0,394.9 224.4,395.0 225.8,395.3 227.2,396.0 228.6,397.0 230.0,398.3 231.4,399.9 232.8,401.8 234.3,404.0 235.7,406.5 237.1,409.4 238.5,412.5 239.9,416.0 241.3,419.7Z"/>
<path d="M190.1,420.5 190.9,419.3 192.3,417.4 193.7,415.6 195.1,413.8 196.6,412.2 198.0,410.6 199.4,409.1 200.8,407.7 202.2,406.4 203.6,405.2 205.0,404.0 206.4,403.0 207.8,402.0 209.3,401.1 210.7,400.3 212.1,399.5 213.5,398.9 214.9,398.3 216.3,397.8 217.7,397.4 219.1,397.1 220.5,396.9 222.0,396.7 223.4,396.6 224.8,396.7 226.2,397.1 227.6,397.7 229.0,398.7 230.4,400.0 231.8,401.6 233.3,403.5 234.7,405.7 236.1,408.3 237.5,411.1 238.9,414.3 240.3,417.8 241.3,420.5Z"/>
<path d="M191.1,421.2 192.6,419.1 194.1,417.3 195.5,415.5 196.9,413.9 198.3,412.3 199.7,410.8 201.1,409.4 202.5,408.1 204.0,406.9 205.4,405.7 206.8,404.7 208.2,403.7 209.6,402.8 211.0,401.9 212.4,401.2 213.9,400.6 215.3,400.0 216.7,399.5 218.1,399.1 219.5,398.8 220.9,398.5 222.3,398.4 223.8,398.3 225.2,398.4 226.6,398.7 228.0,399.4 229.4,400.4 230.8,401.7 232.2,403.3 233.7,405.2 235.1,407.4 236.5,409.9 237.9,412.8 239.3,416.0 240.7,419.5 241.4,421.2Z"/>
<path d="M192.0,422.0 193.0,420.7 194.4,418.8 195.8,417.1 197.2,415.4 198.6,413.9 200.1,412.4 201.5,411.0 202.9,409.7 204.3,408.4 205.7,407.3 207.1,406.2 208.6,405.2 210.0,404.3 211.4,403.5 212.8,402.7 214.2,402.1 215.6,401.5 217.1,401.0 218.5,400.6 219.9,400.3 221.3,400.1 222.7,399.9 224.1,399.8 225.6,399.9 227.0,400.3 228.4,400.9 229.8,401.9 231.2,403.2 232.6,404.8 234.1,406.7 235.5,409.0 236.9,411.5 238.3,414.4 239.7,417.5 241.1,421.0 241.5,422.0Z"/>
<path d="M192.9,422.7 193.3,422.2 194.7,420.4 196.1,418.6 197.5,417.0 199.0,415.4 200.4,413.9 201.8,412.5 203.2,411.2 204.6,409.9 206.1,408.8 207.5,407.7 208.9,406.7 210.3,405.8 211.7,405.0 213.2,404.3 214.6,403.6 216.0,403.0 217.4,402.5 218.8,402.1 220.3,401.8 221.7,401.6 223.1,401.4 224.5,401.3 225.9,401.4 227.4,401.8 228.8,402.4 230.2,403.4 231.6,404.7 233.0,406.3 234.5,408.2 235.9,410.5 237.3,413.0 238.7,415.9 240.1,419.1 241.6,422.6 241.6,422.7Z"/>
<path d="M193.8,423.5 195.0,421.9 196.5,420.2 197.9,418.5 199.3,416.9 200.7,415.4 202.1,414.0 203.6,412.7 205.0,411.5 206.4,410.3 207.8,409.2 209.3,408.2 210.7,407.3 212.1,406.5 213.5,405.8 214.9,405.1 216.4,404.5 217.8,404.0 219.2,403.6 220.6,403.3 222.1,403.1 223.5,402.9 224.9,402.8 226.3,402.9 227.7,403.3 229.2,403.9 230.6,404.9 232.0,406.2 233.4,407.8 234.9,409.8 236.3,412.0 237.7,414.6 239.1,417.4 240.5,420.6 241.7,423.5Z"/>
<path d="M194.8,424.2 195.4,423.4 196.8,421.7 198.2,420.0 199.6,418.4 201.1,416.9 202.5,415.5 203.9,414.2 205.3,413.0 206.8,411.8 208.2,410.7 209.6,409.7 211.0,408.8 212.5,408.0 213.9,407.3 215.3,406.6 216.7,406.0 218.2,405.5 219.6,405.1 221.0,404.8 222.4,404.6 223.9,404.4 225.3,404.3 226.7,404.4 228.1,404.7 229.6,405.4 231.0,406.4 232.4,407.7 233.8,409.3 235.3,411.3 236.7,413.5 238.1,416.1 239.5,418.9 241.0,422.1 241.8,424.2Z"/>
<path d="M195.7,425.0 197.1,423.2 198.5,421.5 200.0,419.9 201.4,418.4 202.8,417.0 204.3,415.7 205.7,414.5 207.1,413.3 208.5,412.2 210.0,411.2 211.4,410.3 212.8,409.5 214.2,408.7 215.7,408.1 217.1,407.5 218.5,407.0 220.0,406.6 221.4,406.3 222.8,406.0 224.2,405.9 225.7,405.8 227.1,405.9 228.5,406.2 229.9,406.9 231.4,407.9 232.8,409.2 234.2,410.8 235.7,412.7 237.1,415.0 238.5,417.6 239.9,420.4 241.4,423.6 241.9,425.0Z"/>
<path d="M196.6,425.7 197.4,424.7 198.9,423.0 200.3,421.4 201.7,419.9 203.2,418.5 204.6,417.2 206.0,415.9 207.5,414.8 208.9,413.7 210.3,412.7 211.7,411.8 213.2,410.9 214.6,410.2 216.0,409.5 217.5,409.0 218.9,408.5 220.3,408.1 221.8,407.7 223.2,407.5 224.6,407.3 226.0,407.3 227.5,407.3 228.9,407.7 230.3,408.4 231.8,409.3 233.2,410.6 234.6,412.3 236.1,414.2 237.5,416.5 238.9,419.0 240.4,421.9 241.8,425.1 242.0,425.7Z"/>
<path d="M197.5,426.5 199.2,424.5 200.6,422.9 202.1,421.4 203.5,420.0 204.9,418.6 206.4,417.4 207.8,416.2 209.2,415.1 210.7,414.1 212.1,413.2 213.5,412.4 215.0,411.6 216.4,411.0 217.8,410.4 219.3,409.9 220.7,409.5 222.1,409.2 223.6,408.9 225.0,408.8 226.4,408.7 227.9,408.7 229.3,409.1 230.7,409.8 232.2,410.8 233.6,412.1 235.0,413.7 236.5,415.7 237.9,417.9 239.3,420.5 240.8,423.4 242.1,426.5Z"/>
<path d="M198.4,427.2 199.5,425.9 201.0,424.3 202.4,422.8 203.8,421.4 205.3,420.0 206.7,418.8 208.1,417.6 209.6,416.5 211.0,415.5 212.5,414.6 213.9,413.8 215.3,413.0 216.8,412.4 218.2,411.8 219.6,411.3 221.1,410.9 222.5,410.6 223.9,410.3 225.4,410.2 226.8,410.1 228.2,410.1 229.7,410.5 231.1,411.2 232.6,412.2 234.0,413.5 235.4,415.1 236.9,417.1 238.3,419.3 239.7,421.9 241.2,424.8 242.2,427.2Z"/>
<path d="M199.3,427.9 199.9,427.3 201.3,425.7 202.7,424.2 204.2,422.8 205.6,421.4 207.1,420.2 208.5,419.0 209.9,417.9 211.4,416.9 212.8,416.0 214.2,415.2 215.7,414.4 217.1,413.8 218.6,413.2 220.0,412.7 221.4,412.3 222.9,411.9 224.3,411.7 225.8,411.5 227.2,411.5 228.6,411.5 230.1,411.9 231.5,412.6 232.9,413.6 234.4,414.9 235.8,416.5 237.3,418.5 238.7,420.7 240.1,423.3 241.6,426.2 242.3,427.9Z"/>
<path d="M200.2,428.7 201.6,427.1 203.1,425.6 204.5,424.2 206.0,422.8 207.4,421.6 208.8,420.4 210.3,419.3 211.7,418.3 213.2,417.4 214.6,416.5 216.0,415.8 217.5,415.1 218.9,414.6 220.4,414.1 221.8,413.6 223.3,413.3 224.7,413.1 226.1,412.9 227.6,412.8 229.0,412.9 230.5,413.3 231.9,413.9 233.3,414.9 234.8,416.3 236.2,417.9 237.7,419.8 239.1,422.1 240.5,424.7 242.0,427.6 242.5,428.7Z"/>
<path d="M201.1,429.4 202.0,428.5 203.4,427.0 204.9,425.6 206.3,424.2 207.7,423.0 209.2,421.8 210.6,420.7 212.1,419.7 213.5,418.8 215.0,417.9 216.4,417.2 217.9,416.5 219.3,415.9 220.7,415.4 222.2,415.0 223.6,414.7 225.1,414.5 226.5,414.3 228.0,414.2 229.4,414.3 230.8,414.6 232.3,415.3 233.7,416.3 235.2,417.6 236.6,419.3 238.1,421.2 239.5,423.5 241.0,426.1 242.4,429.0 242.6,429.4Z"/>
<path d="M202.1,430.2 203.7,428.4 205.2,427.0 206.6,425.6 208.1,424.4 209.5,423.2 211.0,422.1 212.4,421.1 213.9,420.2 215.3,419.3 216.8,418.6 218.2,417.9 219.7,417.3 221.1,416.8 222.6,416.4 224.0,416.1 225.4,415.8 226.9,415.7 228.3,415.6 229.8,415.7 231.2,416.0 232.7,416.7 234.1,417.7 235.6,419.0 237.0,420.7 238.5,422.6 239.9,424.9 241.4,427.5 242.7,430.2Z"/>
<path d="M203.0,430.9 204.1,429.8 205.5,428.4 207.0,427.0 208.4,425.7 209.9,424.6 211.3,423.5 212.8,422.5 214.2,421.5 215.7,420.7 217.1,419.9 218.6,419.3 220.0,418.7 221.5,418.2 222.9,417.8 224.4,417.4 225.8,417.2 227.3,417.0 228.7,417.0 230.2,417.0 231.6,417.4 233.1,418.1 234.5,419.1 236.0,420.4 237.4,422.0 238.9,424.0 240.3,426.3 241.8,428.9 242.8,430.9Z"/>
<path d="M204.0,431.7 204.4,431.2 205.9,429.7 207.3,428.4 208.8,427.1 210.2,425.9 211.7,424.8 213.1,423.8 214.6,422.9 216.0,422.1 217.5,421.3 218.9,420.6 220.4,420.0 221.8,419.5 223.3,419.1 224.7,418.8 226.2,418.6 227.7,418.4 229.1,418.3 230.6,418.4 232.0,418.7 233.5,419.4 234.9,420.4 236.4,421.8 237.8,423.4 239.3,425.4 240.7,427.7 242.2,430.3 242.9,431.7Z"/>
<path d="M204.9,432.4 206.2,431.1 207.7,429.8 209.1,428.5 210.6,427.3 212.0,426.2 213.5,425.2 214.9,424.3 216.4,423.4 217.8,422.6 219.3,422.0 220.8,421.4 222.2,420.9 223.7,420.5 225.1,420.1 226.6,419.9 228.0,419.7 229.5,419.7 230.9,419.7 232.4,420.1 233.9,420.8 235.3,421.8 236.8,423.1 238.2,424.8 239.7,426.7 241.1,429.0 242.6,431.6 243.0,432.4Z"/>
<path d="M205.8,433.2 206.5,432.4 208.0,431.1 209.5,429.8 210.9,428.6 212.4,427.5 213.8,426.5 215.3,425.6 216.8,424.7 218.2,424.0 219.7,423.3 221.1,422.7 222.6,422.2 224.0,421.8 225.5,421.5 227.0,421.2 228.4,421.1 229.9,421.0 231.3,421.0 232.8,421.4 234.2,422.1 235.7,423.1 237.2,424.4 238.6,426.1 240.1,428.1 241.5,430.4 243.0,433.0 243.1,433.2Z"/>
<path d="M206.7,433.9 208.3,432.4 209.8,431.1 211.3,429.9 212.7,428.8 214.2,427.8 215.6,426.9 217.1,426.0 218.6,425.3 220.0,424.6 221.5,424.0 222.9,423.5 224.4,423.1 225.9,422.8 227.3,422.5 228.8,422.3 230.3,422.3 231.7,422.3 233.2,422.7 234.6,423.4 236.1,424.4 237.6,425.7 239.0,427.4 240.5,429.4 241.9,431.7 243.2,433.9Z"/>
<path d="M207.6,434.7 208.7,433.7 210.2,432.4 211.6,431.2 213.1,430.1 214.5,429.1 216.0,428.2 217.5,427.3 218.9,426.5 220.4,425.9 221.9,425.3 223.3,424.8 224.8,424.3 226.2,424.0 227.7,423.8 229.2,423.6 230.6,423.5 232.1,423.6 233.6,424.0 235.0,424.7 236.5,425.7 237.9,427.0 239.4,428.7 240.9,430.6 242.3,433.0 243.3,434.7Z"/>
<path d="M208.5,435.4 209.0,434.9 210.5,433.6 212.0,432.5 213.4,431.3 214.9,430.3 216.4,429.4 217.8,428.5 219.3,427.8 220.8,427.1 222.2,426.5 223.7,426.0 225.2,425.6 226.6,425.2 228.1,425.0 229.5,424.8 231.0,424.8 232.5,424.8 233.9,425.2 235.4,425.9 236.9,426.9 238.3,428.2 239.8,429.9 241.3,431.9 242.7,434.2 243.4,435.4Z"/>
<path d="M209.3,436.2 210.8,434.8 212.3,433.6 213.8,432.5 215.2,431.5 216.7,430.6 218.2,429.7 219.6,429.0 221.1,428.3 222.6,427.7 224.1,427.2 225.5,426.8 227.0,426.4 228.5,426.2 229.9,426.0 231.4,425.9 232.9,426.0 234.3,426.4 235.8,427.1 237.3,428.1 238.7,429.4 240.2,431.1 241.7,433.1 243.1,435.4 243.6,436.2Z"/>
<path d="M210.2,436.9 211.2,436.0 212.7,434.8 214.1,433.7 215.6,432.7 217.1,431.7 218.5,430.9 220.0,430.1 221.5,429.4 223.0,428.8 224.4,428.3 225.9,427.9 227.4,427.6 228.8,427.3 230.3,427.2 231.8,427.1 233.3,427.1 234.7,427.5 236.2,428.2 237.7,429.2 239.1,430.6 240.6,432.2 242.1,434.2 243.6,436.6 243.7,436.9Z"/>
<path d="M210.9,437.6 211.5,437.1 213.0,435.9 214.5,434.8 215.9,433.8 217.4,432.8 218.9,432.0 220.4,431.2 221.8,430.5 223.3,429.9 224.8,429.4 226.3,429.0 227.7,428.7 229.2,428.4 230.7,428.2 232.2,428.2 233.6,428.2 235.1,428.6 236.6,429.3 238.1,430.3 239.5,431.7 241.0,433.3 242.5,435.3 243.9,437.6Z"/>
<path d="M211.6,438.4 213.3,437.0 214.8,435.8 216.3,434.8 217.8,433.9 219.3,433.0 220.7,432.2 222.2,431.6 223.7,431.0 225.2,430.5 226.6,430.0 228.1,429.7 229.6,429.4 231.1,429.3 232.5,429.2 234.0,429.3 235.5,429.6 237.0,430.3 238.5,431.4 239.9,432.7 241.4,434.4 242.9,436.4 244.1,438.4Z"/>
<path d="M212.3,439.1 213.7,438.0 215.2,436.9 216.7,435.8 218.1,434.9 219.6,434.0 221.1,433.2 222.6,432.6 224.0,432.0 225.5,431.5 227.0,431.0 228.5,430.7 230.0,430.5 231.4,430.3 232.9,430.2 234.4,430.3 235.9,430.6 237.4,431.3 238.8,432.4 240.3,433.7 241.8,435.4 243.3,437.4 244.4,439.1Z"/>
<path d="M212.9,439.9 214.0,439.0 215.5,437.8 217.0,436.8 218.5,435.9 220.0,435.0 221.5,434.2 222.9,433.5 224.4,432.9 225.9,432.4 227.4,432.0 228.9,431.7 230.3,431.4 231.8,431.3 233.3,431.2 234.8,431.2 236.3,431.6 237.8,432.3 239.2,433.3 240.7,434.7 242.2,436.4 243.7,438.4 244.6,439.9Z"/>
<path d="M213.5,440.6 214.4,439.9 215.9,438.8 217.4,437.8 218.8,436.8 220.3,436.0 221.8,435.2 223.3,434.5 224.8,433.9 226.3,433.4 227.8,433.0 229.2,432.6 230.7,432.4 232.2,432.2 233.7,432.1 235.2,432.2 236.7,432.6 238.1,433.3 239.6,434.3 241.1,435.7 242.6,437.3 244.1,439.4 244.9,440.6Z"/>
<path d="M214.1,441.4 214.7,440.9 216.2,439.7 217.7,438.7 219.2,437.8 220.7,436.9 222.2,436.1 223.7,435.4 225.1,434.8 226.6,434.3 228.1,433.9 229.6,433.6 231.1,433.3 232.6,433.1 234.1,433.1 235.6,433.1 237.0,433.5 238.5,434.2 240.0,435.2 241.5,436.6 243.0,438.3 244.5,440.3 245.2,441.4Z"/>
<path d="M214.7,442.1 216.6,440.7 218.1,439.6 219.6,438.7 221.0,437.8 222.5,437.1 224.0,436.4 225.5,435.8 227.0,435.2 228.5,434.8 230.0,434.5 231.5,434.2 233.0,434.1 234.5,434.0 235.9,434.1 237.4,434.4 238.9,435.1 240.4,436.2 241.9,437.5 243.4,439.2 244.9,441.2 245.4,442.1Z"/>
<path d="M215.3,442.9 216.9,441.6 218.4,440.6 219.9,439.6 221.4,438.8 222.9,438.0 224.4,437.3 225.9,436.7 227.4,436.2 228.9,435.7 230.4,435.4 231.9,435.2 233.3,435.0 234.8,434.9 236.3,435.0 237.8,435.4 239.3,436.1 240.8,437.1 242.3,438.5 243.8,440.2 245.3,442.2 245.7,442.9Z"/>
<path d="M215.9,443.6 217.3,442.6 218.8,441.5 220.3,440.6 221.8,439.7 223.3,438.9 224.7,438.2 226.2,437.6 227.7,437.1 229.2,436.7 230.7,436.3 232.2,436.1 233.7,435.9 235.2,435.9 236.7,435.9 238.2,436.3 239.7,437.0 241.2,438.0 242.7,439.4 244.2,441.1 245.7,443.1 246.0,443.6Z"/>
<path d="M216.5,444.4 217.6,443.5 219.1,442.5 220.6,441.5 222.1,440.7 223.6,439.9 225.1,439.2 226.6,438.6 228.1,438.1 229.6,437.6 231.1,437.3 232.6,437.0 234.1,436.9 235.6,436.8 237.1,436.9 238.6,437.2 240.1,437.9 241.6,439.0 243.1,440.4 244.6,442.1 246.1,444.1 246.3,444.4Z"/>
<path d="M217.2,445.1 218.0,444.5 219.5,443.5 221.0,442.5 222.5,441.6 224.0,440.9 225.5,440.2 227.0,439.6 228.5,439.0 230.0,438.6 231.5,438.3 233.0,438.0 234.5,437.8 236.0,437.8 237.5,437.8 239.0,438.2 240.5,438.9 242.0,440.0 243.5,441.3 245.0,443.0 246.5,445.1 246.5,445.1Z"/>
<path d="M217.9,445.9 219.8,444.5 221.3,443.5 222.8,442.6 224.3,441.9 225.8,441.2 227.3,440.6 228.8,440.0 230.3,439.6 231.9,439.3 233.4,439.0 234.9,438.8 236.4,438.8 237.9,438.8 239.4,439.2 240.9,439.9 242.4,441.0 243.9,442.3 245.4,444.0 246.7,445.9Z"/>
<path d="M218.6,446.6 220.2,445.5 221.7,444.6 223.2,443.7 224.7,442.9 226.2,442.2 227.7,441.6 229.2,441.1 230.7,440.6 232.2,440.3 233.7,440.0 235.2,439.9 236.7,439.8 238.3,439.9 239.8,440.2 241.3,441.0 242.8,442.0 244.3,443.4 245.8,445.1 246.9,446.6Z"/>
<path d="M219.5,447.3 220.5,446.6 222.0,445.6 223.5,444.8 225.1,444.0 226.6,443.3 228.1,442.7 229.6,442.2 231.1,441.7 232.6,441.4 234.1,441.1 235.6,441.0 237.1,440.9 238.6,440.9 240.1,441.3 241.7,442.0 243.2,443.1 244.7,444.5 246.2,446.2 247.1,447.3Z"/>
<path d="M220.3,448.1 220.9,447.7 222.4,446.7 223.9,445.9 225.4,445.1 226.9,444.4 228.4,443.8 230.0,443.2 231.5,442.8 233.0,442.5 234.5,442.2 236.0,442.0 237.5,442.0 239.0,442.0 240.5,442.4 242.0,443.1 243.6,444.2 245.1,445.6 246.6,447.3 247.2,448.1Z"/>
<path d="M221.2,448.8 222.7,447.9 224.3,447.0 225.8,446.2 227.3,445.5 228.8,444.9 230.3,444.4 231.8,443.9 233.3,443.6 234.9,443.3 236.4,443.2 237.9,443.1 239.4,443.2 240.9,443.5 242.4,444.3 244.0,445.3 245.5,446.7 247.0,448.4 247.3,448.8Z"/>
<path d="M222.3,449.6 223.1,449.1 224.6,448.2 226.1,447.4 227.7,446.7 229.2,446.1 230.7,445.6 232.2,445.2 233.7,444.8 235.2,444.6 236.8,444.4 238.3,444.3 239.8,444.4 241.3,444.8 242.8,445.5 244.3,446.5 245.9,447.9 247.3,449.6Z"/>
<path d="M223.6,450.3 225.0,449.6 226.5,448.8 228.0,448.1 229.5,447.5 231.1,446.9 232.6,446.5 234.1,446.1 235.6,445.9 237.1,445.7 238.7,445.6 240.2,445.7 241.7,446.1 243.2,446.8 244.7,447.9 246.3,449.3 247.2,450.3Z"/>
<path d="M225.3,451.1 226.9,450.3 228.4,449.6 229.9,448.9 231.4,448.4 232.9,448.0 234.5,447.6 236.0,447.4 237.5,447.2 239.0,447.1 240.6,447.2 242.1,447.6 243.6,448.3 245.1,449.3 246.7,450.7 247.0,451.1Z"/>
<path d="M228.1,451.8 228.7,451.5 230.3,450.9 231.8,450.4 233.3,449.9 234.8,449.6 236.4,449.3 237.9,449.2 239.4,449.1 240.9,449.1 242.5,449.5 244.0,450.3 245.5,451.3 246.1,451.8Z"/>
<path d="M234.4,452.6 235.2,452.4 236.7,452.1 238.3,452.0 239.8,451.9 241.3,452.0 242.9,452.3 243.4,452.6Z"/>
</g>
<g fill="url(#wg)" stroke="#000" stroke-opacity="0.5" stroke-width="0.5" stroke-linejoin="round">
<path d="M116.8,413.0 118.5,412.8 119.9,412.9 121.0,413.0Z"/>
<path d="M112.6,413.8 114.5,412.9 115.9,412.5 117.3,412.2 118.7,412.1 120.1,412.1 121.5,412.3 122.9,412.7 124.3,413.2 125.6,413.8Z"/>
<path d="M110.3,414.5 111.9,413.5 113.3,412.8 114.7,412.2 116.1,411.8 117.5,411.5 118.9,411.4 120.3,411.4 121.7,411.6 123.1,411.9 124.4,412.4 125.8,413.1 127.2,413.9 128.2,414.5Z"/>
<path d="M110.5,415.3 112.1,414.2 113.5,413.5 114.9,412.9 116.3,412.5 117.7,412.2 119.1,412.1 120.5,412.2 121.9,412.3 123.2,412.7 124.6,413.2 126.0,413.8 127.4,414.6 128.4,415.3Z"/>
<path d="M110.7,416.0 112.3,415.0 113.7,414.2 115.1,413.7 116.5,413.2 117.9,413.0 119.3,412.9 120.6,412.9 122.0,413.1 123.4,413.4 124.8,413.9 126.2,414.6 127.6,415.3 128.6,416.0Z"/>
<path d="M110.8,416.7 112.5,415.7 113.8,415.0 115.2,414.4 116.6,414.0 118.0,413.7 119.4,413.6 120.8,413.6 122.2,413.8 123.6,414.2 125.0,414.7 126.4,415.3 127.8,416.1 128.8,416.7Z"/>
<path d="M88.3,417.5 90.2,416.8 91.6,416.4 93.0,416.2 94.4,416.1 95.8,416.1 97.2,416.2 98.6,416.5 100.0,416.9 101.4,417.4 101.7,417.5ZM111.0,417.5 112.6,416.5 114.0,415.7 115.4,415.2 116.8,414.7 118.2,414.5 119.6,414.3 121.0,414.4 122.4,414.6 123.8,414.9 125.2,415.4 126.6,416.0 128.0,416.8 129.0,417.5Z"/>
<path d="M84.4,418.2 86.1,417.2 87.5,416.4 88.9,415.8 90.3,415.3 91.7,415.0 93.1,414.7 94.5,414.6 96.0,414.6 97.4,414.8 98.8,415.0 100.2,415.4 101.6,415.9 103.0,416.5 104.4,417.3 105.8,418.2 105.8,418.2ZM111.2,418.2 112.8,417.2 114.2,416.5 115.6,415.9 117.0,415.5 118.4,415.2 119.8,415.1 121.2,415.1 122.6,415.3 124.0,415.6 125.4,416.1 126.8,416.8 128.2,417.6 129.2,418.2Z"/>
<path d="M81.7,419.0 83.4,417.6 84.8,416.6 86.2,415.7 87.7,415.0 89.1,414.4 90.5,413.9 91.9,413.5 93.3,413.3 94.7,413.1 96.1,413.2 97.5,413.3 98.9,413.6 100.3,413.9 101.7,414.5 103.1,415.1 104.5,415.9 105.9,416.7 107.3,417.8 108.7,418.9 108.9,419.0ZM111.3,419.0 113.0,417.9 114.4,417.2 115.8,416.6 117.2,416.2 118.6,415.9 120.0,415.8 121.4,415.9 122.8,416.0 124.2,416.4 125.6,416.9 127.0,417.5 128.4,418.3 129.4,419.0Z"/>
<path d="M79.9,419.7 80.7,418.9 82.1,417.7 83.5,416.5 85.0,415.6 86.4,414.7 87.8,413.9 89.2,413.3 90.6,412.8 92.0,412.5 93.4,412.2 94.8,412.1 96.2,412.1 97.6,412.3 99.0,412.5 100.5,412.9 101.9,413.4 103.3,414.1 104.7,414.8 106.1,415.7 107.5,416.7 108.9,417.9 110.3,419.1 111.3,419.7ZM112.1,419.7 113.1,419.1 114.5,418.4 115.9,417.8 117.4,417.4 118.8,417.1 120.2,417.0 121.6,417.0 123.0,417.2 124.4,417.6 125.8,418.0 127.2,418.7 128.6,419.5 129.0,419.7Z"/>
<path d="M80.0,420.5 80.8,419.7 82.2,418.4 83.7,417.3 85.1,416.3 86.5,415.4 87.9,414.7 89.3,414.1 90.7,413.6 92.1,413.2 93.5,413.0 95.0,412.8 96.4,412.9 97.8,413.0 99.2,413.3 100.6,413.6 102.0,414.2 103.4,414.8 104.8,415.6 106.2,416.5 107.7,417.5 109.1,418.6 110.5,419.9 111.1,420.5ZM116.7,420.5 117.5,420.2 118.9,420.0 120.4,419.8 121.8,419.9 123.2,420.1 124.6,420.4 124.8,420.5Z"/>
<path d="M80.1,421.2 80.9,420.4 82.4,419.1 83.8,418.0 85.2,417.0 86.6,416.2 88.0,415.4 89.4,414.8 90.8,414.3 92.3,413.9 93.7,413.7 95.1,413.6 96.5,413.6 97.9,413.7 99.3,414.0 100.7,414.4 102.2,414.9 103.6,415.5 105.0,416.3 106.4,417.2 107.8,418.2 109.2,419.4 110.6,420.6 111.2,421.2Z"/>
<path d="M80.2,422.0 81.1,421.1 82.5,419.9 83.9,418.8 85.3,417.8 86.7,416.9 88.1,416.1 89.6,415.5 91.0,415.0 92.4,414.7 93.8,414.4 95.2,414.3 96.6,414.3 98.1,414.5 99.5,414.7 100.9,415.1 102.3,415.6 103.7,416.3 105.1,417.0 106.6,417.9 108.0,419.0 109.4,420.1 110.8,421.4 111.4,422.0Z"/>
<path d="M80.3,422.7 81.2,421.9 82.6,420.6 84.0,419.5 85.4,418.5 86.8,417.6 88.3,416.9 89.7,416.3 91.1,415.8 92.5,415.4 93.9,415.2 95.4,415.0 96.8,415.1 98.2,415.2 99.6,415.5 101.0,415.8 102.4,416.4 103.9,417.0 105.3,417.8 106.7,418.7 108.1,419.7 109.5,420.8 111.0,422.1 111.6,422.7Z"/>
<path d="M80.4,423.5 81.3,422.6 82.7,421.4 84.1,420.2 85.5,419.2 87.0,418.4 88.4,417.6 89.8,417.0 91.2,416.5 92.6,416.1 94.1,415.9 95.5,415.8 96.9,415.8 98.3,415.9 99.8,416.2 101.2,416.6 102.6,417.1 104.0,417.7 105.4,418.5 106.9,419.4 108.3,420.4 109.7,421.6 111.1,422.9 111.7,423.5Z"/>
<path d="M80.5,424.2 81.4,423.4 82.8,422.1 84.2,421.0 85.6,420.0 87.1,419.1 88.5,418.4 89.9,417.7 91.3,417.2 92.8,416.9 94.2,416.6 95.6,416.5 97.0,416.5 98.5,416.7 99.9,416.9 101.3,417.3 102.7,417.8 104.2,418.5 105.6,419.2 107.0,420.1 108.4,421.2 109.9,422.3 111.3,423.6 111.9,424.2Z"/>
<path d="M81.9,425.0 82.9,424.0 84.3,422.9 85.8,421.9 87.2,421.0 88.6,420.3 90.0,419.6 91.5,419.1 92.9,418.8 94.3,418.5 95.8,418.4 97.2,418.4 98.6,418.6 100.0,418.8 101.5,419.2 102.9,419.7 104.3,420.4 105.7,421.2 107.2,422.1 108.6,423.1 110.0,424.2 110.8,425.0Z"/>
<path d="M84.8,425.7 85.9,425.0 87.3,424.1 88.7,423.3 90.2,422.7 91.6,422.2 93.0,421.9 94.5,421.6 95.9,421.5 97.3,421.5 98.7,421.6 100.2,421.9 101.6,422.3 103.0,422.8 104.5,423.5 105.9,424.2 107.3,425.1 108.1,425.7Z"/>
<path d="M88.8,426.5 90.3,425.8 91.7,425.3 93.2,424.9 94.6,424.7 96.0,424.6 97.5,424.6 98.9,424.7 100.3,425.0 101.8,425.4 103.2,425.9 104.4,426.5Z"/>
<path d="M100.1,427.2 101.9,426.6 103.3,426.2 104.8,425.9 106.2,425.7 107.6,425.6 109.1,425.6 110.5,425.7 111.9,425.9 113.4,426.2 114.8,426.5 116.3,427.0 116.7,427.2Z"/>
<path d="M98.5,427.9 99.2,427.6 100.6,427.1 102.0,426.6 103.5,426.2 104.9,425.9 106.4,425.7 107.8,425.6 109.2,425.6 110.7,425.7 112.1,425.9 113.6,426.2 115.0,426.6 116.4,427.1 117.9,427.6 118.5,427.9Z"/>
<path d="M98.7,428.7 99.3,428.4 100.7,427.8 102.2,427.3 103.6,426.9 105.1,426.7 106.5,426.5 108.0,426.4 109.4,426.4 110.8,426.5 112.3,426.6 113.7,426.9 115.2,427.3 116.6,427.8 118.0,428.4 118.7,428.7Z"/>
<path d="M98.8,429.4 99.4,429.1 100.9,428.6 102.3,428.1 103.8,427.7 105.2,427.4 106.7,427.2 108.1,427.1 109.6,427.1 111.0,427.2 112.4,427.4 113.9,427.7 115.3,428.1 116.8,428.5 118.2,429.1 118.9,429.4Z"/>
<path d="M98.9,430.2 99.6,429.9 101.0,429.3 102.5,428.8 103.9,428.4 105.4,428.1 106.8,427.9 108.3,427.8 109.7,427.8 111.2,427.9 112.6,428.1 114.0,428.4 115.5,428.8 116.9,429.3 118.4,429.9 119.1,430.2Z"/>
<path d="M99.1,430.9 99.7,430.6 101.2,430.0 102.6,429.6 104.1,429.2 105.5,428.9 107.0,428.7 108.4,428.6 109.9,428.6 111.3,428.7 112.8,428.9 114.2,429.2 115.7,429.5 117.1,430.0 118.6,430.6 119.2,430.9Z"/>
<path d="M100.8,431.7 102.8,431.0 104.2,430.6 105.7,430.3 107.1,430.1 108.6,430.0 110.0,430.0 111.5,430.1 112.9,430.3 114.4,430.6 115.8,431.0 117.3,431.5 117.8,431.7Z"/>
</g>
<text x="260.3" y="19.6" font-size="15.2" fill="#e8e8e8" stroke="#e8e8e8" stroke-width="0" textLength="248.5" lengthAdjust="spacingAndGlyphs" >Fixed Mic 3 Waterfall with Infra-bass</text>
<text x="12.9" y="34.9" font-size="8.3" fill="#e6e6e6" stroke="#e6e6e6" stroke-width="0.22" textLength="11.0" lengthAdjust="spacingAndGlyphs" >SPL</text>
<text x="13.3" y="76.7" font-size="8.3" fill="#e6e6e6" stroke="#e6e6e6" stroke-width="0.22" textLength="11.9" lengthAdjust="spacingAndGlyphs" >100</text>
<text x="17.3" y="111.4" font-size="8.3" fill="#e6e6e6" stroke="#e6e6e6" stroke-width="0.22" textLength="7.9" lengthAdjust="spacingAndGlyphs" >95</text>
<text x="17.3" y="146.2" font-size="8.3" fill="#e6e6e6" stroke="#e6e6e6" stroke-width="0.22" textLength="7.9" lengthAdjust="spacingAndGlyphs" >90</text>
<text x="17.3" y="180.9" font-size="8.3" fill="#e6e6e6" stroke="#e6e6e6" stroke-width="0.22" textLength="7.9" lengthAdjust="spacingAndGlyphs" >85</text>
<text x="17.3" y="215.7" font-size="8.3" fill="#e6e6e6" stroke="#e6e6e6" stroke-width="0.22" textLength="7.9" lengthAdjust="spacingAndGlyphs" >80</text>
<text x="17.3" y="250.5" font-size="8.3" fill="#e6e6e6" stroke="#e6e6e6" stroke-width="0.22" textLength="7.9" lengthAdjust="spacingAndGlyphs" >75</text>
<text x="17.3" y="285.2" font-size="8.3" fill="#e6e6e6" stroke="#e6e6e6" stroke-width="0.22" textLength="7.9" lengthAdjust="spacingAndGlyphs" >70</text>
<text x="17.3" y="320.0" font-size="8.3" fill="#e6e6e6" stroke="#e6e6e6" stroke-width="0.22" textLength="7.9" lengthAdjust="spacingAndGlyphs" >65</text>
<text x="17.3" y="354.7" font-size="8.3" fill="#e6e6e6" stroke="#e6e6e6" stroke-width="0.22" textLength="7.9" lengthAdjust="spacingAndGlyphs" >60</text>
<text x="17.3" y="389.5" font-size="8.3" fill="#e6e6e6" stroke="#e6e6e6" stroke-width="0.22" textLength="7.9" lengthAdjust="spacingAndGlyphs" >55</text>
<text x="17.3" y="424.3" font-size="8.3" fill="#e6e6e6" stroke="#e6e6e6" stroke-width="0.22" textLength="7.9" lengthAdjust="spacingAndGlyphs" >50</text>
<text x="24.3" y="466.4" font-size="8.3" fill="#e6e6e6" stroke="#e6e6e6" stroke-width="0.22" textLength="4.0" lengthAdjust="spacingAndGlyphs" >5</text>
<text x="59.2" y="466.4" font-size="8.3" fill="#e6e6e6" stroke="#e6e6e6" stroke-width="0.22" textLength="4.0" lengthAdjust="spacingAndGlyphs" >6</text>
<text x="88.8" y="466.4" font-size="8.3" fill="#e6e6e6" stroke="#e6e6e6" stroke-width="0.22" textLength="4.0" lengthAdjust="spacingAndGlyphs" >7</text>
<text x="114.3" y="466.4" font-size="8.3" fill="#e6e6e6" stroke="#e6e6e6" stroke-width="0.22" textLength="4.0" lengthAdjust="spacingAndGlyphs" >8</text>
<text x="136.9" y="466.4" font-size="8.3" fill="#e6e6e6" stroke="#e6e6e6" stroke-width="0.22" textLength="4.0" lengthAdjust="spacingAndGlyphs" >9</text>
<text x="155.1" y="466.4" font-size="8.3" fill="#e6e6e6" stroke="#e6e6e6" stroke-width="0.22" textLength="7.9" lengthAdjust="spacingAndGlyphs" >10</text>
<text x="287.9" y="466.4" font-size="8.3" fill="#e6e6e6" stroke="#e6e6e6" stroke-width="0.22" textLength="7.9" lengthAdjust="spacingAndGlyphs" >20</text>
<text x="365.5" y="466.4" font-size="8.3" fill="#e6e6e6" stroke="#e6e6e6" stroke-width="0.22" textLength="7.9" lengthAdjust="spacingAndGlyphs" >30</text>
<text x="420.6" y="466.4" font-size="8.3" fill="#e6e6e6" stroke="#e6e6e6" stroke-width="0.22" textLength="7.9" lengthAdjust="spacingAndGlyphs" >40</text>
<text x="463.4" y="466.4" font-size="8.3" fill="#e6e6e6" stroke="#e6e6e6" stroke-width="0.22" textLength="7.9" lengthAdjust="spacingAndGlyphs" >50</text>
<text x="498.3" y="466.4" font-size="8.3" fill="#e6e6e6" stroke="#e6e6e6" stroke-width="0.22" textLength="7.9" lengthAdjust="spacingAndGlyphs" >60</text>
<text x="527.8" y="466.4" font-size="8.3" fill="#e6e6e6" stroke="#e6e6e6" stroke-width="0.22" textLength="7.9" lengthAdjust="spacingAndGlyphs" >70</text>
<text x="553.4" y="466.4" font-size="8.3" fill="#e6e6e6" stroke="#e6e6e6" stroke-width="0.22" textLength="7.9" lengthAdjust="spacingAndGlyphs" >80</text>
<text x="575.9" y="466.4" font-size="8.3" fill="#e6e6e6" stroke="#e6e6e6" stroke-width="0.22" textLength="7.9" lengthAdjust="spacingAndGlyphs" >90</text>
<text x="595.1" y="466.4" font-size="8.3" fill="#e6e6e6" stroke="#e6e6e6" stroke-width="0.22" textLength="11.9" lengthAdjust="spacingAndGlyphs" >100</text>
<rect x="458.6" y="38.7" width="274.8" height="11.8" fill="#121212" stroke="#4a4a4a" stroke-width="1"/>
<text x="461.7" y="48.3" font-size="8.4" fill="#e6e6e6" stroke="#e6e6e6" stroke-width="0.22" textLength="268.8" lengthAdjust="spacingAndGlyphs" >500 ms window, 100 ms rise time, 15.0 ms slice interval, 1.7 Hz resn, t = 1,500 ms</text>
<rect x="600.0" y="65.8" width="5.6" height="8.2" fill="#121212" stroke="#484848" stroke-width="0.9"/>
<text x="601.2" y="72.2" font-size="6.4" fill="#e6e6e6" stroke="#e6e6e6" stroke-width="0.22" textLength="3.1" lengthAdjust="spacingAndGlyphs" >0</text>
<rect x="619.4" y="76.0" width="11.6" height="8.4" fill="#121212" stroke="#484848" stroke-width="0.9"/>
<text x="620.4" y="82.6" font-size="6.7" fill="#e6e6e6" stroke="#e6e6e6" stroke-width="0.22" textLength="9.6" lengthAdjust="spacingAndGlyphs" >300</text>
<rect x="643.8" y="88.2" width="13.0" height="8.3" fill="#121212" stroke="#484848" stroke-width="0.9"/>
<text x="645.0" y="94.9" font-size="7.0" fill="#e6e6e6" stroke="#e6e6e6" stroke-width="0.22" textLength="10.6" lengthAdjust="spacingAndGlyphs" >600</text>
<rect x="668.7" y="100.0" width="13.4" height="8.6" fill="#121212" stroke="#484848" stroke-width="0.9"/>
<text x="669.9" y="106.9" font-size="7.3" fill="#e6e6e6" stroke="#e6e6e6" stroke-width="0.22" textLength="11.0" lengthAdjust="spacingAndGlyphs" >900</text>
<rect x="688.1" y="112.2" width="19.4" height="9.6" fill="#121212" stroke="#484848" stroke-width="0.9"/>
<text x="689.5" y="119.9" font-size="8.0" fill="#e6e6e6" stroke="#e6e6e6" stroke-width="0.22" textLength="16.6" lengthAdjust="spacingAndGlyphs" >1,200</text>
<rect x="713.1" y="126.0" width="19.8" height="10.6" fill="#121212" stroke="#484848" stroke-width="0.9"/>
<text x="714.6" y="134.3" font-size="8.3" fill="#e6e6e6" stroke="#e6e6e6" stroke-width="0.22" textLength="16.9" lengthAdjust="spacingAndGlyphs" >1,500</text>
<clipPath id="c0"><rect x="25.5" y="60" width="3.4" height="14"/></clipPath>
<g clip-path="url(#c0)"><rect x="23.0" y="64.8" width="5.9" height="8.2" fill="#121212" stroke="#484848" stroke-width="0.9"/><text x="24.0" y="71.5" font-size="6.4" fill="#e6e6e6" stroke="#e6e6e6" stroke-width="0.22" textLength="3.1" lengthAdjust="spacingAndGlyphs" >0</text></g>
<rect x="25.9" y="76.0" width="11.6" height="8.4" fill="#121212" stroke="#484848" stroke-width="0.9"/>
<text x="26.9" y="82.6" font-size="6.7" fill="#e6e6e6" stroke="#e6e6e6" stroke-width="0.22" textLength="9.6" lengthAdjust="spacingAndGlyphs" >300</text>
<rect x="25.9" y="88.2" width="13.0" height="8.3" fill="#121212" stroke="#484848" stroke-width="0.9"/>
<text x="27.1" y="94.9" font-size="7.0" fill="#e6e6e6" stroke="#e6e6e6" stroke-width="0.22" textLength="10.6" lengthAdjust="spacingAndGlyphs" >600</text>
<rect x="25.9" y="100.0" width="13.4" height="8.6" fill="#121212" stroke="#484848" stroke-width="0.9"/>
<text x="27.1" y="106.9" font-size="7.3" fill="#e6e6e6" stroke="#e6e6e6" stroke-width="0.22" textLength="11.0" lengthAdjust="spacingAndGlyphs" >900</text>
<rect x="25.9" y="112.2" width="19.4" height="9.6" fill="#121212" stroke="#484848" stroke-width="0.9"/>
<text x="27.3" y="119.9" font-size="8.0" fill="#e6e6e6" stroke="#e6e6e6" stroke-width="0.22" textLength="16.6" lengthAdjust="spacingAndGlyphs" >1,200</text>
<rect x="25.9" y="126.0" width="19.8" height="10.6" fill="#121212" stroke="#484848" stroke-width="0.9"/>
<text x="27.4" y="134.3" font-size="8.3" fill="#e6e6e6" stroke="#e6e6e6" stroke-width="0.22" textLength="16.9" lengthAdjust="spacingAndGlyphs" >1,500</text>
<rect x="735.3" y="122.8" width="17.8" height="250.2" fill="url(#cb)"/>
<line x1="735.3" y1="135.3" x2="753.1" y2="135.3" stroke="#000" stroke-opacity="0.6" stroke-width="0.8"/>
<text x="756.3" y="138.3" font-size="8.3" fill="#e6e6e6" stroke="#e6e6e6" stroke-width="0.22" textLength="7.9" lengthAdjust="spacingAndGlyphs" >75</text>
<line x1="735.3" y1="160.3" x2="753.1" y2="160.3" stroke="#000" stroke-opacity="0.6" stroke-width="0.8"/>
<text x="756.3" y="163.3" font-size="8.3" fill="#e6e6e6" stroke="#e6e6e6" stroke-width="0.22" textLength="7.9" lengthAdjust="spacingAndGlyphs" >69</text>
<line x1="735.3" y1="185.3" x2="753.1" y2="185.3" stroke="#000" stroke-opacity="0.6" stroke-width="0.8"/>
<text x="756.3" y="188.3" font-size="8.3" fill="#e6e6e6" stroke="#e6e6e6" stroke-width="0.22" textLength="7.9" lengthAdjust="spacingAndGlyphs" >63</text>
<line x1="735.3" y1="210.4" x2="753.1" y2="210.4" stroke="#000" stroke-opacity="0.6" stroke-width="0.8"/>
<text x="756.3" y="213.4" font-size="8.3" fill="#e6e6e6" stroke="#e6e6e6" stroke-width="0.22" textLength="7.9" lengthAdjust="spacingAndGlyphs" >57</text>
<line x1="735.3" y1="235.4" x2="753.1" y2="235.4" stroke="#000" stroke-opacity="0.6" stroke-width="0.8"/>
<text x="756.3" y="238.4" font-size="8.3" fill="#e6e6e6" stroke="#e6e6e6" stroke-width="0.22" textLength="7.9" lengthAdjust="spacingAndGlyphs" >51</text>
<line x1="735.3" y1="260.4" x2="753.1" y2="260.4" stroke="#000" stroke-opacity="0.6" stroke-width="0.8"/>
<text x="756.3" y="263.4" font-size="8.3" fill="#e6e6e6" stroke="#e6e6e6" stroke-width="0.22" textLength="7.9" lengthAdjust="spacingAndGlyphs" >45</text>
<line x1="735.3" y1="285.4" x2="753.1" y2="285.4" stroke="#000" stroke-opacity="0.6" stroke-width="0.8"/>
<text x="756.3" y="288.4" font-size="8.3" fill="#e6e6e6" stroke="#e6e6e6" stroke-width="0.22" textLength="7.9" lengthAdjust="spacingAndGlyphs" >39</text>
<line x1="735.3" y1="310.4" x2="753.1" y2="310.4" stroke="#000" stroke-opacity="0.6" stroke-width="0.8"/>
<text x="756.3" y="313.4" font-size="8.3" fill="#e6e6e6" stroke="#e6e6e6" stroke-width="0.22" textLength="7.9" lengthAdjust="spacingAndGlyphs" >33</text>
<line x1="735.3" y1="335.5" x2="753.1" y2="335.5" stroke="#000" stroke-opacity="0.6" stroke-width="0.8"/>
<text x="756.3" y="338.5" font-size="8.3" fill="#e6e6e6" stroke="#e6e6e6" stroke-width="0.22" textLength="7.9" lengthAdjust="spacingAndGlyphs" >27</text>
<line x1="735.3" y1="360.5" x2="753.1" y2="360.5" stroke="#000" stroke-opacity="0.6" stroke-width="0.8"/>
<text x="756.3" y="363.5" font-size="8.3" fill="#e6e6e6" stroke="#e6e6e6" stroke-width="0.22" textLength="7.9" lengthAdjust="spacingAndGlyphs" >21</text>
<text x="740.2" y="120.9" font-size="8.3" fill="#e6e6e6" stroke="#e6e6e6" stroke-width="0.22" textLength="7.9" lengthAdjust="spacingAndGlyphs" >78</text>
<text x="740.2" y="381.2" font-size="8.3" fill="#e6e6e6" stroke="#e6e6e6" stroke-width="0.22" textLength="7.9" lengthAdjust="spacingAndGlyphs" >18</text>
<rect x="275.3" y="474.8" width="8" height="8" fill="#2a2a2a" stroke="#cfcfcf" stroke-width="0.9" rx="0.8"/>
<path d="M276.9,478.8 L278.8,481 L282,476.4" fill="none" stroke="#fff" stroke-width="1.3" stroke-linecap="round" stroke-linejoin="round"/>
<text x="286.6" y="481.9" font-size="8.0" fill="#3fd2d6" stroke="#3fd2d6" stroke-width="0.22" textLength="50.4" lengthAdjust="spacingAndGlyphs" >Fixed Mic IB LF</text>
<line x1="392.5" y1="479.2" x2="424.6" y2="479.2" stroke="#3fd2d6" stroke-width="1.3"/>
<text x="454.0" y="481.9" font-size="8.0" fill="#3fd2d6" stroke="#3fd2d6" stroke-width="0.22" textLength="24.3" lengthAdjust="spacingAndGlyphs" >24.6 dB</text>
<g id="logo">
<rect x="611.6" y="411.7" width="151.2" height="69.0" fill="#283d54" stroke="#8d9296" stroke-width="1.3"/>
<path d="M611.6,480.7 H762.8 V411.7" fill="none" stroke="#4d5358" stroke-width="1.3"/>
<clipPath id="vclip"><path d="M630,405 L690,405 L690,433.6 L711.5,433.6 L691.0,477 L690,482 L630,482 Z"/></clipPath>
<clipPath id="aclip"><path d="M605,405 L652,405 L652,419 L644.5,431.5 L665.5,460.5 L605,460.5 Z"/></clipPath>
<g font-weight="400" fill="#d4242b" stroke="#283d54" stroke-width="1.5" stroke-linejoin="miter">
<g clip-path="url(#aclip)"><text transform="translate(614.4,458.2) scale(1.62,1)" font-size="53.3" x="0" y="0">A</text></g>
<path d="M629.5,445.2 H664 V450.4 H626.2 Z" stroke="none"/>
<g clip-path="url(#vclip)"><text transform="translate(643.0,476.4) scale(1.62,1)" font-size="78.4" x="0" y="0">V</text></g>
</g>
<g font-weight="400" fill="#2b7cd0" stroke="#2b7cd0" stroke-width="0.55" font-size="19">
<text x="617.2" y="476.3" textLength="43.0" lengthAdjust="spacingAndGlyphs">NIR</text>
<text x="690.6" y="476.3" textLength="66.0" lengthAdjust="spacingAndGlyphs">ANA</text>
</g>
<path d="M673.5,442.8 L708.5,442.8 L710.2,441 L711.6,431 L713.4,421.6 L715,426 L716.8,441 L718.8,452 L721,455.8 L722.6,447 L724.2,437.5 L725.4,437 L726.6,446 L727.8,448 L729,440 L730.4,434.5 L731.6,444 L733,447 L734.4,438 L736,429 L737.9,425.6 L739.6,432 L741.4,442 L743,448.5 L744.6,442 L746.2,435 L747.8,438.5 L749.4,442.4 L756.6,442.4" fill="none" stroke="#e4e8ec" stroke-width="1.0" stroke-linejoin="round"/>
</g>
</svg></body></html>
